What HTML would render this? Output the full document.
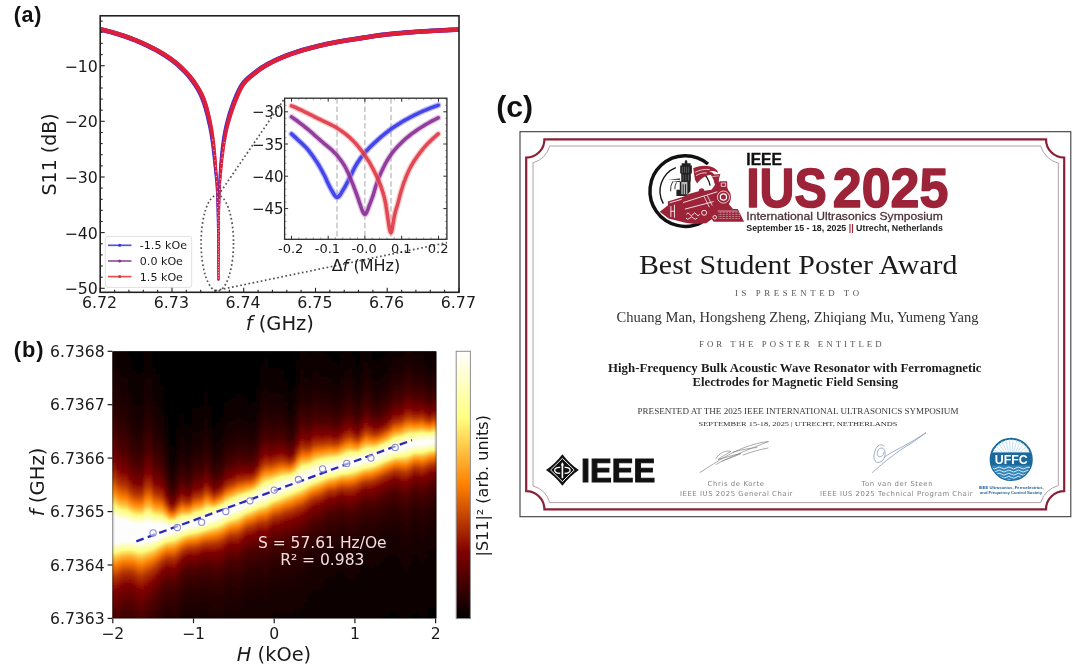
<!DOCTYPE html>
<html lang="en"><head><meta charset="utf-8"><title>Figure</title>
<style>
html,body{margin:0;padding:0;background:#fff;}
body{width:1080px;height:670px;overflow:hidden;}
svg{display:block;filter:blur(0.45px);}
</style></head><body>
<svg width="1080" height="670" viewBox="0 0 1080 670">
<rect width="1080" height="670" fill="#fff"/>
<!-- part_a -->
<clipPath id="ca"><rect x="100.2" y="15.8" width="358.8" height="276.5"/></clipPath><g clip-path="url(#ca)">
<path d="M98.6 31.4 L100.8 31.9 L103 32.4 L105.1 33 L107.3 33.5 L109.4 34.1 L111.6 34.7 L113.7 35.3 L115.9 36 L118 36.6 L120.1 37.3 L122.2 38 L124.3 38.7 L126.4 39.4 L128.5 40.2 L130.6 41 L132.7 41.8 L134.7 42.6 L136.8 43.5 L138.8 44.3 L140.8 45.2 L142.9 46.2 L144.9 47.1 L146.9 48.1 L148.9 49.1 L150.9 50.1 L152.8 51.1 L154.8 52.1 L156.8 53.2 L158.7 54.3 L160.6 55.4 L162.4 56.6 L164.3 57.7 L166.1 59 L168 60.2 L169.8 61.5 L171.6 62.8 L173.3 64.2 L175 65.6 L176.7 67 L178.3 68.4 L179.8 69.9 L181.4 71.5 L183 73.1 L184.5 74.7 L186 76.3 L187.4 78 L188.8 79.7 L190.1 81.5 L191.4 83.2 L192.6 85 L193.8 86.8 L195 88.7 L196.2 90.6 L197.2 92.5 L198.3 94.5 L199.2 96.4 L200 98.4 L200.8 100.4 L201.6 102.4 L202.3 104.5 L202.9 106.6 L203.6 108.7 L204.2 110.9 L204.8 113 L205.4 115.2 L205.9 117.3 L206.4 119.5 L206.9 121.7 L207.4 123.9 L207.9 126 L208.4 128.2 L208.8 130.4 L209.2 132.6 L209.6 134.8 L209.9 137 L210.3 139.2 L210.6 141.4 L210.9 143.6 L211.2 145.8 L211.5 148.1 L211.8 150.3 L212 152.5 L212.3 154.7 L212.6 157 L212.8 159.2 L213.1 161.4 L213.3 163.7 L213.5 165.9 L213.8 168.1 L214 170.4 L214.2 172.6 L214.5 174.8 L214.7 177.1 L215 179.3 L215.2 181.5 L215.4 183.8 L215.6 186 L215.7 188.2 L215.8 190.5 L216 192.7 L216.1 194.9 L216.2 197.2 L216.3 199.4 L216.3 201.7 L216.4 203.9 L216.4 206.2 L216.5 208.4 L216.6 210.7 L216.6 212.9 L216.7 215.1 L216.7 217.4 L216.8 219.6 L216.8 221.9 L216.8 224.1 L216.9 226.4 L216.9 228.6 L217 230.9 L217 233.1 L217 235.4 L217.1 237.6 L217.1 239.9 L217.1 242.1 L217.2 244.4 L217.2 246.6 L217.2 248.8 L217.3 251.1 L217.3 253.3 L217.3 255.6 L217.4 257.8 L217.4 260.1 L217.4 262.3 L217.5 264.6 L217.5 266.8 L217.5 269.1 L217.5 271.3 L217.6 273.6 L217.6 275.8 L217.6 278.1 L217.6 280.3 L219.2 280.3 L219.2 278 L219.2 275.8 L219.2 273.6 L219.2 271.3 L219.2 269.1 L219.2 266.8 L219.2 264.6 L219.2 262.3 L219.2 260.1 L219.2 257.8 L219.2 255.6 L219.1 253.3 L219.1 251.1 L219.1 248.8 L219.1 246.6 L219.1 244.3 L219.1 242.1 L219.1 239.8 L219 237.6 L219 235.3 L219 233.1 L219 230.8 L219 228.6 L218.9 226.4 L218.9 224.1 L218.9 221.9 L218.9 219.6 L218.8 217.4 L218.8 215.1 L218.8 212.9 L218.7 210.6 L218.7 208.4 L218.7 206.1 L218.6 203.9 L218.6 201.6 L218.5 199.4 L218.5 197.1 L218.4 194.9 L218.3 192.6 L218.3 190.4 L218.2 188.1 L218.1 185.9 L218 183.6 L217.8 181.3 L217.7 179.1 L217.5 176.8 L217.3 174.6 L217.1 172.4 L216.9 170.1 L216.8 167.9 L216.6 165.6 L216.4 163.4 L216.2 161.1 L216 158.9 L215.9 156.7 L215.6 154.4 L215.4 152.2 L215.2 149.9 L215 147.7 L214.8 145.4 L214.5 143.2 L214.3 140.9 L214 138.7 L213.7 136.4 L213.4 134.2 L213.1 132 L212.7 129.7 L212.3 127.5 L211.9 125.2 L211.5 123 L211.1 120.8 L210.6 118.6 L210.1 116.4 L209.6 114.1 L209.1 111.9 L208.5 109.7 L207.9 107.5 L207.3 105.3 L206.7 103.1 L205.9 100.9 L205.2 98.7 L204.3 96.6 L203.4 94.5 L202.4 92.4 L201.3 90.3 L200.2 88.3 L199 86.3 L197.7 84.3 L196.5 82.4 L195.2 80.5 L193.8 78.7 L192.4 76.9 L191 75.1 L189.5 73.3 L187.9 71.6 L186.3 69.9 L184.7 68.2 L183.1 66.6 L181.4 65 L179.7 63.5 L178 62 L176.2 60.5 L174.4 59.1 L172.5 57.7 L170.7 56.4 L168.8 55.1 L166.9 53.8 L164.9 52.6 L163 51.4 L161 50.2 L159 49.1 L157 48 L155 46.9 L153 45.9 L151 44.9 L148.9 43.9 L146.9 42.9 L144.8 41.9 L142.8 41 L140.7 40.1 L138.6 39.1 L136.5 38.3 L134.4 37.4 L132.3 36.6 L130.1 35.8 L128 35 L125.8 34.3 L123.7 33.5 L121.5 32.8 L119.4 32.2 L117.2 31.5 L115 30.8 L112.9 30.2 L110.7 29.6 L108.5 29 L106.3 28.4 L104.1 27.9 L101.9 27.3 L99.7 26.8Z" fill="#3b3be8"/>
<path d="M99 31.3 L101.2 31.8 L103.4 32.3 L105.6 32.9 L107.7 33.4 L109.9 34 L112 34.6 L114.1 35.2 L116.3 35.9 L118.4 36.5 L120.5 37.2 L122.6 37.9 L124.8 38.6 L126.8 39.3 L128.9 40.1 L131 40.9 L133.1 41.7 L135.2 42.5 L137.2 43.4 L139.2 44.2 L141.3 45.1 L143.3 46.1 L145.3 47 L147.3 48 L149.3 49 L151.3 50 L153.3 51 L155.3 52 L157.2 53.1 L159.1 54.2 L161 55.3 L162.9 56.5 L164.8 57.6 L166.6 58.9 L168.4 60.1 L170.3 61.4 L172 62.7 L173.8 64.1 L175.5 65.5 L177.1 66.9 L178.7 68.3 L180.3 69.9 L181.9 71.4 L183.4 73 L185 74.6 L186.4 76.3 L187.9 78 L189.3 79.7 L190.6 81.4 L191.9 83.2 L193.1 84.9 L194.3 86.8 L195.5 88.6 L196.7 90.5 L197.7 92.5 L198.8 94.4 L199.7 96.4 L200.5 98.3 L201.3 100.3 L202.1 102.4 L202.8 104.5 L203.4 106.6 L204.1 108.7 L204.7 110.9 L205.3 113 L205.9 115.2 L206.4 117.3 L206.9 119.5 L207.4 121.7 L207.9 123.8 L208.4 126 L208.9 128.2 L209.3 130.4 L209.7 132.6 L210.1 134.8 L210.4 137 L210.8 139.2 L211.1 141.4 L211.4 143.6 L211.7 145.8 L212 148.1 L212.3 150.3 L212.5 152.5 L212.8 154.7 L213 156.9 L213.3 159.2 L213.5 161.4 L213.7 163.6 L213.9 165.9 L214.1 168.1 L214.4 170.4 L214.6 172.6 L214.8 174.8 L215.1 177.1 L215.3 179.3 L215.5 181.5 L215.7 183.8 L215.8 186 L216 188.2 L216.1 190.5 L216.2 192.7 L216.3 194.9 L216.4 197.2 L216.5 199.4 L216.5 201.7 L216.6 203.9 L216.6 206.2 L216.7 208.4 L216.7 210.7 L216.8 212.9 L216.8 215.1 L216.9 217.4 L216.9 219.6 L217 221.9 L217 224.1 L217 226.4 L217.1 228.6 L217.1 230.9 L217.2 233.1 L217.2 235.4 L217.2 237.6 L217.2 239.9 L217.3 242.1 L217.3 244.4 L217.3 246.6 L217.4 248.8 L217.4 251.1 L217.4 253.3 L217.5 255.6 L217.5 257.8 L217.5 260.1 L217.5 262.3 L217.6 264.6 L217.6 266.8 L217.6 269.1 L217.6 271.3 L217.7 273.6 L217.7 275.8 L217.7 278.1 L217.7 280.3 L219.3 280.3 L219.2 278 L219.2 275.8 L219.2 273.6 L219.2 271.3 L219.2 269.1 L219.2 266.8 L219.2 264.6 L219.2 262.3 L219.2 260.1 L219.2 257.8 L219.2 255.6 L219.2 253.3 L219.2 251.1 L219.1 248.8 L219.1 246.6 L219.1 244.3 L219.1 242.1 L219.1 239.8 L219.1 237.6 L219.1 235.3 L219.1 233.1 L219 230.8 L219 228.6 L219 226.4 L219 224.1 L219 221.9 L218.9 219.6 L218.9 217.4 L218.9 215.1 L218.8 212.9 L218.8 210.6 L218.8 208.4 L218.7 206.1 L218.7 203.9 L218.7 201.6 L218.6 199.4 L218.6 197.1 L218.5 194.9 L218.5 192.6 L218.4 190.4 L218.3 188.1 L218.3 185.9 L218.2 183.6 L218 181.3 L217.9 179.1 L217.7 176.8 L217.5 174.6 L217.3 172.4 L217.1 170.1 L217 167.9 L216.8 165.6 L216.7 163.4 L216.5 161.2 L216.3 158.9 L216.1 156.7 L215.9 154.4 L215.7 152.2 L215.5 149.9 L215.3 147.7 L215.1 145.4 L214.8 143.2 L214.6 140.9 L214.3 138.7 L214 136.5 L213.7 134.2 L213.4 132 L213 129.7 L212.6 127.5 L212.2 125.3 L211.8 123 L211.4 120.8 L210.9 118.6 L210.4 116.4 L209.9 114.2 L209.4 112 L208.8 109.7 L208.2 107.5 L207.6 105.3 L206.9 103.1 L206.2 100.9 L205.5 98.8 L204.6 96.7 L203.7 94.5 L202.7 92.4 L201.6 90.4 L200.5 88.3 L199.3 86.3 L198 84.4 L196.8 82.5 L195.5 80.6 L194.1 78.8 L192.7 76.9 L191.3 75.1 L189.8 73.4 L188.2 71.6 L186.6 69.9 L185 68.3 L183.4 66.7 L181.7 65.1 L180.1 63.6 L178.3 62.1 L176.5 60.6 L174.7 59.2 L172.9 57.8 L171 56.5 L169.1 55.2 L167.2 53.9 L165.3 52.7 L163.3 51.5 L161.4 50.3 L159.4 49.2 L157.4 48.1 L155.4 47 L153.3 46 L151.3 45 L149.3 44 L147.2 43 L145.2 42 L143.1 41.1 L141 40.2 L138.9 39.3 L136.8 38.4 L134.7 37.5 L132.6 36.7 L130.5 35.9 L128.4 35.1 L126.2 34.4 L124.1 33.6 L121.9 32.9 L119.7 32.3 L117.6 31.6 L115.4 31 L113.2 30.3 L111.1 29.7 L108.9 29.1 L106.7 28.5 L104.5 28 L102.3 27.4 L100.1 26.9Z" fill="#8a1f8f"/>
<path d="M99.6 31.1 L101.8 31.6 L103.9 32.2 L106.1 32.7 L108.2 33.3 L110.4 33.9 L112.5 34.5 L114.7 35.1 L116.8 35.7 L119 36.4 L121.1 37 L123.2 37.7 L125.3 38.4 L127.4 39.2 L129.5 40 L131.6 40.7 L133.7 41.5 L135.7 42.4 L137.8 43.2 L139.8 44.1 L141.8 45 L143.9 45.9 L145.9 46.9 L147.9 47.8 L149.9 48.8 L151.9 49.8 L153.9 50.9 L155.8 51.9 L157.8 53 L159.7 54.1 L161.6 55.2 L163.5 56.3 L165.3 57.5 L167.2 58.7 L169 60 L170.8 61.3 L172.6 62.6 L174.4 64 L176.1 65.4 L177.7 66.8 L179.3 68.2 L180.9 69.7 L182.5 71.3 L184.1 72.9 L185.6 74.5 L187.1 76.2 L188.5 77.9 L189.9 79.6 L191.2 81.3 L192.5 83.1 L193.7 84.9 L195 86.7 L196.1 88.6 L197.3 90.5 L198.4 92.4 L199.4 94.3 L200.3 96.3 L201.2 98.3 L202 100.3 L202.7 102.3 L203.4 104.4 L204.1 106.5 L204.7 108.7 L205.3 110.8 L205.9 113 L206.5 115.1 L207 117.3 L207.6 119.5 L208.1 121.6 L208.6 123.8 L209 126 L209.5 128.2 L209.9 130.4 L210.3 132.6 L210.7 134.8 L211 137 L211.4 139.2 L211.7 141.4 L212 143.6 L212.3 145.8 L212.6 148 L212.9 150.3 L213.1 152.5 L213.4 154.7 L213.6 156.9 L213.8 159.2 L214 161.4 L214.2 163.6 L214.4 165.9 L214.6 168.1 L214.8 170.4 L215 172.6 L215.3 174.8 L215.5 177.1 L215.7 179.3 L215.9 181.5 L216 183.8 L216.2 186 L216.3 188.2 L216.4 190.5 L216.5 192.7 L216.6 194.9 L216.6 197.2 L216.7 199.4 L216.8 201.7 L216.8 203.9 L216.9 206.2 L216.9 208.4 L217 210.7 L217 212.9 L217.1 215.1 L217.1 217.4 L217.1 219.6 L217.2 221.9 L217.2 224.1 L217.2 226.4 L217.3 228.6 L217.3 230.9 L217.3 233.1 L217.4 235.4 L217.4 237.6 L217.4 239.9 L217.5 242.1 L217.5 244.4 L217.5 246.6 L217.5 248.8 L217.6 251.1 L217.6 253.3 L217.6 255.6 L217.6 257.8 L217.7 260.1 L217.7 262.3 L217.7 264.6 L217.7 266.8 L217.7 269.1 L217.8 271.3 L217.8 273.6 L217.8 275.8 L217.8 278.1 L217.8 280.3 L219.3 280.3 L219.3 278 L219.3 275.8 L219.3 273.6 L219.2 271.3 L219.2 269.1 L219.2 266.8 L219.2 264.6 L219.2 262.3 L219.2 260.1 L219.2 257.8 L219.2 255.6 L219.2 253.3 L219.2 251.1 L219.2 248.8 L219.2 246.6 L219.2 244.3 L219.2 242.1 L219.2 239.8 L219.1 237.6 L219.1 235.3 L219.1 233.1 L219.1 230.8 L219.1 228.6 L219.1 226.4 L219 224.1 L219 221.9 L219 219.6 L219 217.4 L219 215.1 L218.9 212.9 L218.9 210.6 L218.9 208.4 L218.8 206.1 L218.8 203.9 L218.8 201.6 L218.7 199.4 L218.7 197.1 L218.6 194.9 L218.6 192.6 L218.6 190.4 L218.5 188.1 L218.4 185.9 L218.3 183.6 L218.2 181.4 L218.1 179.1 L217.9 176.9 L217.7 174.6 L217.6 172.4 L217.4 170.1 L217.3 167.9 L217.1 165.6 L217 163.4 L216.8 161.2 L216.7 158.9 L216.5 156.7 L216.3 154.4 L216.1 152.2 L215.9 149.9 L215.7 147.7 L215.5 145.4 L215.2 143.2 L214.9 141 L214.7 138.7 L214.4 136.5 L214.1 134.2 L213.7 132 L213.4 129.8 L213 127.5 L212.6 125.3 L212.2 123.1 L211.7 120.8 L211.2 118.6 L210.8 116.4 L210.3 114.2 L209.7 112 L209.2 109.8 L208.6 107.6 L208 105.4 L207.3 103.2 L206.6 101 L205.8 98.8 L205 96.7 L204.1 94.6 L203.1 92.5 L202 90.4 L200.8 88.4 L199.6 86.4 L198.4 84.5 L197.1 82.6 L195.9 80.7 L194.5 78.8 L193.1 77 L191.7 75.2 L190.2 73.5 L188.6 71.7 L187 70 L185.4 68.4 L183.8 66.8 L182.1 65.2 L180.5 63.7 L178.7 62.2 L176.9 60.7 L175.1 59.3 L173.3 58 L171.4 56.6 L169.5 55.3 L167.6 54.1 L165.7 52.8 L163.8 51.6 L161.8 50.5 L159.8 49.3 L157.8 48.3 L155.8 47.2 L153.8 46.1 L151.7 45.1 L149.7 44.1 L147.7 43.1 L145.6 42.2 L143.5 41.2 L141.5 40.3 L139.4 39.4 L137.3 38.5 L135.2 37.7 L133.1 36.9 L130.9 36.1 L128.8 35.3 L126.7 34.5 L124.5 33.8 L122.3 33.1 L120.2 32.4 L118 31.7 L115.9 31.1 L113.7 30.5 L111.5 29.9 L109.3 29.3 L107.1 28.7 L104.9 28.1 L102.7 27.6 L100.5 27.1Z" fill="#e8202f" fill-opacity="0.88"/>
<path d="M219.2 280.3 L219.3 277.2 L219.3 274.2 L219.3 271.1 L219.3 268 L219.4 264.9 L219.4 261.9 L219.4 258.8 L219.5 255.7 L219.5 252.6 L219.5 249.6 L219.6 246.5 L219.6 243.4 L219.6 240.3 L219.6 237.3 L219.7 234.2 L219.7 231.1 L219.7 228.1 L219.8 225 L219.8 221.9 L219.9 218.8 L219.9 215.8 L219.9 212.7 L220 209.6 L220.1 206.5 L220.1 203.5 L220.2 200.4 L220.2 197.3 L220.3 194.3 L220.4 191.2 L220.5 188.1 L220.7 185.1 L220.9 182 L221.1 179 L221.3 175.9 L221.6 172.9 L221.9 169.8 L222.1 166.8 L222.4 163.7 L222.7 160.7 L223.1 157.6 L223.4 154.6 L223.8 151.5 L224.2 148.5 L224.7 145.5 L225.1 142.5 L225.6 139.4 L226.2 136.5 L226.8 133.5 L227.4 130.5 L228.1 127.6 L228.9 124.6 L229.7 121.7 L230.6 118.8 L231.5 115.9 L232.4 113 L233.4 110.1 L234.5 107.2 L235.5 104.4 L236.6 101.6 L237.8 98.8 L239 95.9 L240.2 93.1 L241.5 90.4 L242.9 87.8 L244.4 85.5 L246.1 83.3 L248.1 81.3 L250.4 79.3 L252.7 77.3 L255.1 75.4 L257.5 73.5 L259.9 71.7 L262.4 70 L264.9 68.4 L267.5 66.9 L270.1 65.5 L272.8 64.1 L275.5 62.7 L278.3 61.4 L281.1 60.2 L283.9 59 L286.7 57.9 L289.5 56.8 L292.4 55.8 L295.3 54.8 L298.2 53.9 L301.1 53 L304 52.1 L306.9 51.3 L309.9 50.5 L312.8 49.7 L315.8 49 L318.8 48.2 L321.7 47.5 L324.7 46.8 L327.7 46.2 L330.7 45.6 L333.7 45 L336.7 44.4 L339.7 43.9 L342.7 43.3 L345.7 42.8 L348.7 42.4 L351.8 41.9 L354.8 41.4 L357.9 40.9 L360.9 40.5 L363.9 40 L367 39.5 L370 39 L373 38.5 L376 38.1 L379.1 37.7 L382.1 37.3 L385.1 36.9 L388.2 36.6 L391.2 36.3 L394.3 36 L397.3 35.7 L400.4 35.4 L403.4 35.2 L406.5 34.9 L409.5 34.7 L412.6 34.4 L415.6 34.2 L418.7 34 L421.8 33.8 L424.8 33.6 L427.9 33.4 L430.9 33.3 L434 33.1 L437.1 32.9 L440.1 32.8 L443.2 32.6 L446.3 32.5 L449.3 32.3 L452.4 32.2 L455.5 32.1 L458.5 31.9 L458.4 27.3 L455.3 27.4 L452.2 27.5 L449.1 27.6 L446.1 27.8 L443 27.9 L439.9 28.1 L436.8 28.2 L433.8 28.4 L430.7 28.6 L427.6 28.8 L424.5 28.9 L421.5 29.1 L418.4 29.3 L415.3 29.5 L412.2 29.8 L409.2 30 L406.1 30.2 L403 30.5 L399.9 30.7 L396.9 31 L393.8 31.3 L390.7 31.6 L387.7 31.9 L384.6 32.3 L381.5 32.6 L378.5 33 L375.4 33.4 L372.3 33.9 L369.3 34.4 L366.2 34.9 L363.2 35.3 L360.2 35.8 L357.1 36.3 L354.1 36.8 L351.1 37.3 L348 37.7 L345 38.2 L341.9 38.7 L338.9 39.2 L335.8 39.8 L332.8 40.4 L329.7 41 L326.7 41.6 L323.7 42.3 L320.7 43 L317.7 43.7 L314.7 44.4 L311.7 45.2 L308.7 46 L305.7 46.8 L302.7 47.6 L299.7 48.5 L296.7 49.4 L293.8 50.4 L290.8 51.4 L287.9 52.5 L285 53.6 L282.1 54.7 L279.2 55.9 L276.4 57.2 L273.5 58.5 L270.7 59.9 L267.9 61.3 L265.2 62.8 L262.5 64.4 L259.8 66.1 L257.2 67.9 L254.7 69.8 L252.3 71.7 L249.8 73.7 L247.3 75.8 L244.9 77.9 L242.7 80.3 L240.7 82.8 L238.9 85.5 L237.4 88.3 L236 91.2 L234.7 94.1 L233.5 97 L232.4 99.8 L231.2 102.8 L230.2 105.7 L229.2 108.6 L228.2 111.6 L227.3 114.6 L226.5 117.6 L225.7 120.6 L224.9 123.6 L224.2 126.6 L223.5 129.7 L223 132.7 L222.4 135.8 L221.9 138.8 L221.5 141.9 L221.1 145 L220.7 148.1 L220.4 151.1 L220.1 154.2 L219.8 157.3 L219.6 160.3 L219.3 163.4 L219.1 166.5 L218.9 169.6 L218.7 172.6 L218.5 175.7 L218.4 178.8 L218.2 181.9 L218.1 185 L218.1 188 L218 191.1 L218 194.2 L218 197.3 L217.9 200.4 L217.9 203.4 L217.8 206.5 L217.8 209.6 L217.8 212.7 L217.8 215.7 L217.7 218.8 L217.7 221.9 L217.7 225 L217.7 228 L217.7 231.1 L217.7 234.2 L217.7 237.3 L217.7 240.3 L217.7 243.4 L217.7 246.5 L217.7 249.6 L217.7 252.6 L217.6 255.7 L217.6 258.8 L217.6 261.9 L217.6 264.9 L217.6 268 L217.6 271.1 L217.6 274.1 L217.6 277.2 L217.6 280.3Z" fill="#3b3be8"/>
<path d="M219.3 280.3 L219.3 277.2 L219.3 274.2 L219.3 271.1 L219.4 268 L219.4 264.9 L219.4 261.9 L219.5 258.8 L219.5 255.7 L219.5 252.6 L219.6 249.6 L219.6 246.5 L219.6 243.4 L219.7 240.3 L219.7 237.3 L219.7 234.2 L219.8 231.1 L219.8 228.1 L219.8 225 L219.9 221.9 L219.9 218.8 L220 215.8 L220 212.7 L220.1 209.6 L220.1 206.5 L220.2 203.5 L220.3 200.4 L220.3 197.3 L220.4 194.3 L220.6 191.2 L220.7 188.1 L220.8 185.1 L221 182 L221.3 179 L221.5 175.9 L221.8 172.9 L222.1 169.8 L222.4 166.7 L222.7 163.7 L223 160.7 L223.3 157.6 L223.7 154.6 L224.1 151.5 L224.5 148.5 L225 145.5 L225.4 142.4 L226 139.4 L226.5 136.4 L227.1 133.5 L227.7 130.5 L228.5 127.6 L229.2 124.6 L230.1 121.7 L230.9 118.7 L231.8 115.8 L232.7 112.9 L233.7 110.1 L234.8 107.2 L235.8 104.4 L236.9 101.5 L238.1 98.7 L239.3 95.9 L240.5 93.1 L241.8 90.3 L243.2 87.8 L244.7 85.4 L246.5 83.3 L248.5 81.2 L250.7 79.2 L253.1 77.2 L255.5 75.3 L257.9 73.4 L260.3 71.6 L262.8 69.9 L265.3 68.3 L267.8 66.8 L270.5 65.4 L273.2 64 L275.9 62.6 L278.7 61.3 L281.4 60.1 L284.3 58.9 L287.1 57.8 L289.9 56.7 L292.7 55.7 L295.6 54.7 L298.5 53.8 L301.4 52.9 L304.4 52 L307.3 51.2 L310.3 50.4 L313.2 49.6 L316.2 48.9 L319.1 48.1 L322.1 47.4 L325.1 46.7 L328.1 46.1 L331.1 45.5 L334.1 44.9 L337.1 44.3 L340.1 43.7 L343.1 43.2 L346.1 42.7 L349.1 42.3 L352.2 41.8 L355.2 41.3 L358.2 40.8 L361.3 40.4 L364.3 39.9 L367.4 39.4 L370.4 38.9 L373.4 38.4 L376.4 38 L379.4 37.6 L382.5 37.2 L385.5 36.8 L388.5 36.5 L391.6 36.2 L394.6 35.9 L397.7 35.6 L400.7 35.3 L403.8 35 L406.9 34.8 L409.9 34.6 L413 34.3 L416 34.1 L419.1 33.9 L422.2 33.7 L425.2 33.5 L428.3 33.3 L431.3 33.2 L434.4 33 L437.5 32.8 L440.5 32.7 L443.6 32.5 L446.7 32.4 L449.7 32.2 L452.8 32.1 L455.9 32 L458.9 31.8 L458.8 27.4 L455.7 27.5 L452.6 27.6 L449.5 27.7 L446.5 27.9 L443.4 28 L440.3 28.2 L437.2 28.4 L434.2 28.5 L431.1 28.7 L428 28.9 L424.9 29.1 L421.9 29.2 L418.8 29.4 L415.7 29.7 L412.6 29.9 L409.6 30.1 L406.5 30.3 L403.4 30.6 L400.4 30.9 L397.3 31.1 L394.2 31.4 L391.1 31.7 L388.1 32 L385 32.4 L381.9 32.7 L378.9 33.1 L375.8 33.5 L372.7 34 L369.7 34.5 L366.6 35 L363.6 35.5 L360.6 36 L357.5 36.4 L354.5 36.9 L351.5 37.4 L348.4 37.8 L345.4 38.3 L342.3 38.8 L339.3 39.4 L336.2 39.9 L333.2 40.5 L330.2 41.1 L327.1 41.7 L324.1 42.4 L321.1 43.1 L318.1 43.8 L315.1 44.5 L312.1 45.3 L309.1 46.1 L306.1 46.9 L303.1 47.7 L300.1 48.6 L297.2 49.5 L294.2 50.5 L291.3 51.5 L288.4 52.6 L285.5 53.7 L282.6 54.8 L279.7 56 L276.8 57.3 L274 58.6 L271.2 60 L268.4 61.4 L265.7 62.9 L263 64.5 L260.3 66.2 L257.7 68 L255.2 69.9 L252.7 71.8 L250.3 73.8 L247.8 75.8 L245.4 78 L243.1 80.3 L241.1 82.8 L239.4 85.5 L237.9 88.3 L236.5 91.2 L235.2 94.2 L234 97 L232.9 99.9 L231.7 102.8 L230.7 105.7 L229.7 108.7 L228.7 111.7 L227.8 114.6 L227 117.6 L226.2 120.6 L225.4 123.6 L224.7 126.6 L224 129.7 L223.4 132.7 L222.9 135.8 L222.4 138.9 L222 141.9 L221.6 145 L221.2 148.1 L220.9 151.1 L220.5 154.2 L220.2 157.3 L220 160.3 L219.7 163.4 L219.5 166.5 L219.3 169.6 L219.1 172.6 L218.9 175.7 L218.7 178.8 L218.5 181.9 L218.4 185 L218.3 188 L218.3 191.1 L218.2 194.2 L218.2 197.3 L218.1 200.4 L218.1 203.4 L218 206.5 L218 209.6 L218 212.7 L217.9 215.7 L217.9 218.8 L217.9 221.9 L217.9 225 L217.9 228 L217.8 231.1 L217.8 234.2 L217.8 237.3 L217.8 240.3 L217.8 243.4 L217.8 246.5 L217.8 249.6 L217.8 252.6 L217.8 255.7 L217.8 258.8 L217.8 261.9 L217.7 264.9 L217.7 268 L217.7 271.1 L217.7 274.1 L217.7 277.2 L217.7 280.3Z" fill="#8a1f8f"/>
<path d="M219.3 280.3 L219.3 277.2 L219.3 274.2 L219.4 271.1 L219.4 268 L219.4 264.9 L219.5 261.9 L219.5 258.8 L219.5 255.7 L219.6 252.6 L219.6 249.6 L219.6 246.5 L219.7 243.4 L219.7 240.3 L219.7 237.3 L219.8 234.2 L219.8 231.1 L219.9 228.1 L219.9 225 L219.9 221.9 L220 218.8 L220 215.8 L220.1 212.7 L220.2 209.6 L220.2 206.5 L220.3 203.5 L220.4 200.4 L220.5 197.3 L220.6 194.3 L220.7 191.2 L220.9 188.1 L221 185.1 L221.2 182 L221.5 179 L221.8 175.9 L222.1 172.9 L222.4 169.8 L222.7 166.7 L223 163.7 L223.3 160.6 L223.7 157.6 L224.1 154.6 L224.5 151.5 L224.9 148.5 L225.3 145.5 L225.8 142.4 L226.3 139.4 L226.9 136.4 L227.5 133.4 L228.1 130.5 L228.8 127.5 L229.6 124.6 L230.4 121.6 L231.3 118.7 L232.2 115.8 L233.1 112.9 L234.1 110 L235.1 107.1 L236.2 104.3 L237.3 101.5 L238.5 98.7 L239.6 95.8 L240.9 93 L242.2 90.3 L243.6 87.7 L245.1 85.3 L246.8 83.2 L248.9 81.1 L251.1 79.1 L253.5 77.1 L255.9 75.2 L258.3 73.3 L260.7 71.5 L263.2 69.8 L265.7 68.2 L268.3 66.7 L270.9 65.2 L273.6 63.8 L276.3 62.5 L279.1 61.2 L281.9 60 L284.7 58.8 L287.5 57.7 L290.4 56.6 L293.2 55.6 L296.1 54.6 L299 53.6 L301.9 52.7 L304.8 51.9 L307.8 51 L310.7 50.2 L313.7 49.5 L316.6 48.7 L319.6 48 L322.6 47.3 L325.6 46.6 L328.5 45.9 L331.5 45.3 L334.5 44.7 L337.5 44.1 L340.5 43.6 L343.5 43.1 L346.6 42.6 L349.6 42.1 L352.6 41.6 L355.7 41.2 L358.7 40.7 L361.8 40.2 L364.8 39.7 L367.8 39.2 L370.9 38.7 L373.9 38.3 L376.9 37.8 L379.9 37.4 L383 37 L386 36.7 L389 36.3 L392.1 36 L395.1 35.7 L398.2 35.4 L401.2 35.1 L404.3 34.9 L407.3 34.6 L410.4 34.4 L413.5 34.2 L416.5 34 L419.6 33.7 L422.6 33.5 L425.7 33.4 L428.8 33.2 L431.8 33 L434.9 32.8 L438 32.7 L441 32.5 L444.1 32.3 L447.2 32.2 L450.2 32.1 L453.3 31.9 L456.4 31.8 L459.4 31.7 L459.3 27.5 L456.2 27.6 L453.1 27.8 L450 27.9 L447 28 L443.9 28.2 L440.8 28.4 L437.7 28.5 L434.7 28.7 L431.6 28.8 L428.5 29 L425.5 29.2 L422.4 29.4 L419.3 29.6 L416.2 29.8 L413.2 30 L410.1 30.3 L407 30.5 L403.9 30.7 L400.9 31 L397.8 31.3 L394.7 31.6 L391.7 31.9 L388.6 32.2 L385.5 32.5 L382.5 32.9 L379.4 33.3 L376.3 33.7 L373.3 34.2 L370.2 34.6 L367.2 35.1 L364.1 35.6 L361.1 36.1 L358.1 36.6 L355 37.1 L352 37.5 L349 38 L345.9 38.5 L342.9 39 L339.8 39.5 L336.8 40.1 L333.7 40.6 L330.7 41.2 L327.7 41.9 L324.7 42.5 L321.6 43.2 L318.6 43.9 L315.6 44.7 L312.6 45.4 L309.6 46.2 L306.7 47 L303.7 47.9 L300.7 48.8 L297.7 49.7 L294.8 50.7 L291.8 51.7 L288.9 52.7 L286 53.8 L283.1 55 L280.2 56.2 L277.4 57.4 L274.5 58.8 L271.7 60.1 L269 61.6 L266.2 63.1 L263.5 64.6 L260.9 66.3 L258.3 68.2 L255.8 70 L253.3 71.9 L250.9 73.9 L248.4 76 L246 78.1 L243.8 80.4 L241.8 82.9 L240.1 85.6 L238.5 88.4 L237.2 91.3 L235.9 94.2 L234.7 97.1 L233.5 99.9 L232.4 102.8 L231.3 105.8 L230.3 108.7 L229.4 111.7 L228.5 114.7 L227.6 117.7 L226.8 120.6 L226.1 123.7 L225.3 126.7 L224.7 129.7 L224.1 132.8 L223.5 135.8 L223.1 138.9 L222.6 141.9 L222.2 145 L221.8 148.1 L221.5 151.2 L221.1 154.2 L220.8 157.3 L220.5 160.4 L220.2 163.4 L220 166.5 L219.7 169.6 L219.5 172.6 L219.3 175.7 L219.1 178.8 L218.9 181.9 L218.8 185 L218.7 188 L218.6 191.1 L218.5 194.2 L218.4 197.3 L218.4 200.4 L218.3 203.4 L218.3 206.5 L218.2 209.6 L218.2 212.7 L218.1 215.7 L218.1 218.8 L218.1 221.9 L218.1 225 L218.1 228 L218 231.1 L218 234.2 L218 237.3 L218 240.3 L218 243.4 L218 246.5 L217.9 249.6 L217.9 252.6 L217.9 255.7 L217.9 258.8 L217.9 261.9 L217.9 264.9 L217.9 268 L217.9 271.1 L217.8 274.1 L217.8 277.2 L217.8 280.3Z" fill="#e8202f" fill-opacity="0.88"/>
<g fill="#f9c4d2" fill-opacity="0.85"><circle cx="212.7" cy="140" r="0.65"/><circle cx="224.3" cy="142.6" r="0.65"/><circle cx="213.4" cy="145.2" r="0.65"/><circle cx="223.6" cy="147.8" r="0.65"/><circle cx="214" cy="150.4" r="0.65"/><circle cx="222.8" cy="153" r="0.65"/><circle cx="214.6" cy="155.6" r="0.65"/><circle cx="222.2" cy="158.2" r="0.65"/><circle cx="215" cy="160.8" r="0.65"/><circle cx="221.7" cy="163.4" r="0.65"/><circle cx="215.5" cy="166" r="0.65"/><circle cx="221.2" cy="168.6" r="0.65"/><circle cx="215.9" cy="171.2" r="0.65"/><circle cx="220.7" cy="173.8" r="0.65"/><circle cx="216.3" cy="176.4" r="0.65"/><circle cx="220.3" cy="179" r="0.65"/><circle cx="216.7" cy="181.6" r="0.65"/><circle cx="220" cy="184.2" r="0.65"/><circle cx="217.2" cy="186.8" r="0.65"/><circle cx="219.6" cy="189.4" r="0.65"/><circle cx="217.3" cy="192" r="0.65"/><circle cx="219.5" cy="194.6" r="0.65"/><circle cx="217.4" cy="197.2" r="0.65"/><circle cx="219.4" cy="199.8" r="0.65"/><circle cx="217.6" cy="202.4" r="0.65"/><circle cx="219.3" cy="205" r="0.65"/><circle cx="217.7" cy="207.6" r="0.65"/><circle cx="219.2" cy="210.2" r="0.65"/><circle cx="217.8" cy="212.8" r="0.65"/><circle cx="219" cy="215.4" r="0.65"/><circle cx="217.9" cy="218" r="0.65"/><circle cx="219" cy="220.6" r="0.65"/><circle cx="218" cy="223.2" r="0.65"/><circle cx="218.9" cy="225.8" r="0.65"/><circle cx="218.1" cy="228.4" r="0.65"/><circle cx="218.9" cy="231" r="0.65"/><circle cx="218.1" cy="233.6" r="0.65"/><circle cx="218.8" cy="236.2" r="0.65"/><circle cx="218.2" cy="238.8" r="0.65"/><circle cx="218.8" cy="241.4" r="0.65"/><circle cx="218.2" cy="244" r="0.65"/><circle cx="218.8" cy="246.6" r="0.65"/><circle cx="218.3" cy="249.2" r="0.65"/><circle cx="218.7" cy="251.8" r="0.65"/><circle cx="218.3" cy="254.4" r="0.65"/><circle cx="218.7" cy="257" r="0.65"/><circle cx="218.4" cy="259.6" r="0.65"/><circle cx="218.6" cy="262.2" r="0.65"/><circle cx="218.4" cy="264.8" r="0.65"/><circle cx="218.6" cy="267.4" r="0.65"/><circle cx="218.4" cy="270" r="0.65"/><circle cx="218.6" cy="272.6" r="0.65"/><circle cx="218.5" cy="275.2" r="0.65"/><circle cx="218.5" cy="277.8" r="0.65"/></g>
</g>
<g fill="none" stroke="#555" stroke-width="1.7" stroke-dasharray="1.7 2.5">
<ellipse cx="217.3" cy="243" rx="16.2" ry="48"/>
<path d="M218.5 195 L284.5 98.5"/>
<path d="M215.5 290.6 L447 242.6"/>
</g>
<rect x="284.6" y="98.2" width="162.3" height="141.1" fill="#fff"/>
<g stroke="#a6a6a6" stroke-width="1" stroke-dasharray="5.5 2.8">
<path d="M337 98.2 V239.3"/>
<path d="M364.9 98.2 V239.3"/>
<path d="M391 98.2 V239.3"/>
</g>
<g fill="none" stroke-linejoin="round" stroke-linecap="round">
<path d="M291.5 133.9 L292.9 135.1 L294.2 136.4 L295.6 137.6 L296.9 138.9 L298.3 140.2 L299.6 141.4 L301 142.7 L302.4 143.9 L303.7 145.2 L305 146.5 L306.3 147.8 L307.5 149.2 L308.7 150.6 L309.8 152.1 L311 153.6 L312.1 155.1 L313.1 156.6 L314.2 158.1 L315.2 159.6 L316.3 161.2 L317.3 162.7 L318.2 164.3 L319.2 165.9 L320.1 167.5 L321 169.1 L321.9 170.7 L322.8 172.4 L323.6 174 L324.5 175.6 L325.3 177.3 L326.1 179 L326.8 180.7 L327.6 182.4 L328.4 184.1 L329.2 185.7 L330 187.4 L330.9 189 L331.9 190.7 L333 192.7 L334.1 194.6 L335.3 196.2 L336.4 197.2 L337.6 197.3 L338.7 196.6 L339.9 195.2 L341.1 193.4 L342.2 191.4 L343.3 189.6 L344.2 188.1 L345.2 186.5 L346 184.9 L346.9 183.2 L347.8 181.6 L348.6 179.9 L349.4 178.3 L350.3 176.6 L351.1 174.9 L351.9 173.2 L352.6 171.6 L353.5 169.9 L354.3 168.2 L355.2 166.6 L356.1 165 L357 163.5 L358 161.9 L359.1 160.4 L360.1 158.8 L361.2 157.3 L362.4 155.9 L363.5 154.4 L364.7 153 L365.9 151.6 L367.1 150.2 L368.3 148.9 L369.6 147.5 L370.9 146.2 L372.3 144.9 L373.6 143.6 L375 142.4 L376.4 141.1 L377.7 139.9 L379.1 138.7 L380.5 137.4 L381.9 136.2 L383.3 135 L384.8 133.9 L386.2 132.7 L387.7 131.6 L389.1 130.4 L390.6 129.3 L392.1 128.3 L393.6 127.2 L395.2 126.2 L396.7 125.2 L398.3 124.2 L399.9 123.2 L401.4 122.2 L403 121.3 L404.6 120.4 L406.2 119.5 L407.9 118.6 L409.5 117.7 L411.1 116.8 L412.8 116 L414.4 115.1 L416.1 114.3 L417.8 113.5 L419.4 112.7 L421.1 112 L422.8 111.2 L424.5 110.5 L426.2 109.8 L427.9 109.1 L429.6 108.4 L431.4 107.7 L433.1 107.1 L434.8 106.4 L436.6 105.8 L438.3 105.2" stroke="#8585f8" stroke-width="6" stroke-opacity="0.55"/>
<path d="M291.5 133.9 L292.9 135.1 L294.2 136.4 L295.6 137.6 L296.9 138.9 L298.3 140.2 L299.6 141.4 L301 142.7 L302.4 143.9 L303.7 145.2 L305 146.5 L306.3 147.8 L307.5 149.2 L308.7 150.6 L309.8 152.1 L311 153.6 L312.1 155.1 L313.1 156.6 L314.2 158.1 L315.2 159.6 L316.3 161.2 L317.3 162.7 L318.2 164.3 L319.2 165.9 L320.1 167.5 L321 169.1 L321.9 170.7 L322.8 172.4 L323.6 174 L324.5 175.6 L325.3 177.3 L326.1 179 L326.8 180.7 L327.6 182.4 L328.4 184.1 L329.2 185.7 L330 187.4 L330.9 189 L331.9 190.7 L333 192.7 L334.1 194.6 L335.3 196.2 L336.4 197.2 L337.6 197.3 L338.7 196.6 L339.9 195.2 L341.1 193.4 L342.2 191.4 L343.3 189.6 L344.2 188.1 L345.2 186.5 L346 184.9 L346.9 183.2 L347.8 181.6 L348.6 179.9 L349.4 178.3 L350.3 176.6 L351.1 174.9 L351.9 173.2 L352.6 171.6 L353.5 169.9 L354.3 168.2 L355.2 166.6 L356.1 165 L357 163.5 L358 161.9 L359.1 160.4 L360.1 158.8 L361.2 157.3 L362.4 155.9 L363.5 154.4 L364.7 153 L365.9 151.6 L367.1 150.2 L368.3 148.9 L369.6 147.5 L370.9 146.2 L372.3 144.9 L373.6 143.6 L375 142.4 L376.4 141.1 L377.7 139.9 L379.1 138.7 L380.5 137.4 L381.9 136.2 L383.3 135 L384.8 133.9 L386.2 132.7 L387.7 131.6 L389.1 130.4 L390.6 129.3 L392.1 128.3 L393.6 127.2 L395.2 126.2 L396.7 125.2 L398.3 124.2 L399.9 123.2 L401.4 122.2 L403 121.3 L404.6 120.4 L406.2 119.5 L407.9 118.6 L409.5 117.7 L411.1 116.8 L412.8 116 L414.4 115.1 L416.1 114.3 L417.8 113.5 L419.4 112.7 L421.1 112 L422.8 111.2 L424.5 110.5 L426.2 109.8 L427.9 109.1 L429.6 108.4 L431.4 107.7 L433.1 107.1 L434.8 106.4 L436.6 105.8 L438.3 105.2" stroke="#3030e8" stroke-width="3.5" stroke-opacity="0.85"/>
<path d="M291.5 116.9 L293.2 118.1 L294.9 119.3 L296.7 120.5 L298.4 121.8 L300 123.1 L301.7 124.4 L303.4 125.7 L305 127 L306.7 128.3 L308.3 129.6 L309.9 131 L311.5 132.4 L313.1 133.8 L314.6 135.2 L316.2 136.6 L317.8 138 L319.4 139.4 L320.9 140.8 L322.6 142.2 L324.2 143.6 L325.8 144.9 L327.5 146.3 L329.1 147.6 L330.7 149 L332.3 150.4 L333.8 151.9 L335.3 153.4 L336.7 154.9 L338 156.5 L339.3 158.2 L340.6 159.9 L341.8 161.6 L343 163.4 L344.2 165.2 L345.2 167 L346.2 168.8 L347.1 170.7 L348 172.6 L348.9 174.6 L349.7 176.5 L350.5 178.5 L351.3 180.4 L352.1 182.4 L352.9 184.4 L353.7 186.3 L354.4 188.3 L355.2 190.3 L355.9 192.3 L356.6 194.2 L357.3 196.2 L358 198.2 L358.7 200.2 L359.3 202.2 L360.1 204.3 L360.9 206.7 L361.8 209.3 L362.7 211.6 L363.7 213.4 L364.6 214.3 L365.5 214.1 L366.4 212.9 L367.3 210.9 L368.2 208.5 L369.1 205.9 L370 203.6 L370.8 201.6 L371.5 199.7 L372.3 197.7 L373 195.7 L373.6 193.7 L374.2 191.7 L374.8 189.6 L375.4 187.6 L376 185.6 L376.7 183.6 L377.4 181.6 L378.1 179.6 L378.9 177.6 L379.7 175.7 L380.5 173.7 L381.4 171.8 L382.3 169.9 L383.2 168 L384.2 166.1 L385.1 164.2 L386.1 162.4 L387.2 160.5 L388.3 158.7 L389.4 156.9 L390.6 155.2 L391.8 153.5 L393.1 151.8 L394.4 150.2 L395.8 148.6 L397.2 147 L398.7 145.4 L400.2 143.9 L401.7 142.4 L403.2 141 L404.8 139.5 L406.3 138.1 L407.9 136.8 L409.6 135.5 L411.3 134.2 L413 132.9 L414.7 131.7 L416.4 130.5 L418.2 129.3 L420 128.1 L421.7 127 L423.5 125.9 L425.3 124.8 L427.1 123.7 L429 122.7 L430.8 121.6 L432.7 120.6 L434.5 119.7 L436.4 118.7 L438.3 117.8" stroke="#cf92d8" stroke-width="6" stroke-opacity="0.55"/>
<path d="M291.5 116.9 L293.2 118.1 L294.9 119.3 L296.7 120.5 L298.4 121.8 L300 123.1 L301.7 124.4 L303.4 125.7 L305 127 L306.7 128.3 L308.3 129.6 L309.9 131 L311.5 132.4 L313.1 133.8 L314.6 135.2 L316.2 136.6 L317.8 138 L319.4 139.4 L320.9 140.8 L322.6 142.2 L324.2 143.6 L325.8 144.9 L327.5 146.3 L329.1 147.6 L330.7 149 L332.3 150.4 L333.8 151.9 L335.3 153.4 L336.7 154.9 L338 156.5 L339.3 158.2 L340.6 159.9 L341.8 161.6 L343 163.4 L344.2 165.2 L345.2 167 L346.2 168.8 L347.1 170.7 L348 172.6 L348.9 174.6 L349.7 176.5 L350.5 178.5 L351.3 180.4 L352.1 182.4 L352.9 184.4 L353.7 186.3 L354.4 188.3 L355.2 190.3 L355.9 192.3 L356.6 194.2 L357.3 196.2 L358 198.2 L358.7 200.2 L359.3 202.2 L360.1 204.3 L360.9 206.7 L361.8 209.3 L362.7 211.6 L363.7 213.4 L364.6 214.3 L365.5 214.1 L366.4 212.9 L367.3 210.9 L368.2 208.5 L369.1 205.9 L370 203.6 L370.8 201.6 L371.5 199.7 L372.3 197.7 L373 195.7 L373.6 193.7 L374.2 191.7 L374.8 189.6 L375.4 187.6 L376 185.6 L376.7 183.6 L377.4 181.6 L378.1 179.6 L378.9 177.6 L379.7 175.7 L380.5 173.7 L381.4 171.8 L382.3 169.9 L383.2 168 L384.2 166.1 L385.1 164.2 L386.1 162.4 L387.2 160.5 L388.3 158.7 L389.4 156.9 L390.6 155.2 L391.8 153.5 L393.1 151.8 L394.4 150.2 L395.8 148.6 L397.2 147 L398.7 145.4 L400.2 143.9 L401.7 142.4 L403.2 141 L404.8 139.5 L406.3 138.1 L407.9 136.8 L409.6 135.5 L411.3 134.2 L413 132.9 L414.7 131.7 L416.4 130.5 L418.2 129.3 L420 128.1 L421.7 127 L423.5 125.9 L425.3 124.8 L427.1 123.7 L429 122.7 L430.8 121.6 L432.7 120.6 L434.5 119.7 L436.4 118.7 L438.3 117.8" stroke="#80288c" stroke-width="3.5" stroke-opacity="0.85"/>
<path d="M291.5 105.8 L293.7 106.7 L295.9 107.7 L298 108.7 L300.2 109.7 L302.4 110.7 L304.5 111.8 L306.7 112.8 L308.8 113.9 L311 114.9 L313.1 116 L315.2 117.1 L317.4 118.2 L319.5 119.2 L321.7 120.3 L323.8 121.3 L326 122.3 L328.2 123.4 L330.3 124.4 L332.5 125.5 L334.6 126.6 L336.6 127.8 L338.6 129.1 L340.6 130.4 L342.6 131.8 L344.5 133.2 L346.4 134.7 L348.3 136.3 L350 137.8 L351.7 139.5 L353.4 141.1 L355.1 142.9 L356.7 144.7 L358.2 146.5 L359.7 148.4 L361.2 150.3 L362.7 152.2 L364.1 154.2 L365.4 156.1 L366.7 158.1 L368 160.1 L369.3 162.2 L370.5 164.2 L371.6 166.3 L372.8 168.5 L373.9 170.6 L374.9 172.7 L376 174.9 L377 177 L378 179.2 L379 181.4 L379.9 183.6 L380.7 185.8 L381.5 188.1 L382.2 190.4 L383 192.7 L383.6 195 L384.3 197.3 L384.8 199.6 L385.3 201.9 L385.8 204.3 L386.1 206.6 L386.5 209 L386.8 211.4 L387.2 213.8 L387.6 216.3 L388 219.3 L388.5 222.4 L388.9 225.4 L389.4 228.2 L389.9 230.5 L390.4 232.1 L390.9 232.7 L391.3 232.2 L391.8 230.8 L392.3 228.6 L392.7 225.9 L393.2 222.8 L393.7 219.7 L394.2 216.8 L394.8 214.2 L395.4 211.8 L396 209.5 L396.7 207.3 L397.4 205 L398.1 202.7 L398.7 200.3 L399.3 198 L399.9 195.7 L400.5 193.4 L401.2 191.1 L401.9 188.8 L402.6 186.5 L403.3 184.3 L404.1 182 L405 179.8 L405.8 177.5 L406.7 175.3 L407.7 173.1 L408.7 170.9 L409.7 168.8 L410.8 166.7 L412 164.6 L413.2 162.5 L414.5 160.5 L415.8 158.5 L417.2 156.5 L418.6 154.6 L420 152.7 L421.4 150.8 L423 148.9 L424.5 147.1 L426.1 145.3 L427.7 143.6 L429.4 141.9 L431.1 140.2 L432.9 138.6 L434.7 137 L436.5 135.4 L438.3 133.9" stroke="#f79898" stroke-width="6" stroke-opacity="0.55"/>
<path d="M291.5 105.8 L293.7 106.7 L295.9 107.7 L298 108.7 L300.2 109.7 L302.4 110.7 L304.5 111.8 L306.7 112.8 L308.8 113.9 L311 114.9 L313.1 116 L315.2 117.1 L317.4 118.2 L319.5 119.2 L321.7 120.3 L323.8 121.3 L326 122.3 L328.2 123.4 L330.3 124.4 L332.5 125.5 L334.6 126.6 L336.6 127.8 L338.6 129.1 L340.6 130.4 L342.6 131.8 L344.5 133.2 L346.4 134.7 L348.3 136.3 L350 137.8 L351.7 139.5 L353.4 141.1 L355.1 142.9 L356.7 144.7 L358.2 146.5 L359.7 148.4 L361.2 150.3 L362.7 152.2 L364.1 154.2 L365.4 156.1 L366.7 158.1 L368 160.1 L369.3 162.2 L370.5 164.2 L371.6 166.3 L372.8 168.5 L373.9 170.6 L374.9 172.7 L376 174.9 L377 177 L378 179.2 L379 181.4 L379.9 183.6 L380.7 185.8 L381.5 188.1 L382.2 190.4 L383 192.7 L383.6 195 L384.3 197.3 L384.8 199.6 L385.3 201.9 L385.8 204.3 L386.1 206.6 L386.5 209 L386.8 211.4 L387.2 213.8 L387.6 216.3 L388 219.3 L388.5 222.4 L388.9 225.4 L389.4 228.2 L389.9 230.5 L390.4 232.1 L390.9 232.7 L391.3 232.2 L391.8 230.8 L392.3 228.6 L392.7 225.9 L393.2 222.8 L393.7 219.7 L394.2 216.8 L394.8 214.2 L395.4 211.8 L396 209.5 L396.7 207.3 L397.4 205 L398.1 202.7 L398.7 200.3 L399.3 198 L399.9 195.7 L400.5 193.4 L401.2 191.1 L401.9 188.8 L402.6 186.5 L403.3 184.3 L404.1 182 L405 179.8 L405.8 177.5 L406.7 175.3 L407.7 173.1 L408.7 170.9 L409.7 168.8 L410.8 166.7 L412 164.6 L413.2 162.5 L414.5 160.5 L415.8 158.5 L417.2 156.5 L418.6 154.6 L420 152.7 L421.4 150.8 L423 148.9 L424.5 147.1 L426.1 145.3 L427.7 143.6 L429.4 141.9 L431.1 140.2 L432.9 138.6 L434.7 137 L436.5 135.4 L438.3 133.9" stroke="#dc3040" stroke-width="3.5" stroke-opacity="0.85"/>
</g>
<rect x="284.6" y="98.2" width="162.3" height="141.1" fill="none" stroke="#2b2b2b" stroke-width="1.3"/>
<g stroke="#2b2b2b" stroke-width="1"><path d="M291.5 239.3 v-3.5M291.5 98.2 v3.5"/><path d="M328.2 239.3 v-3.5M328.2 98.2 v3.5"/><path d="M364.9 239.3 v-3.5M364.9 98.2 v3.5"/><path d="M401.7 239.3 v-3.5M401.7 98.2 v3.5"/><path d="M438.5 239.3 v-3.5M438.5 98.2 v3.5"/><path stroke-opacity="0.4" d="M298.8 239.3 v-2M298.8 98.2 v2"/><path stroke-opacity="0.4" d="M306.1 239.3 v-2M306.1 98.2 v2"/><path stroke-opacity="0.4" d="M313.4 239.3 v-2M313.4 98.2 v2"/><path stroke-opacity="0.4" d="M320.8 239.3 v-2M320.8 98.2 v2"/><path stroke-opacity="0.4" d="M335.5 239.3 v-2M335.5 98.2 v2"/><path stroke-opacity="0.4" d="M342.8 239.3 v-2M342.8 98.2 v2"/><path stroke-opacity="0.4" d="M350.2 239.3 v-2M350.2 98.2 v2"/><path stroke-opacity="0.4" d="M357.5 239.3 v-2M357.5 98.2 v2"/><path stroke-opacity="0.4" d="M372.2 239.3 v-2M372.2 98.2 v2"/><path stroke-opacity="0.4" d="M379.6 239.3 v-2M379.6 98.2 v2"/><path stroke-opacity="0.4" d="M386.9 239.3 v-2M386.9 98.2 v2"/><path stroke-opacity="0.4" d="M394.3 239.3 v-2M394.3 98.2 v2"/><path stroke-opacity="0.4" d="M409 239.3 v-2M409 98.2 v2"/><path stroke-opacity="0.4" d="M416.3 239.3 v-2M416.3 98.2 v2"/><path stroke-opacity="0.4" d="M423.7 239.3 v-2M423.7 98.2 v2"/><path stroke-opacity="0.4" d="M431 239.3 v-2M431 98.2 v2"/><path stroke-opacity="0.4" d="M445.8 239.3 v-2M445.8 98.2 v2"/><path d="M284.6 111.8 h3.5M446.9 111.8 h-3.5"/><path d="M284.6 144 h3.5M446.9 144 h-3.5"/><path d="M284.6 176.2 h3.5M446.9 176.2 h-3.5"/><path d="M284.6 208.6 h3.5M446.9 208.6 h-3.5"/><path stroke-opacity="0.4" d="M284.6 234.3 h2M446.9 234.3 h-2"/><path stroke-opacity="0.4" d="M284.6 227.9 h2M446.9 227.9 h-2"/><path stroke-opacity="0.4" d="M284.6 221.4 h2M446.9 221.4 h-2"/><path stroke-opacity="0.4" d="M284.6 215 h2M446.9 215 h-2"/><path stroke-opacity="0.4" d="M284.6 202.1 h2M446.9 202.1 h-2"/><path stroke-opacity="0.4" d="M284.6 195.7 h2M446.9 195.7 h-2"/><path stroke-opacity="0.4" d="M284.6 189.2 h2M446.9 189.2 h-2"/><path stroke-opacity="0.4" d="M284.6 182.8 h2M446.9 182.8 h-2"/><path stroke-opacity="0.4" d="M284.6 169.8 h2M446.9 169.8 h-2"/><path stroke-opacity="0.4" d="M284.6 163.4 h2M446.9 163.4 h-2"/><path stroke-opacity="0.4" d="M284.6 156.9 h2M446.9 156.9 h-2"/><path stroke-opacity="0.4" d="M284.6 150.5 h2M446.9 150.5 h-2"/><path stroke-opacity="0.4" d="M284.6 137.6 h2M446.9 137.6 h-2"/><path stroke-opacity="0.4" d="M284.6 131.2 h2M446.9 131.2 h-2"/><path stroke-opacity="0.4" d="M284.6 124.7 h2M446.9 124.7 h-2"/><path stroke-opacity="0.4" d="M284.6 118.2 h2M446.9 118.2 h-2"/><path stroke-opacity="0.4" d="M284.6 105.3 h2M446.9 105.3 h-2"/></g>
<g font-family="DejaVu Sans, Liberation Sans, sans-serif" font-size="15" fill="#1a1a1a" text-anchor="end">
<text x="283.6" y="117.3">−30</text>
<text x="283.6" y="149.5">−35</text>
<text x="283.6" y="181.7">−40</text>
<text x="283.6" y="214.1">−45</text>
</g>
<g font-family="DejaVu Sans, Liberation Sans, sans-serif" font-size="13" fill="#1a1a1a" text-anchor="middle">
<text x="290.7" y="253">-0.2</text>
<text x="327.4" y="253">-0.1</text>
<text x="364.1" y="253">-0.0</text>
<text x="401.3" y="253">0.1</text>
<text x="438.1" y="253">0.2</text>
</g>
<text x="366" y="271.2" font-family="DejaVu Sans, Liberation Sans, sans-serif" font-size="16" fill="#1a1a1a" text-anchor="middle">Δ<tspan font-style="italic">f</tspan> (MHz)</text>
<rect x="105.3" y="236.4" width="86.4" height="51" rx="2.5" fill="#fff" fill-opacity="0.8" stroke="#e0e0e0" stroke-width="1"/>
<path d="M108 245.3 H131.5" stroke="#3535d8" stroke-width="1.7" stroke-opacity="0.85"/>
<circle cx="119.7" cy="245.3" r="1.5" fill="#3535d8"/>
<text x="139.8" y="249.2" font-family="DejaVu Sans, Liberation Sans, sans-serif" font-size="11.1" fill="#1a1a1a">-1.5 kOe</text>
<path d="M108 261 H131.5" stroke="#85318f" stroke-width="1.7" stroke-opacity="0.85"/>
<circle cx="119.7" cy="261" r="1.5" fill="#85318f"/>
<text x="139.8" y="264.9" font-family="DejaVu Sans, Liberation Sans, sans-serif" font-size="11.1" fill="#1a1a1a">0.0 kOe</text>
<path d="M108 276.6 H131.5" stroke="#e03232" stroke-width="1.7" stroke-opacity="0.85"/>
<circle cx="119.7" cy="276.6" r="1.5" fill="#e03232"/>
<text x="139.8" y="280.5" font-family="DejaVu Sans, Liberation Sans, sans-serif" font-size="11.1" fill="#1a1a1a">1.5 kOe</text>
<rect x="100.2" y="15.8" width="358.8" height="276.5" fill="none" stroke="#222" stroke-width="1.6"/>
<g stroke="#222" stroke-width="1.1"><path d="M100.2 292.3 v-4.5"/><path d="M172 292.3 v-4.5"/><path d="M243.7 292.3 v-4.5"/><path d="M315.5 292.3 v-4.5"/><path d="M387.2 292.3 v-4.5"/><path d="M459 292.3 v-4.5"/><path d="M114.6 292.3 v-2.5"/><path d="M128.9 292.3 v-2.5"/><path d="M143.3 292.3 v-2.5"/><path d="M157.6 292.3 v-2.5"/><path d="M186.3 292.3 v-2.5"/><path d="M200.7 292.3 v-2.5"/><path d="M215 292.3 v-2.5"/><path d="M229.4 292.3 v-2.5"/><path d="M258.1 292.3 v-2.5"/><path d="M272.4 292.3 v-2.5"/><path d="M286.8 292.3 v-2.5"/><path d="M301.1 292.3 v-2.5"/><path d="M329.8 292.3 v-2.5"/><path d="M344.2 292.3 v-2.5"/><path d="M358.5 292.3 v-2.5"/><path d="M372.9 292.3 v-2.5"/><path d="M401.6 292.3 v-2.5"/><path d="M415.9 292.3 v-2.5"/><path d="M430.3 292.3 v-2.5"/><path d="M444.6 292.3 v-2.5"/><path d="M100.2 65.7 h4.5"/><path d="M100.2 121.3 h4.5"/><path d="M100.2 177 h4.5"/><path d="M100.2 232.6 h4.5"/><path d="M100.2 288.3 h4.5"/><path d="M100.2 21.2 h2.5"/><path d="M100.2 32.3 h2.5"/><path d="M100.2 43.4 h2.5"/><path d="M100.2 54.6 h2.5"/><path d="M100.2 76.8 h2.5"/><path d="M100.2 88 h2.5"/><path d="M100.2 99.1 h2.5"/><path d="M100.2 110.2 h2.5"/><path d="M100.2 132.5 h2.5"/><path d="M100.2 143.6 h2.5"/><path d="M100.2 154.7 h2.5"/><path d="M100.2 165.9 h2.5"/><path d="M100.2 188.1 h2.5"/><path d="M100.2 199.3 h2.5"/><path d="M100.2 210.4 h2.5"/><path d="M100.2 221.5 h2.5"/><path d="M100.2 243.8 h2.5"/><path d="M100.2 254.9 h2.5"/><path d="M100.2 266 h2.5"/><path d="M100.2 277.2 h2.5"/></g>
<g font-family="DejaVu Sans, Liberation Sans, sans-serif" font-size="15.8" fill="#1a1a1a" text-anchor="end">
<text x="97.9" y="71.6">−10</text>
<text x="97.9" y="127.2">−20</text>
<text x="97.9" y="182.9">−30</text>
<text x="97.9" y="238.5">−40</text>
<text x="97.9" y="294.2">−50</text>
</g>
<g font-family="DejaVu Sans, Liberation Sans, sans-serif" font-size="15.8" fill="#1a1a1a" text-anchor="middle">
<text x="99.6" y="307.6">6.72</text>
<text x="171.4" y="307.6">6.73</text>
<text x="243.1" y="307.6">6.74</text>
<text x="314.9" y="307.6">6.75</text>
<text x="386.6" y="307.6">6.76</text>
<text x="458.4" y="307.6">6.77</text>
</g>
<text x="279.8" y="330" font-family="DejaVu Sans, Liberation Sans, sans-serif" font-size="19.5" fill="#1a1a1a" text-anchor="middle"><tspan font-style="italic">f</tspan> (GHz)</text>
<text transform="translate(56.2 154.4) rotate(-90)" font-family="DejaVu Sans, Liberation Sans, sans-serif" font-size="19" fill="#1a1a1a" text-anchor="middle">S11 (dB)</text>
<text x="13.7" y="21.9" font-family="Liberation Sans, sans-serif" font-weight="bold" font-size="21.5" fill="#111" textLength="27.6" lengthAdjust="spacing">(a)</text>
<!-- part_b -->
<defs><linearGradient id="h0" x1="0" y1="0" x2="0" y2="1"><stop offset="0.000" stop-color="#120000"/><stop offset="0.049" stop-color="#170000"/><stop offset="0.113" stop-color="#1f0000"/><stop offset="0.178" stop-color="#290000"/><stop offset="0.227" stop-color="#330000"/><stop offset="0.312" stop-color="#4c0000"/><stop offset="0.409" stop-color="#800000"/><stop offset="0.470" stop-color="#b83800"/><stop offset="0.520" stop-color="#ff8000"/><stop offset="0.551" stop-color="#ffbd3d"/><stop offset="0.579" stop-color="#ffff80"/><stop offset="0.600" stop-color="#ffffbd"/><stop offset="0.614" stop-color="#ffffe5"/><stop offset="0.622" stop-color="#ffffff"/><stop offset="0.718" stop-color="#ffffff"/><stop offset="0.724" stop-color="#ffffe5"/><stop offset="0.736" stop-color="#ffffbd"/><stop offset="0.753" stop-color="#ffff80"/><stop offset="0.776" stop-color="#ffbd3d"/><stop offset="0.803" stop-color="#ff8000"/><stop offset="0.847" stop-color="#b83800"/><stop offset="0.902" stop-color="#800000"/><stop offset="0.997" stop-color="#4c0000"/><stop offset="1.000" stop-color="#4b0000"/></linearGradient><linearGradient id="h1" x1="0" y1="0" x2="0" y2="1"><stop offset="0.000" stop-color="#0c0000"/><stop offset="0.040" stop-color="#0f0000"/><stop offset="0.117" stop-color="#170000"/><stop offset="0.175" stop-color="#1f0000"/><stop offset="0.232" stop-color="#290000"/><stop offset="0.276" stop-color="#330000"/><stop offset="0.352" stop-color="#4c0000"/><stop offset="0.439" stop-color="#800000"/><stop offset="0.493" stop-color="#b83800"/><stop offset="0.538" stop-color="#ff8000"/><stop offset="0.566" stop-color="#ffbd3d"/><stop offset="0.590" stop-color="#ffff80"/><stop offset="0.610" stop-color="#ffffbd"/><stop offset="0.622" stop-color="#ffffe5"/><stop offset="0.630" stop-color="#ffffff"/><stop offset="0.716" stop-color="#ffffff"/><stop offset="0.722" stop-color="#ffffe5"/><stop offset="0.733" stop-color="#ffffbd"/><stop offset="0.750" stop-color="#ffff80"/><stop offset="0.772" stop-color="#ffbd3d"/><stop offset="0.797" stop-color="#ff8000"/><stop offset="0.839" stop-color="#b83800"/><stop offset="0.893" stop-color="#800000"/><stop offset="0.983" stop-color="#4c0000"/><stop offset="1.000" stop-color="#460000"/></linearGradient><linearGradient id="h2" x1="0" y1="0" x2="0" y2="1"><stop offset="0.000" stop-color="#0a0000"/><stop offset="0.072" stop-color="#0f0000"/><stop offset="0.146" stop-color="#170000"/><stop offset="0.200" stop-color="#1f0000"/><stop offset="0.255" stop-color="#290000"/><stop offset="0.297" stop-color="#330000"/><stop offset="0.369" stop-color="#4c0000"/><stop offset="0.451" stop-color="#800000"/><stop offset="0.503" stop-color="#b83800"/><stop offset="0.546" stop-color="#ff8000"/><stop offset="0.573" stop-color="#ffbd3d"/><stop offset="0.596" stop-color="#ffff80"/><stop offset="0.614" stop-color="#ffffbd"/><stop offset="0.626" stop-color="#ffffe5"/><stop offset="0.633" stop-color="#ffffff"/><stop offset="0.713" stop-color="#ffffff"/><stop offset="0.719" stop-color="#ffffe5"/><stop offset="0.729" stop-color="#ffffbd"/><stop offset="0.745" stop-color="#ffff80"/><stop offset="0.765" stop-color="#ffbd3d"/><stop offset="0.789" stop-color="#ff8000"/><stop offset="0.828" stop-color="#b83800"/><stop offset="0.878" stop-color="#800000"/><stop offset="0.962" stop-color="#4c0000"/><stop offset="1.000" stop-color="#3f0000"/></linearGradient><linearGradient id="h3" x1="0" y1="0" x2="0" y2="1"><stop offset="0.000" stop-color="#090000"/><stop offset="0.077" stop-color="#0f0000"/><stop offset="0.149" stop-color="#170000"/><stop offset="0.204" stop-color="#1f0000"/><stop offset="0.258" stop-color="#290000"/><stop offset="0.300" stop-color="#330000"/><stop offset="0.372" stop-color="#4c0000"/><stop offset="0.454" stop-color="#800000"/><stop offset="0.505" stop-color="#b83800"/><stop offset="0.548" stop-color="#ff8000"/><stop offset="0.574" stop-color="#ffbd3d"/><stop offset="0.597" stop-color="#ffff80"/><stop offset="0.616" stop-color="#ffffbd"/><stop offset="0.628" stop-color="#ffffe5"/><stop offset="0.635" stop-color="#ffffff"/><stop offset="0.712" stop-color="#ffffff"/><stop offset="0.718" stop-color="#ffffe5"/><stop offset="0.728" stop-color="#ffffbd"/><stop offset="0.744" stop-color="#ffff80"/><stop offset="0.764" stop-color="#ffbd3d"/><stop offset="0.787" stop-color="#ff8000"/><stop offset="0.825" stop-color="#b83800"/><stop offset="0.874" stop-color="#800000"/><stop offset="0.956" stop-color="#4c0000"/><stop offset="1.000" stop-color="#3d0000"/></linearGradient><linearGradient id="h4" x1="0" y1="0" x2="0" y2="1"><stop offset="0.000" stop-color="#050000"/><stop offset="0.017" stop-color="#060000"/><stop offset="0.137" stop-color="#0f0000"/><stop offset="0.202" stop-color="#170000"/><stop offset="0.251" stop-color="#1f0000"/><stop offset="0.300" stop-color="#290000"/><stop offset="0.338" stop-color="#330000"/><stop offset="0.403" stop-color="#4c0000"/><stop offset="0.477" stop-color="#800000"/><stop offset="0.523" stop-color="#b83800"/><stop offset="0.562" stop-color="#ff8000"/><stop offset="0.585" stop-color="#ffbd3d"/><stop offset="0.606" stop-color="#ffff80"/><stop offset="0.623" stop-color="#ffffbd"/><stop offset="0.634" stop-color="#ffffe5"/><stop offset="0.641" stop-color="#ffffff"/><stop offset="0.712" stop-color="#ffffff"/><stop offset="0.718" stop-color="#ffffe5"/><stop offset="0.728" stop-color="#ffffbd"/><stop offset="0.743" stop-color="#ffff80"/><stop offset="0.763" stop-color="#ffbd3d"/><stop offset="0.787" stop-color="#ff8000"/><stop offset="0.825" stop-color="#b83800"/><stop offset="0.873" stop-color="#800000"/><stop offset="0.955" stop-color="#4c0000"/><stop offset="1.000" stop-color="#3c0000"/></linearGradient><linearGradient id="h5" x1="0" y1="0" x2="0" y2="1"><stop offset="0.000" stop-color="#020000"/><stop offset="0.068" stop-color="#060000"/><stop offset="0.178" stop-color="#0f0000"/><stop offset="0.239" stop-color="#170000"/><stop offset="0.284" stop-color="#1f0000"/><stop offset="0.330" stop-color="#290000"/><stop offset="0.364" stop-color="#330000"/><stop offset="0.424" stop-color="#4c0000"/><stop offset="0.492" stop-color="#800000"/><stop offset="0.536" stop-color="#b83800"/><stop offset="0.571" stop-color="#ff8000"/><stop offset="0.593" stop-color="#ffbd3d"/><stop offset="0.613" stop-color="#ffff80"/><stop offset="0.628" stop-color="#ffffbd"/><stop offset="0.639" stop-color="#ffffe5"/><stop offset="0.645" stop-color="#ffffff"/><stop offset="0.712" stop-color="#ffffff"/><stop offset="0.719" stop-color="#ffffe5"/><stop offset="0.729" stop-color="#ffffbd"/><stop offset="0.745" stop-color="#ffff80"/><stop offset="0.766" stop-color="#ffbd3d"/><stop offset="0.790" stop-color="#ff8000"/><stop offset="0.829" stop-color="#b83800"/><stop offset="0.879" stop-color="#800000"/><stop offset="0.963" stop-color="#4c0000"/><stop offset="1.000" stop-color="#3f0000"/></linearGradient><linearGradient id="h6" x1="0" y1="0" x2="0" y2="1"><stop offset="0.000" stop-color="#020000"/><stop offset="0.079" stop-color="#060000"/><stop offset="0.187" stop-color="#0f0000"/><stop offset="0.247" stop-color="#170000"/><stop offset="0.291" stop-color="#1f0000"/><stop offset="0.336" stop-color="#290000"/><stop offset="0.370" stop-color="#330000"/><stop offset="0.429" stop-color="#4c0000"/><stop offset="0.496" stop-color="#800000"/><stop offset="0.538" stop-color="#b83800"/><stop offset="0.573" stop-color="#ff8000"/><stop offset="0.595" stop-color="#ffbd3d"/><stop offset="0.614" stop-color="#ffff80"/><stop offset="0.630" stop-color="#ffffbd"/><stop offset="0.640" stop-color="#ffffe5"/><stop offset="0.646" stop-color="#ffffff"/><stop offset="0.714" stop-color="#ffffff"/><stop offset="0.721" stop-color="#ffffe5"/><stop offset="0.732" stop-color="#ffffbd"/><stop offset="0.750" stop-color="#ffff80"/><stop offset="0.772" stop-color="#ffbd3d"/><stop offset="0.798" stop-color="#ff8000"/><stop offset="0.840" stop-color="#b83800"/><stop offset="0.894" stop-color="#800000"/><stop offset="0.984" stop-color="#4c0000"/><stop offset="1.000" stop-color="#470000"/></linearGradient><linearGradient id="h7" x1="0" y1="0" x2="0" y2="1"><stop offset="0.000" stop-color="#020000"/><stop offset="0.073" stop-color="#060000"/><stop offset="0.182" stop-color="#0f0000"/><stop offset="0.243" stop-color="#170000"/><stop offset="0.287" stop-color="#1f0000"/><stop offset="0.333" stop-color="#290000"/><stop offset="0.367" stop-color="#330000"/><stop offset="0.427" stop-color="#4c0000"/><stop offset="0.494" stop-color="#800000"/><stop offset="0.537" stop-color="#b83800"/><stop offset="0.573" stop-color="#ff8000"/><stop offset="0.595" stop-color="#ffbd3d"/><stop offset="0.614" stop-color="#ffff80"/><stop offset="0.630" stop-color="#ffffbd"/><stop offset="0.640" stop-color="#ffffe5"/><stop offset="0.647" stop-color="#ffffff"/><stop offset="0.714" stop-color="#ffffff"/><stop offset="0.721" stop-color="#ffffe5"/><stop offset="0.732" stop-color="#ffffbd"/><stop offset="0.750" stop-color="#ffff80"/><stop offset="0.773" stop-color="#ffbd3d"/><stop offset="0.799" stop-color="#ff8000"/><stop offset="0.842" stop-color="#b83800"/><stop offset="0.896" stop-color="#800000"/><stop offset="0.988" stop-color="#4c0000"/><stop offset="1.000" stop-color="#480000"/></linearGradient><linearGradient id="h8" x1="0" y1="0" x2="0" y2="1"><stop offset="0.000" stop-color="#090000"/><stop offset="0.080" stop-color="#0f0000"/><stop offset="0.153" stop-color="#170000"/><stop offset="0.207" stop-color="#1f0000"/><stop offset="0.261" stop-color="#290000"/><stop offset="0.303" stop-color="#330000"/><stop offset="0.375" stop-color="#4c0000"/><stop offset="0.457" stop-color="#800000"/><stop offset="0.509" stop-color="#b83800"/><stop offset="0.552" stop-color="#ff8000"/><stop offset="0.578" stop-color="#ffbd3d"/><stop offset="0.602" stop-color="#ffff80"/><stop offset="0.621" stop-color="#ffffbd"/><stop offset="0.634" stop-color="#ffffe5"/><stop offset="0.642" stop-color="#ffffff"/><stop offset="0.711" stop-color="#ffffff"/><stop offset="0.718" stop-color="#ffffe5"/><stop offset="0.728" stop-color="#ffffbd"/><stop offset="0.746" stop-color="#ffff80"/><stop offset="0.767" stop-color="#ffbd3d"/><stop offset="0.792" stop-color="#ff8000"/><stop offset="0.832" stop-color="#b83800"/><stop offset="0.884" stop-color="#800000"/><stop offset="0.970" stop-color="#4c0000"/><stop offset="1.000" stop-color="#420000"/></linearGradient><linearGradient id="h9" x1="0" y1="0" x2="0" y2="1"><stop offset="0.000" stop-color="#090000"/><stop offset="0.077" stop-color="#0f0000"/><stop offset="0.150" stop-color="#170000"/><stop offset="0.204" stop-color="#1f0000"/><stop offset="0.259" stop-color="#290000"/><stop offset="0.301" stop-color="#330000"/><stop offset="0.374" stop-color="#4c0000"/><stop offset="0.456" stop-color="#800000"/><stop offset="0.508" stop-color="#b83800"/><stop offset="0.551" stop-color="#ff8000"/><stop offset="0.578" stop-color="#ffbd3d"/><stop offset="0.602" stop-color="#ffff80"/><stop offset="0.622" stop-color="#ffffbd"/><stop offset="0.635" stop-color="#ffffe5"/><stop offset="0.643" stop-color="#ffffff"/><stop offset="0.708" stop-color="#ffffff"/><stop offset="0.714" stop-color="#ffffe5"/><stop offset="0.725" stop-color="#ffffbd"/><stop offset="0.741" stop-color="#ffff80"/><stop offset="0.761" stop-color="#ffbd3d"/><stop offset="0.785" stop-color="#ff8000"/><stop offset="0.823" stop-color="#b83800"/><stop offset="0.871" stop-color="#800000"/><stop offset="0.953" stop-color="#4c0000"/><stop offset="1.000" stop-color="#3c0000"/></linearGradient><linearGradient id="h10" x1="0" y1="0" x2="0" y2="1"><stop offset="0.000" stop-color="#030000"/><stop offset="0.056" stop-color="#060000"/><stop offset="0.169" stop-color="#0f0000"/><stop offset="0.231" stop-color="#170000"/><stop offset="0.277" stop-color="#1f0000"/><stop offset="0.323" stop-color="#290000"/><stop offset="0.358" stop-color="#330000"/><stop offset="0.420" stop-color="#4c0000"/><stop offset="0.490" stop-color="#800000"/><stop offset="0.534" stop-color="#b83800"/><stop offset="0.570" stop-color="#ff8000"/><stop offset="0.593" stop-color="#ffbd3d"/><stop offset="0.614" stop-color="#ffff80"/><stop offset="0.630" stop-color="#ffffbd"/><stop offset="0.641" stop-color="#ffffe5"/><stop offset="0.649" stop-color="#ffffff"/><stop offset="0.704" stop-color="#ffffff"/><stop offset="0.710" stop-color="#ffffe5"/><stop offset="0.720" stop-color="#ffffbd"/><stop offset="0.736" stop-color="#ffff80"/><stop offset="0.755" stop-color="#ffbd3d"/><stop offset="0.778" stop-color="#ff8000"/><stop offset="0.814" stop-color="#b83800"/><stop offset="0.860" stop-color="#800000"/><stop offset="0.937" stop-color="#4c0000"/><stop offset="1.000" stop-color="#360000"/></linearGradient><linearGradient id="h11" x1="0" y1="0" x2="0" y2="1"><stop offset="0.000" stop-color="#020000"/><stop offset="0.081" stop-color="#060000"/><stop offset="0.188" stop-color="#0f0000"/><stop offset="0.247" stop-color="#170000"/><stop offset="0.291" stop-color="#1f0000"/><stop offset="0.336" stop-color="#290000"/><stop offset="0.370" stop-color="#330000"/><stop offset="0.428" stop-color="#4c0000"/><stop offset="0.495" stop-color="#800000"/><stop offset="0.538" stop-color="#b83800"/><stop offset="0.573" stop-color="#ff8000"/><stop offset="0.595" stop-color="#ffbd3d"/><stop offset="0.615" stop-color="#ffff80"/><stop offset="0.631" stop-color="#ffffbd"/><stop offset="0.642" stop-color="#ffffe5"/><stop offset="0.649" stop-color="#ffffff"/><stop offset="0.697" stop-color="#ffffff"/><stop offset="0.703" stop-color="#ffffe5"/><stop offset="0.712" stop-color="#ffffbd"/><stop offset="0.727" stop-color="#ffff80"/><stop offset="0.745" stop-color="#ffbd3d"/><stop offset="0.766" stop-color="#ff8000"/><stop offset="0.800" stop-color="#b83800"/><stop offset="0.843" stop-color="#800000"/><stop offset="0.914" stop-color="#4c0000"/><stop offset="0.984" stop-color="#330000"/><stop offset="1.000" stop-color="#2f0000"/></linearGradient><linearGradient id="h12" x1="0" y1="0" x2="0" y2="1"><stop offset="0.000" stop-color="#000000"/><stop offset="0.123" stop-color="#060000"/><stop offset="0.223" stop-color="#0f0000"/><stop offset="0.277" stop-color="#170000"/><stop offset="0.318" stop-color="#1f0000"/><stop offset="0.359" stop-color="#290000"/><stop offset="0.390" stop-color="#330000"/><stop offset="0.445" stop-color="#4c0000"/><stop offset="0.506" stop-color="#800000"/><stop offset="0.546" stop-color="#b83800"/><stop offset="0.578" stop-color="#ff8000"/><stop offset="0.599" stop-color="#ffbd3d"/><stop offset="0.617" stop-color="#ffff80"/><stop offset="0.633" stop-color="#ffffbd"/><stop offset="0.643" stop-color="#ffffe5"/><stop offset="0.651" stop-color="#ffffff"/><stop offset="0.689" stop-color="#ffffff"/><stop offset="0.696" stop-color="#ffffe5"/><stop offset="0.705" stop-color="#ffffbd"/><stop offset="0.719" stop-color="#ffff80"/><stop offset="0.736" stop-color="#ffbd3d"/><stop offset="0.755" stop-color="#ff8000"/><stop offset="0.786" stop-color="#b83800"/><stop offset="0.825" stop-color="#800000"/><stop offset="0.892" stop-color="#4c0000"/><stop offset="0.956" stop-color="#330000"/><stop offset="0.996" stop-color="#290000"/><stop offset="1.000" stop-color="#280000"/></linearGradient><linearGradient id="h13" x1="0" y1="0" x2="0" y2="1"><stop offset="0.000" stop-color="#000000"/><stop offset="0.237" stop-color="#060000"/><stop offset="0.315" stop-color="#0f0000"/><stop offset="0.358" stop-color="#170000"/><stop offset="0.390" stop-color="#1f0000"/><stop offset="0.423" stop-color="#290000"/><stop offset="0.447" stop-color="#330000"/><stop offset="0.490" stop-color="#4c0000"/><stop offset="0.539" stop-color="#800000"/><stop offset="0.570" stop-color="#b83800"/><stop offset="0.596" stop-color="#ff8000"/><stop offset="0.612" stop-color="#ffbd3d"/><stop offset="0.627" stop-color="#ffff80"/><stop offset="0.639" stop-color="#ffffbd"/><stop offset="0.648" stop-color="#ffffe5"/><stop offset="0.654" stop-color="#ffffff"/><stop offset="0.683" stop-color="#ffffff"/><stop offset="0.689" stop-color="#ffffe5"/><stop offset="0.698" stop-color="#ffffbd"/><stop offset="0.711" stop-color="#ffff80"/><stop offset="0.727" stop-color="#ffbd3d"/><stop offset="0.746" stop-color="#ff8000"/><stop offset="0.775" stop-color="#b83800"/><stop offset="0.812" stop-color="#800000"/><stop offset="0.874" stop-color="#4c0000"/><stop offset="0.935" stop-color="#330000"/><stop offset="0.973" stop-color="#290000"/><stop offset="1.000" stop-color="#230000"/></linearGradient><linearGradient id="h14" x1="0" y1="0" x2="0" y2="1"><stop offset="0.000" stop-color="#000000"/><stop offset="0.345" stop-color="#060000"/><stop offset="0.403" stop-color="#0f0000"/><stop offset="0.435" stop-color="#170000"/><stop offset="0.459" stop-color="#1f0000"/><stop offset="0.483" stop-color="#290000"/><stop offset="0.501" stop-color="#330000"/><stop offset="0.533" stop-color="#4c0000"/><stop offset="0.569" stop-color="#800000"/><stop offset="0.592" stop-color="#b83800"/><stop offset="0.611" stop-color="#ff8000"/><stop offset="0.624" stop-color="#ffbd3d"/><stop offset="0.635" stop-color="#ffff80"/><stop offset="0.644" stop-color="#ffffbd"/><stop offset="0.651" stop-color="#ffffe5"/><stop offset="0.656" stop-color="#ffffff"/><stop offset="0.678" stop-color="#ffffff"/><stop offset="0.684" stop-color="#ffffe5"/><stop offset="0.694" stop-color="#ffffbd"/><stop offset="0.708" stop-color="#ffff80"/><stop offset="0.725" stop-color="#ffbd3d"/><stop offset="0.744" stop-color="#ff8000"/><stop offset="0.774" stop-color="#b83800"/><stop offset="0.812" stop-color="#800000"/><stop offset="0.876" stop-color="#4c0000"/><stop offset="0.938" stop-color="#330000"/><stop offset="0.977" stop-color="#290000"/><stop offset="1.000" stop-color="#240000"/></linearGradient><linearGradient id="h15" x1="0" y1="0" x2="0" y2="1"><stop offset="0.000" stop-color="#000000"/><stop offset="0.357" stop-color="#060000"/><stop offset="0.412" stop-color="#0f0000"/><stop offset="0.443" stop-color="#170000"/><stop offset="0.465" stop-color="#1f0000"/><stop offset="0.488" stop-color="#290000"/><stop offset="0.506" stop-color="#330000"/><stop offset="0.536" stop-color="#4c0000"/><stop offset="0.571" stop-color="#800000"/><stop offset="0.593" stop-color="#b83800"/><stop offset="0.611" stop-color="#ff8000"/><stop offset="0.623" stop-color="#ffbd3d"/><stop offset="0.634" stop-color="#ffff80"/><stop offset="0.643" stop-color="#ffffbd"/><stop offset="0.650" stop-color="#ffffe5"/><stop offset="0.657" stop-color="#ffffff"/><stop offset="0.672" stop-color="#ffffff"/><stop offset="0.680" stop-color="#ffffe5"/><stop offset="0.690" stop-color="#ffffbd"/><stop offset="0.705" stop-color="#ffff80"/><stop offset="0.723" stop-color="#ffbd3d"/><stop offset="0.743" stop-color="#ff8000"/><stop offset="0.775" stop-color="#b83800"/><stop offset="0.815" stop-color="#800000"/><stop offset="0.881" stop-color="#4c0000"/><stop offset="0.946" stop-color="#330000"/><stop offset="0.987" stop-color="#290000"/><stop offset="1.000" stop-color="#260000"/></linearGradient><linearGradient id="h16" x1="0" y1="0" x2="0" y2="1"><stop offset="0.000" stop-color="#000000"/><stop offset="0.284" stop-color="#060000"/><stop offset="0.352" stop-color="#0f0000"/><stop offset="0.389" stop-color="#170000"/><stop offset="0.417" stop-color="#1f0000"/><stop offset="0.446" stop-color="#290000"/><stop offset="0.467" stop-color="#330000"/><stop offset="0.504" stop-color="#4c0000"/><stop offset="0.547" stop-color="#800000"/><stop offset="0.574" stop-color="#b83800"/><stop offset="0.597" stop-color="#ff8000"/><stop offset="0.612" stop-color="#ffbd3d"/><stop offset="0.625" stop-color="#ffff80"/><stop offset="0.637" stop-color="#ffffbd"/><stop offset="0.647" stop-color="#ffffe5"/><stop offset="0.657" stop-color="#ffffff"/><stop offset="0.665" stop-color="#ffffff"/><stop offset="0.673" stop-color="#ffffe5"/><stop offset="0.684" stop-color="#ffffbd"/><stop offset="0.698" stop-color="#ffff80"/><stop offset="0.715" stop-color="#ffbd3d"/><stop offset="0.733" stop-color="#ff8000"/><stop offset="0.763" stop-color="#b83800"/><stop offset="0.800" stop-color="#800000"/><stop offset="0.862" stop-color="#4c0000"/><stop offset="0.922" stop-color="#330000"/><stop offset="0.960" stop-color="#290000"/><stop offset="1.000" stop-color="#210000"/></linearGradient><linearGradient id="h17" x1="0" y1="0" x2="0" y2="1"><stop offset="0.000" stop-color="#000000"/><stop offset="0.231" stop-color="#060000"/><stop offset="0.308" stop-color="#0f0000"/><stop offset="0.351" stop-color="#170000"/><stop offset="0.382" stop-color="#1f0000"/><stop offset="0.414" stop-color="#290000"/><stop offset="0.439" stop-color="#330000"/><stop offset="0.481" stop-color="#4c0000"/><stop offset="0.529" stop-color="#800000"/><stop offset="0.560" stop-color="#b83800"/><stop offset="0.586" stop-color="#ff8000"/><stop offset="0.603" stop-color="#ffbd3d"/><stop offset="0.618" stop-color="#ffff80"/><stop offset="0.631" stop-color="#ffffbd"/><stop offset="0.642" stop-color="#ffffe5"/><stop offset="0.654" stop-color="#ffffff"/><stop offset="0.661" stop-color="#ffffff"/><stop offset="0.668" stop-color="#ffffe5"/><stop offset="0.678" stop-color="#ffffbd"/><stop offset="0.691" stop-color="#ffff80"/><stop offset="0.706" stop-color="#ffbd3d"/><stop offset="0.722" stop-color="#ff8000"/><stop offset="0.749" stop-color="#b83800"/><stop offset="0.782" stop-color="#800000"/><stop offset="0.838" stop-color="#4c0000"/><stop offset="0.892" stop-color="#330000"/><stop offset="0.926" stop-color="#290000"/><stop offset="0.975" stop-color="#1f0000"/><stop offset="1.000" stop-color="#1b0000"/></linearGradient><linearGradient id="h18" x1="0" y1="0" x2="0" y2="1"><stop offset="0.000" stop-color="#000000"/><stop offset="0.268" stop-color="#060000"/><stop offset="0.338" stop-color="#0f0000"/><stop offset="0.376" stop-color="#170000"/><stop offset="0.405" stop-color="#1f0000"/><stop offset="0.434" stop-color="#290000"/><stop offset="0.456" stop-color="#330000"/><stop offset="0.494" stop-color="#4c0000"/><stop offset="0.538" stop-color="#800000"/><stop offset="0.566" stop-color="#b83800"/><stop offset="0.589" stop-color="#ff8000"/><stop offset="0.604" stop-color="#ffbd3d"/><stop offset="0.618" stop-color="#ffff80"/><stop offset="0.630" stop-color="#ffffbd"/><stop offset="0.640" stop-color="#ffffe5"/><stop offset="0.650" stop-color="#ffffff"/><stop offset="0.657" stop-color="#ffffff"/><stop offset="0.664" stop-color="#ffffe5"/><stop offset="0.673" stop-color="#ffffbd"/><stop offset="0.685" stop-color="#ffff80"/><stop offset="0.699" stop-color="#ffbd3d"/><stop offset="0.715" stop-color="#ff8000"/><stop offset="0.740" stop-color="#b83800"/><stop offset="0.771" stop-color="#800000"/><stop offset="0.824" stop-color="#4c0000"/><stop offset="0.875" stop-color="#330000"/><stop offset="0.907" stop-color="#290000"/><stop offset="0.953" stop-color="#1f0000"/><stop offset="1.000" stop-color="#170000"/></linearGradient><linearGradient id="h19" x1="0" y1="0" x2="0" y2="1"><stop offset="0.000" stop-color="#000000"/><stop offset="0.275" stop-color="#060000"/><stop offset="0.343" stop-color="#0f0000"/><stop offset="0.380" stop-color="#170000"/><stop offset="0.408" stop-color="#1f0000"/><stop offset="0.436" stop-color="#290000"/><stop offset="0.458" stop-color="#330000"/><stop offset="0.495" stop-color="#4c0000"/><stop offset="0.537" stop-color="#800000"/><stop offset="0.565" stop-color="#b83800"/><stop offset="0.587" stop-color="#ff8000"/><stop offset="0.602" stop-color="#ffbd3d"/><stop offset="0.615" stop-color="#ffff80"/><stop offset="0.627" stop-color="#ffffbd"/><stop offset="0.637" stop-color="#ffffe5"/><stop offset="0.647" stop-color="#ffffff"/><stop offset="0.653" stop-color="#ffffff"/><stop offset="0.660" stop-color="#ffffe5"/><stop offset="0.669" stop-color="#ffffbd"/><stop offset="0.681" stop-color="#ffff80"/><stop offset="0.695" stop-color="#ffbd3d"/><stop offset="0.711" stop-color="#ff8000"/><stop offset="0.736" stop-color="#b83800"/><stop offset="0.767" stop-color="#800000"/><stop offset="0.820" stop-color="#4c0000"/><stop offset="0.870" stop-color="#330000"/><stop offset="0.902" stop-color="#290000"/><stop offset="0.948" stop-color="#1f0000"/><stop offset="0.998" stop-color="#170000"/><stop offset="1.000" stop-color="#170000"/></linearGradient><linearGradient id="h20" x1="0" y1="0" x2="0" y2="1"><stop offset="0.000" stop-color="#000000"/><stop offset="0.207" stop-color="#060000"/><stop offset="0.287" stop-color="#0f0000"/><stop offset="0.331" stop-color="#170000"/><stop offset="0.363" stop-color="#1f0000"/><stop offset="0.396" stop-color="#290000"/><stop offset="0.421" stop-color="#330000"/><stop offset="0.465" stop-color="#4c0000"/><stop offset="0.515" stop-color="#800000"/><stop offset="0.547" stop-color="#b83800"/><stop offset="0.574" stop-color="#ff8000"/><stop offset="0.591" stop-color="#ffbd3d"/><stop offset="0.607" stop-color="#ffff80"/><stop offset="0.621" stop-color="#ffffbd"/><stop offset="0.632" stop-color="#ffffe5"/><stop offset="0.643" stop-color="#ffffff"/><stop offset="0.650" stop-color="#ffffff"/><stop offset="0.658" stop-color="#ffffe5"/><stop offset="0.667" stop-color="#ffffbd"/><stop offset="0.679" stop-color="#ffff80"/><stop offset="0.694" stop-color="#ffbd3d"/><stop offset="0.710" stop-color="#ff8000"/><stop offset="0.737" stop-color="#b83800"/><stop offset="0.769" stop-color="#800000"/><stop offset="0.824" stop-color="#4c0000"/><stop offset="0.876" stop-color="#330000"/><stop offset="0.910" stop-color="#290000"/><stop offset="0.957" stop-color="#1f0000"/><stop offset="1.000" stop-color="#180000"/></linearGradient><linearGradient id="h21" x1="0" y1="0" x2="0" y2="1"><stop offset="0.000" stop-color="#000000"/><stop offset="0.208" stop-color="#060000"/><stop offset="0.287" stop-color="#0f0000"/><stop offset="0.330" stop-color="#170000"/><stop offset="0.363" stop-color="#1f0000"/><stop offset="0.395" stop-color="#290000"/><stop offset="0.420" stop-color="#330000"/><stop offset="0.463" stop-color="#4c0000"/><stop offset="0.513" stop-color="#800000"/><stop offset="0.544" stop-color="#b83800"/><stop offset="0.571" stop-color="#ff8000"/><stop offset="0.588" stop-color="#ffbd3d"/><stop offset="0.604" stop-color="#ffff80"/><stop offset="0.617" stop-color="#ffffbd"/><stop offset="0.628" stop-color="#ffffe5"/><stop offset="0.640" stop-color="#ffffff"/><stop offset="0.647" stop-color="#ffffff"/><stop offset="0.654" stop-color="#ffffe5"/><stop offset="0.663" stop-color="#ffffbd"/><stop offset="0.676" stop-color="#ffff80"/><stop offset="0.690" stop-color="#ffbd3d"/><stop offset="0.707" stop-color="#ff8000"/><stop offset="0.733" stop-color="#b83800"/><stop offset="0.765" stop-color="#800000"/><stop offset="0.819" stop-color="#4c0000"/><stop offset="0.872" stop-color="#330000"/><stop offset="0.905" stop-color="#290000"/><stop offset="0.952" stop-color="#1f0000"/><stop offset="1.000" stop-color="#180000"/></linearGradient><linearGradient id="h22" x1="0" y1="0" x2="0" y2="1"><stop offset="0.000" stop-color="#000000"/><stop offset="0.204" stop-color="#060000"/><stop offset="0.283" stop-color="#0f0000"/><stop offset="0.326" stop-color="#170000"/><stop offset="0.359" stop-color="#1f0000"/><stop offset="0.391" stop-color="#290000"/><stop offset="0.416" stop-color="#330000"/><stop offset="0.459" stop-color="#4c0000"/><stop offset="0.509" stop-color="#800000"/><stop offset="0.540" stop-color="#b83800"/><stop offset="0.567" stop-color="#ff8000"/><stop offset="0.584" stop-color="#ffbd3d"/><stop offset="0.600" stop-color="#ffff80"/><stop offset="0.613" stop-color="#ffffbd"/><stop offset="0.624" stop-color="#ffffe5"/><stop offset="0.636" stop-color="#ffffff"/><stop offset="0.642" stop-color="#ffffff"/><stop offset="0.650" stop-color="#ffffe5"/><stop offset="0.658" stop-color="#ffffbd"/><stop offset="0.671" stop-color="#ffff80"/><stop offset="0.685" stop-color="#ffbd3d"/><stop offset="0.700" stop-color="#ff8000"/><stop offset="0.726" stop-color="#b83800"/><stop offset="0.757" stop-color="#800000"/><stop offset="0.809" stop-color="#4c0000"/><stop offset="0.860" stop-color="#330000"/><stop offset="0.892" stop-color="#290000"/><stop offset="0.938" stop-color="#1f0000"/><stop offset="0.989" stop-color="#170000"/><stop offset="1.000" stop-color="#160000"/></linearGradient><linearGradient id="h23" x1="0" y1="0" x2="0" y2="1"><stop offset="0.000" stop-color="#000000"/><stop offset="0.144" stop-color="#060000"/><stop offset="0.232" stop-color="#0f0000"/><stop offset="0.281" stop-color="#170000"/><stop offset="0.318" stop-color="#1f0000"/><stop offset="0.355" stop-color="#290000"/><stop offset="0.383" stop-color="#330000"/><stop offset="0.431" stop-color="#4c0000"/><stop offset="0.487" stop-color="#800000"/><stop offset="0.522" stop-color="#b83800"/><stop offset="0.552" stop-color="#ff8000"/><stop offset="0.571" stop-color="#ffbd3d"/><stop offset="0.589" stop-color="#ffff80"/><stop offset="0.605" stop-color="#ffffbd"/><stop offset="0.617" stop-color="#ffffe5"/><stop offset="0.630" stop-color="#ffffff"/><stop offset="0.636" stop-color="#ffffff"/><stop offset="0.644" stop-color="#ffffe5"/><stop offset="0.653" stop-color="#ffffbd"/><stop offset="0.666" stop-color="#ffff80"/><stop offset="0.680" stop-color="#ffbd3d"/><stop offset="0.696" stop-color="#ff8000"/><stop offset="0.722" stop-color="#b83800"/><stop offset="0.755" stop-color="#800000"/><stop offset="0.809" stop-color="#4c0000"/><stop offset="0.861" stop-color="#330000"/><stop offset="0.894" stop-color="#290000"/><stop offset="0.941" stop-color="#1f0000"/><stop offset="0.994" stop-color="#170000"/><stop offset="1.000" stop-color="#160000"/></linearGradient><linearGradient id="h24" x1="0" y1="0" x2="0" y2="1"><stop offset="0.000" stop-color="#000000"/><stop offset="0.205" stop-color="#060000"/><stop offset="0.281" stop-color="#0f0000"/><stop offset="0.324" stop-color="#170000"/><stop offset="0.355" stop-color="#1f0000"/><stop offset="0.386" stop-color="#290000"/><stop offset="0.411" stop-color="#330000"/><stop offset="0.453" stop-color="#4c0000"/><stop offset="0.500" stop-color="#800000"/><stop offset="0.531" stop-color="#b83800"/><stop offset="0.557" stop-color="#ff8000"/><stop offset="0.573" stop-color="#ffbd3d"/><stop offset="0.588" stop-color="#ffff80"/><stop offset="0.602" stop-color="#ffffbd"/><stop offset="0.612" stop-color="#ffffe5"/><stop offset="0.624" stop-color="#ffffff"/><stop offset="0.631" stop-color="#ffffff"/><stop offset="0.638" stop-color="#ffffe5"/><stop offset="0.648" stop-color="#ffffbd"/><stop offset="0.661" stop-color="#ffff80"/><stop offset="0.677" stop-color="#ffbd3d"/><stop offset="0.694" stop-color="#ff8000"/><stop offset="0.721" stop-color="#b83800"/><stop offset="0.755" stop-color="#800000"/><stop offset="0.812" stop-color="#4c0000"/><stop offset="0.867" stop-color="#330000"/><stop offset="0.902" stop-color="#290000"/><stop offset="0.952" stop-color="#1f0000"/><stop offset="1.000" stop-color="#180000"/></linearGradient><linearGradient id="h25" x1="0" y1="0" x2="0" y2="1"><stop offset="0.000" stop-color="#000000"/><stop offset="0.284" stop-color="#060000"/><stop offset="0.345" stop-color="#0f0000"/><stop offset="0.378" stop-color="#170000"/><stop offset="0.403" stop-color="#1f0000"/><stop offset="0.428" stop-color="#290000"/><stop offset="0.448" stop-color="#330000"/><stop offset="0.481" stop-color="#4c0000"/><stop offset="0.519" stop-color="#800000"/><stop offset="0.544" stop-color="#b83800"/><stop offset="0.564" stop-color="#ff8000"/><stop offset="0.577" stop-color="#ffbd3d"/><stop offset="0.589" stop-color="#ffff80"/><stop offset="0.600" stop-color="#ffffbd"/><stop offset="0.608" stop-color="#ffffe5"/><stop offset="0.617" stop-color="#ffffff"/><stop offset="0.625" stop-color="#ffffff"/><stop offset="0.633" stop-color="#ffffe5"/><stop offset="0.643" stop-color="#ffffbd"/><stop offset="0.657" stop-color="#ffff80"/><stop offset="0.673" stop-color="#ffbd3d"/><stop offset="0.691" stop-color="#ff8000"/><stop offset="0.720" stop-color="#b83800"/><stop offset="0.755" stop-color="#800000"/><stop offset="0.815" stop-color="#4c0000"/><stop offset="0.873" stop-color="#330000"/><stop offset="0.909" stop-color="#290000"/><stop offset="0.961" stop-color="#1f0000"/><stop offset="1.000" stop-color="#190000"/></linearGradient><linearGradient id="h26" x1="0" y1="0" x2="0" y2="1"><stop offset="0.000" stop-color="#000000"/><stop offset="0.265" stop-color="#060000"/><stop offset="0.328" stop-color="#0f0000"/><stop offset="0.363" stop-color="#170000"/><stop offset="0.389" stop-color="#1f0000"/><stop offset="0.415" stop-color="#290000"/><stop offset="0.435" stop-color="#330000"/><stop offset="0.470" stop-color="#4c0000"/><stop offset="0.509" stop-color="#800000"/><stop offset="0.535" stop-color="#b83800"/><stop offset="0.556" stop-color="#ff8000"/><stop offset="0.570" stop-color="#ffbd3d"/><stop offset="0.582" stop-color="#ffff80"/><stop offset="0.593" stop-color="#ffffbd"/><stop offset="0.602" stop-color="#ffffe5"/><stop offset="0.611" stop-color="#ffffff"/><stop offset="0.619" stop-color="#ffffff"/><stop offset="0.627" stop-color="#ffffe5"/><stop offset="0.638" stop-color="#ffffbd"/><stop offset="0.652" stop-color="#ffff80"/><stop offset="0.669" stop-color="#ffbd3d"/><stop offset="0.687" stop-color="#ff8000"/><stop offset="0.717" stop-color="#b83800"/><stop offset="0.753" stop-color="#800000"/><stop offset="0.815" stop-color="#4c0000"/><stop offset="0.875" stop-color="#330000"/><stop offset="0.912" stop-color="#290000"/><stop offset="0.966" stop-color="#1f0000"/><stop offset="1.000" stop-color="#1a0000"/></linearGradient><linearGradient id="h27" x1="0" y1="0" x2="0" y2="1"><stop offset="0.000" stop-color="#000000"/><stop offset="0.246" stop-color="#060000"/><stop offset="0.312" stop-color="#0f0000"/><stop offset="0.348" stop-color="#170000"/><stop offset="0.375" stop-color="#1f0000"/><stop offset="0.402" stop-color="#290000"/><stop offset="0.423" stop-color="#330000"/><stop offset="0.458" stop-color="#4c0000"/><stop offset="0.499" stop-color="#800000"/><stop offset="0.526" stop-color="#b83800"/><stop offset="0.548" stop-color="#ff8000"/><stop offset="0.562" stop-color="#ffbd3d"/><stop offset="0.575" stop-color="#ffff80"/><stop offset="0.586" stop-color="#ffffbd"/><stop offset="0.595" stop-color="#ffffe5"/><stop offset="0.605" stop-color="#ffffff"/><stop offset="0.613" stop-color="#ffffff"/><stop offset="0.621" stop-color="#ffffe5"/><stop offset="0.631" stop-color="#ffffbd"/><stop offset="0.646" stop-color="#ffff80"/><stop offset="0.662" stop-color="#ffbd3d"/><stop offset="0.681" stop-color="#ff8000"/><stop offset="0.710" stop-color="#b83800"/><stop offset="0.747" stop-color="#800000"/><stop offset="0.809" stop-color="#4c0000"/><stop offset="0.869" stop-color="#330000"/><stop offset="0.906" stop-color="#290000"/><stop offset="0.960" stop-color="#1f0000"/><stop offset="1.000" stop-color="#190000"/></linearGradient><linearGradient id="h28" x1="0" y1="0" x2="0" y2="1"><stop offset="0.000" stop-color="#000000"/><stop offset="0.187" stop-color="#060000"/><stop offset="0.262" stop-color="#0f0000"/><stop offset="0.303" stop-color="#170000"/><stop offset="0.334" stop-color="#1f0000"/><stop offset="0.365" stop-color="#290000"/><stop offset="0.389" stop-color="#330000"/><stop offset="0.430" stop-color="#4c0000"/><stop offset="0.477" stop-color="#800000"/><stop offset="0.508" stop-color="#b83800"/><stop offset="0.533" stop-color="#ff8000"/><stop offset="0.549" stop-color="#ffbd3d"/><stop offset="0.564" stop-color="#ffff80"/><stop offset="0.577" stop-color="#ffffbd"/><stop offset="0.588" stop-color="#ffffe5"/><stop offset="0.599" stop-color="#ffffff"/><stop offset="0.606" stop-color="#ffffff"/><stop offset="0.614" stop-color="#ffffe5"/><stop offset="0.624" stop-color="#ffffbd"/><stop offset="0.637" stop-color="#ffff80"/><stop offset="0.653" stop-color="#ffbd3d"/><stop offset="0.671" stop-color="#ff8000"/><stop offset="0.699" stop-color="#b83800"/><stop offset="0.734" stop-color="#800000"/><stop offset="0.792" stop-color="#4c0000"/><stop offset="0.849" stop-color="#330000"/><stop offset="0.885" stop-color="#290000"/><stop offset="0.936" stop-color="#1f0000"/><stop offset="0.992" stop-color="#170000"/><stop offset="1.000" stop-color="#160000"/></linearGradient><linearGradient id="h29" x1="0" y1="0" x2="0" y2="1"><stop offset="0.000" stop-color="#000000"/><stop offset="0.175" stop-color="#060000"/><stop offset="0.251" stop-color="#0f0000"/><stop offset="0.293" stop-color="#170000"/><stop offset="0.325" stop-color="#1f0000"/><stop offset="0.356" stop-color="#290000"/><stop offset="0.380" stop-color="#330000"/><stop offset="0.422" stop-color="#4c0000"/><stop offset="0.470" stop-color="#800000"/><stop offset="0.500" stop-color="#b83800"/><stop offset="0.526" stop-color="#ff8000"/><stop offset="0.542" stop-color="#ffbd3d"/><stop offset="0.557" stop-color="#ffff80"/><stop offset="0.571" stop-color="#ffffbd"/><stop offset="0.581" stop-color="#ffffe5"/><stop offset="0.592" stop-color="#ffffff"/><stop offset="0.599" stop-color="#ffffff"/><stop offset="0.607" stop-color="#ffffe5"/><stop offset="0.617" stop-color="#ffffbd"/><stop offset="0.630" stop-color="#ffff80"/><stop offset="0.645" stop-color="#ffbd3d"/><stop offset="0.662" stop-color="#ff8000"/><stop offset="0.690" stop-color="#b83800"/><stop offset="0.724" stop-color="#800000"/><stop offset="0.781" stop-color="#4c0000"/><stop offset="0.837" stop-color="#330000"/><stop offset="0.872" stop-color="#290000"/><stop offset="0.922" stop-color="#1f0000"/><stop offset="0.977" stop-color="#170000"/><stop offset="1.000" stop-color="#150000"/></linearGradient><linearGradient id="h30" x1="0" y1="0" x2="0" y2="1"><stop offset="0.000" stop-color="#000000"/><stop offset="0.170" stop-color="#060000"/><stop offset="0.246" stop-color="#0f0000"/><stop offset="0.288" stop-color="#170000"/><stop offset="0.319" stop-color="#1f0000"/><stop offset="0.350" stop-color="#290000"/><stop offset="0.374" stop-color="#330000"/><stop offset="0.416" stop-color="#4c0000"/><stop offset="0.463" stop-color="#800000"/><stop offset="0.494" stop-color="#b83800"/><stop offset="0.519" stop-color="#ff8000"/><stop offset="0.536" stop-color="#ffbd3d"/><stop offset="0.551" stop-color="#ffff80"/><stop offset="0.564" stop-color="#ffffbd"/><stop offset="0.575" stop-color="#ffffe5"/><stop offset="0.586" stop-color="#ffffff"/><stop offset="0.593" stop-color="#ffffff"/><stop offset="0.601" stop-color="#ffffe5"/><stop offset="0.611" stop-color="#ffffbd"/><stop offset="0.626" stop-color="#ffff80"/><stop offset="0.642" stop-color="#ffbd3d"/><stop offset="0.660" stop-color="#ff8000"/><stop offset="0.689" stop-color="#b83800"/><stop offset="0.725" stop-color="#800000"/><stop offset="0.786" stop-color="#4c0000"/><stop offset="0.845" stop-color="#330000"/><stop offset="0.882" stop-color="#290000"/><stop offset="0.934" stop-color="#1f0000"/><stop offset="0.993" stop-color="#170000"/><stop offset="1.000" stop-color="#160000"/></linearGradient><linearGradient id="h31" x1="0" y1="0" x2="0" y2="1"><stop offset="0.000" stop-color="#000000"/><stop offset="0.153" stop-color="#060000"/><stop offset="0.231" stop-color="#0f0000"/><stop offset="0.274" stop-color="#170000"/><stop offset="0.306" stop-color="#1f0000"/><stop offset="0.338" stop-color="#290000"/><stop offset="0.362" stop-color="#330000"/><stop offset="0.405" stop-color="#4c0000"/><stop offset="0.454" stop-color="#800000"/><stop offset="0.485" stop-color="#b83800"/><stop offset="0.511" stop-color="#ff8000"/><stop offset="0.528" stop-color="#ffbd3d"/><stop offset="0.543" stop-color="#ffff80"/><stop offset="0.557" stop-color="#ffffbd"/><stop offset="0.568" stop-color="#ffffe5"/><stop offset="0.579" stop-color="#ffffff"/><stop offset="0.586" stop-color="#ffffff"/><stop offset="0.595" stop-color="#ffffe5"/><stop offset="0.606" stop-color="#ffffbd"/><stop offset="0.621" stop-color="#ffff80"/><stop offset="0.637" stop-color="#ffbd3d"/><stop offset="0.656" stop-color="#ff8000"/><stop offset="0.687" stop-color="#b83800"/><stop offset="0.724" stop-color="#800000"/><stop offset="0.787" stop-color="#4c0000"/><stop offset="0.848" stop-color="#330000"/><stop offset="0.887" stop-color="#290000"/><stop offset="0.942" stop-color="#1f0000"/><stop offset="1.000" stop-color="#170000"/></linearGradient><linearGradient id="h32" x1="0" y1="0" x2="0" y2="1"><stop offset="0.000" stop-color="#000000"/><stop offset="0.168" stop-color="#060000"/><stop offset="0.242" stop-color="#0f0000"/><stop offset="0.282" stop-color="#170000"/><stop offset="0.313" stop-color="#1f0000"/><stop offset="0.343" stop-color="#290000"/><stop offset="0.367" stop-color="#330000"/><stop offset="0.407" stop-color="#4c0000"/><stop offset="0.453" stop-color="#800000"/><stop offset="0.483" stop-color="#b83800"/><stop offset="0.508" stop-color="#ff8000"/><stop offset="0.524" stop-color="#ffbd3d"/><stop offset="0.538" stop-color="#ffff80"/><stop offset="0.551" stop-color="#ffffbd"/><stop offset="0.562" stop-color="#ffffe5"/><stop offset="0.572" stop-color="#ffffff"/><stop offset="0.579" stop-color="#ffffff"/><stop offset="0.588" stop-color="#ffffe5"/><stop offset="0.598" stop-color="#ffffbd"/><stop offset="0.612" stop-color="#ffff80"/><stop offset="0.628" stop-color="#ffbd3d"/><stop offset="0.646" stop-color="#ff8000"/><stop offset="0.675" stop-color="#b83800"/><stop offset="0.711" stop-color="#800000"/><stop offset="0.772" stop-color="#4c0000"/><stop offset="0.830" stop-color="#330000"/><stop offset="0.867" stop-color="#290000"/><stop offset="0.919" stop-color="#1f0000"/><stop offset="0.978" stop-color="#170000"/><stop offset="1.000" stop-color="#150000"/></linearGradient><linearGradient id="h33" x1="0" y1="0" x2="0" y2="1"><stop offset="0.000" stop-color="#000000"/><stop offset="0.175" stop-color="#060000"/><stop offset="0.246" stop-color="#0f0000"/><stop offset="0.286" stop-color="#170000"/><stop offset="0.315" stop-color="#1f0000"/><stop offset="0.344" stop-color="#290000"/><stop offset="0.367" stop-color="#330000"/><stop offset="0.406" stop-color="#4c0000"/><stop offset="0.451" stop-color="#800000"/><stop offset="0.479" stop-color="#b83800"/><stop offset="0.503" stop-color="#ff8000"/><stop offset="0.519" stop-color="#ffbd3d"/><stop offset="0.533" stop-color="#ffff80"/><stop offset="0.545" stop-color="#ffffbd"/><stop offset="0.555" stop-color="#ffffe5"/><stop offset="0.566" stop-color="#ffffff"/><stop offset="0.572" stop-color="#ffffff"/><stop offset="0.580" stop-color="#ffffe5"/><stop offset="0.590" stop-color="#ffffbd"/><stop offset="0.603" stop-color="#ffff80"/><stop offset="0.618" stop-color="#ffbd3d"/><stop offset="0.635" stop-color="#ff8000"/><stop offset="0.663" stop-color="#b83800"/><stop offset="0.696" stop-color="#800000"/><stop offset="0.753" stop-color="#4c0000"/><stop offset="0.808" stop-color="#330000"/><stop offset="0.842" stop-color="#290000"/><stop offset="0.892" stop-color="#1f0000"/><stop offset="0.947" stop-color="#170000"/><stop offset="1.000" stop-color="#120000"/></linearGradient><linearGradient id="h34" x1="0" y1="0" x2="0" y2="1"><stop offset="0.000" stop-color="#000000"/><stop offset="0.192" stop-color="#060000"/><stop offset="0.259" stop-color="#0f0000"/><stop offset="0.296" stop-color="#170000"/><stop offset="0.324" stop-color="#1f0000"/><stop offset="0.351" stop-color="#290000"/><stop offset="0.372" stop-color="#330000"/><stop offset="0.409" stop-color="#4c0000"/><stop offset="0.451" stop-color="#800000"/><stop offset="0.478" stop-color="#b83800"/><stop offset="0.501" stop-color="#ff8000"/><stop offset="0.515" stop-color="#ffbd3d"/><stop offset="0.528" stop-color="#ffff80"/><stop offset="0.540" stop-color="#ffffbd"/><stop offset="0.549" stop-color="#ffffe5"/><stop offset="0.559" stop-color="#ffffff"/><stop offset="0.566" stop-color="#ffffff"/><stop offset="0.574" stop-color="#ffffe5"/><stop offset="0.584" stop-color="#ffffbd"/><stop offset="0.597" stop-color="#ffff80"/><stop offset="0.613" stop-color="#ffbd3d"/><stop offset="0.630" stop-color="#ff8000"/><stop offset="0.658" stop-color="#b83800"/><stop offset="0.693" stop-color="#800000"/><stop offset="0.751" stop-color="#4c0000"/><stop offset="0.807" stop-color="#330000"/><stop offset="0.843" stop-color="#290000"/><stop offset="0.893" stop-color="#1f0000"/><stop offset="0.950" stop-color="#170000"/><stop offset="1.000" stop-color="#120000"/></linearGradient><linearGradient id="h35" x1="0" y1="0" x2="0" y2="1"><stop offset="0.000" stop-color="#000000"/><stop offset="0.190" stop-color="#060000"/><stop offset="0.256" stop-color="#0f0000"/><stop offset="0.292" stop-color="#170000"/><stop offset="0.320" stop-color="#1f0000"/><stop offset="0.347" stop-color="#290000"/><stop offset="0.368" stop-color="#330000"/><stop offset="0.404" stop-color="#4c0000"/><stop offset="0.446" stop-color="#800000"/><stop offset="0.472" stop-color="#b83800"/><stop offset="0.495" stop-color="#ff8000"/><stop offset="0.509" stop-color="#ffbd3d"/><stop offset="0.522" stop-color="#ffff80"/><stop offset="0.534" stop-color="#ffffbd"/><stop offset="0.543" stop-color="#ffffe5"/><stop offset="0.552" stop-color="#ffffff"/><stop offset="0.559" stop-color="#ffffff"/><stop offset="0.568" stop-color="#ffffe5"/><stop offset="0.578" stop-color="#ffffbd"/><stop offset="0.591" stop-color="#ffff80"/><stop offset="0.607" stop-color="#ffbd3d"/><stop offset="0.625" stop-color="#ff8000"/><stop offset="0.653" stop-color="#b83800"/><stop offset="0.689" stop-color="#800000"/><stop offset="0.748" stop-color="#4c0000"/><stop offset="0.805" stop-color="#330000"/><stop offset="0.841" stop-color="#290000"/><stop offset="0.893" stop-color="#1f0000"/><stop offset="0.950" stop-color="#170000"/><stop offset="1.000" stop-color="#120000"/></linearGradient><linearGradient id="h36" x1="0" y1="0" x2="0" y2="1"><stop offset="0.000" stop-color="#000000"/><stop offset="0.135" stop-color="#060000"/><stop offset="0.210" stop-color="#0f0000"/><stop offset="0.252" stop-color="#170000"/><stop offset="0.282" stop-color="#1f0000"/><stop offset="0.313" stop-color="#290000"/><stop offset="0.337" stop-color="#330000"/><stop offset="0.378" stop-color="#4c0000"/><stop offset="0.425" stop-color="#800000"/><stop offset="0.455" stop-color="#b83800"/><stop offset="0.480" stop-color="#ff8000"/><stop offset="0.497" stop-color="#ffbd3d"/><stop offset="0.511" stop-color="#ffff80"/><stop offset="0.525" stop-color="#ffffbd"/><stop offset="0.535" stop-color="#ffffe5"/><stop offset="0.546" stop-color="#ffffff"/><stop offset="0.553" stop-color="#ffffff"/><stop offset="0.561" stop-color="#ffffe5"/><stop offset="0.570" stop-color="#ffffbd"/><stop offset="0.584" stop-color="#ffff80"/><stop offset="0.599" stop-color="#ffbd3d"/><stop offset="0.616" stop-color="#ff8000"/><stop offset="0.644" stop-color="#b83800"/><stop offset="0.678" stop-color="#800000"/><stop offset="0.736" stop-color="#4c0000"/><stop offset="0.791" stop-color="#330000"/><stop offset="0.826" stop-color="#290000"/><stop offset="0.876" stop-color="#1f0000"/><stop offset="0.932" stop-color="#170000"/><stop offset="1.000" stop-color="#110000"/></linearGradient><linearGradient id="h37" x1="0" y1="0" x2="0" y2="1"><stop offset="0.000" stop-color="#030000"/><stop offset="0.047" stop-color="#060000"/><stop offset="0.137" stop-color="#0f0000"/><stop offset="0.187" stop-color="#170000"/><stop offset="0.224" stop-color="#1f0000"/><stop offset="0.261" stop-color="#290000"/><stop offset="0.289" stop-color="#330000"/><stop offset="0.338" stop-color="#4c0000"/><stop offset="0.395" stop-color="#800000"/><stop offset="0.431" stop-color="#b83800"/><stop offset="0.461" stop-color="#ff8000"/><stop offset="0.480" stop-color="#ffbd3d"/><stop offset="0.498" stop-color="#ffff80"/><stop offset="0.514" stop-color="#ffffbd"/><stop offset="0.526" stop-color="#ffffe5"/><stop offset="0.539" stop-color="#ffffff"/><stop offset="0.546" stop-color="#ffffff"/><stop offset="0.555" stop-color="#ffffe5"/><stop offset="0.565" stop-color="#ffffbd"/><stop offset="0.579" stop-color="#ffff80"/><stop offset="0.595" stop-color="#ffbd3d"/><stop offset="0.613" stop-color="#ff8000"/><stop offset="0.641" stop-color="#b83800"/><stop offset="0.677" stop-color="#800000"/><stop offset="0.737" stop-color="#4c0000"/><stop offset="0.795" stop-color="#330000"/><stop offset="0.831" stop-color="#290000"/><stop offset="0.883" stop-color="#1f0000"/><stop offset="0.941" stop-color="#170000"/><stop offset="1.000" stop-color="#120000"/></linearGradient><linearGradient id="h38" x1="0" y1="0" x2="0" y2="1"><stop offset="0.000" stop-color="#050000"/><stop offset="0.021" stop-color="#060000"/><stop offset="0.114" stop-color="#0f0000"/><stop offset="0.166" stop-color="#170000"/><stop offset="0.204" stop-color="#1f0000"/><stop offset="0.243" stop-color="#290000"/><stop offset="0.272" stop-color="#330000"/><stop offset="0.323" stop-color="#4c0000"/><stop offset="0.382" stop-color="#800000"/><stop offset="0.420" stop-color="#b83800"/><stop offset="0.451" stop-color="#ff8000"/><stop offset="0.471" stop-color="#ffbd3d"/><stop offset="0.490" stop-color="#ffff80"/><stop offset="0.506" stop-color="#ffffbd"/><stop offset="0.519" stop-color="#ffffe5"/><stop offset="0.533" stop-color="#ffffff"/><stop offset="0.540" stop-color="#ffffff"/><stop offset="0.549" stop-color="#ffffe5"/><stop offset="0.560" stop-color="#ffffbd"/><stop offset="0.574" stop-color="#ffff80"/><stop offset="0.591" stop-color="#ffbd3d"/><stop offset="0.610" stop-color="#ff8000"/><stop offset="0.641" stop-color="#b83800"/><stop offset="0.679" stop-color="#800000"/><stop offset="0.742" stop-color="#4c0000"/><stop offset="0.804" stop-color="#330000"/><stop offset="0.842" stop-color="#290000"/><stop offset="0.897" stop-color="#1f0000"/><stop offset="0.959" stop-color="#170000"/><stop offset="1.000" stop-color="#130000"/></linearGradient><linearGradient id="h39" x1="0" y1="0" x2="0" y2="1"><stop offset="0.000" stop-color="#020000"/><stop offset="0.056" stop-color="#060000"/><stop offset="0.141" stop-color="#0f0000"/><stop offset="0.189" stop-color="#170000"/><stop offset="0.224" stop-color="#1f0000"/><stop offset="0.260" stop-color="#290000"/><stop offset="0.287" stop-color="#330000"/><stop offset="0.334" stop-color="#4c0000"/><stop offset="0.388" stop-color="#800000"/><stop offset="0.422" stop-color="#b83800"/><stop offset="0.451" stop-color="#ff8000"/><stop offset="0.469" stop-color="#ffbd3d"/><stop offset="0.487" stop-color="#ffff80"/><stop offset="0.502" stop-color="#ffffbd"/><stop offset="0.514" stop-color="#ffffe5"/><stop offset="0.526" stop-color="#ffffff"/><stop offset="0.533" stop-color="#ffffff"/><stop offset="0.541" stop-color="#ffffe5"/><stop offset="0.552" stop-color="#ffffbd"/><stop offset="0.566" stop-color="#ffff80"/><stop offset="0.582" stop-color="#ffbd3d"/><stop offset="0.600" stop-color="#ff8000"/><stop offset="0.629" stop-color="#b83800"/><stop offset="0.665" stop-color="#800000"/><stop offset="0.725" stop-color="#4c0000"/><stop offset="0.783" stop-color="#330000"/><stop offset="0.820" stop-color="#290000"/><stop offset="0.872" stop-color="#1f0000"/><stop offset="0.931" stop-color="#170000"/><stop offset="1.000" stop-color="#110000"/></linearGradient><linearGradient id="h40" x1="0" y1="0" x2="0" y2="1"><stop offset="0.000" stop-color="#020000"/><stop offset="0.060" stop-color="#060000"/><stop offset="0.144" stop-color="#0f0000"/><stop offset="0.190" stop-color="#170000"/><stop offset="0.225" stop-color="#1f0000"/><stop offset="0.259" stop-color="#290000"/><stop offset="0.286" stop-color="#330000"/><stop offset="0.332" stop-color="#4c0000"/><stop offset="0.384" stop-color="#800000"/><stop offset="0.418" stop-color="#b83800"/><stop offset="0.446" stop-color="#ff8000"/><stop offset="0.464" stop-color="#ffbd3d"/><stop offset="0.481" stop-color="#ffff80"/><stop offset="0.496" stop-color="#ffffbd"/><stop offset="0.507" stop-color="#ffffe5"/><stop offset="0.519" stop-color="#ffffff"/><stop offset="0.526" stop-color="#ffffff"/><stop offset="0.534" stop-color="#ffffe5"/><stop offset="0.544" stop-color="#ffffbd"/><stop offset="0.558" stop-color="#ffff80"/><stop offset="0.573" stop-color="#ffbd3d"/><stop offset="0.591" stop-color="#ff8000"/><stop offset="0.619" stop-color="#b83800"/><stop offset="0.653" stop-color="#800000"/><stop offset="0.711" stop-color="#4c0000"/><stop offset="0.768" stop-color="#330000"/><stop offset="0.803" stop-color="#290000"/><stop offset="0.853" stop-color="#1f0000"/><stop offset="0.910" stop-color="#170000"/><stop offset="0.998" stop-color="#0f0000"/><stop offset="1.000" stop-color="#0f0000"/></linearGradient><linearGradient id="h41" x1="0" y1="0" x2="0" y2="1"><stop offset="0.000" stop-color="#020000"/><stop offset="0.056" stop-color="#060000"/><stop offset="0.140" stop-color="#0f0000"/><stop offset="0.186" stop-color="#170000"/><stop offset="0.220" stop-color="#1f0000"/><stop offset="0.254" stop-color="#290000"/><stop offset="0.281" stop-color="#330000"/><stop offset="0.326" stop-color="#4c0000"/><stop offset="0.379" stop-color="#800000"/><stop offset="0.412" stop-color="#b83800"/><stop offset="0.440" stop-color="#ff8000"/><stop offset="0.458" stop-color="#ffbd3d"/><stop offset="0.475" stop-color="#ffff80"/><stop offset="0.489" stop-color="#ffffbd"/><stop offset="0.501" stop-color="#ffffe5"/><stop offset="0.513" stop-color="#ffffff"/><stop offset="0.520" stop-color="#ffffff"/><stop offset="0.528" stop-color="#ffffe5"/><stop offset="0.539" stop-color="#ffffbd"/><stop offset="0.553" stop-color="#ffff80"/><stop offset="0.569" stop-color="#ffbd3d"/><stop offset="0.587" stop-color="#ff8000"/><stop offset="0.617" stop-color="#b83800"/><stop offset="0.653" stop-color="#800000"/><stop offset="0.714" stop-color="#4c0000"/><stop offset="0.773" stop-color="#330000"/><stop offset="0.810" stop-color="#290000"/><stop offset="0.863" stop-color="#1f0000"/><stop offset="0.922" stop-color="#170000"/><stop offset="1.000" stop-color="#100000"/></linearGradient><linearGradient id="h42" x1="0" y1="0" x2="0" y2="1"><stop offset="0.000" stop-color="#010000"/><stop offset="0.064" stop-color="#060000"/><stop offset="0.145" stop-color="#0f0000"/><stop offset="0.189" stop-color="#170000"/><stop offset="0.223" stop-color="#1f0000"/><stop offset="0.256" stop-color="#290000"/><stop offset="0.281" stop-color="#330000"/><stop offset="0.326" stop-color="#4c0000"/><stop offset="0.376" stop-color="#800000"/><stop offset="0.409" stop-color="#b83800"/><stop offset="0.436" stop-color="#ff8000"/><stop offset="0.453" stop-color="#ffbd3d"/><stop offset="0.469" stop-color="#ffff80"/><stop offset="0.484" stop-color="#ffffbd"/><stop offset="0.495" stop-color="#ffffe5"/><stop offset="0.506" stop-color="#ffffff"/><stop offset="0.513" stop-color="#ffffff"/><stop offset="0.522" stop-color="#ffffe5"/><stop offset="0.532" stop-color="#ffffbd"/><stop offset="0.546" stop-color="#ffff80"/><stop offset="0.563" stop-color="#ffbd3d"/><stop offset="0.581" stop-color="#ff8000"/><stop offset="0.610" stop-color="#b83800"/><stop offset="0.647" stop-color="#800000"/><stop offset="0.708" stop-color="#4c0000"/><stop offset="0.767" stop-color="#330000"/><stop offset="0.804" stop-color="#290000"/><stop offset="0.857" stop-color="#1f0000"/><stop offset="0.916" stop-color="#170000"/><stop offset="1.000" stop-color="#100000"/></linearGradient><linearGradient id="h43" x1="0" y1="0" x2="0" y2="1"><stop offset="0.000" stop-color="#000000"/><stop offset="0.104" stop-color="#060000"/><stop offset="0.176" stop-color="#0f0000"/><stop offset="0.216" stop-color="#170000"/><stop offset="0.245" stop-color="#1f0000"/><stop offset="0.275" stop-color="#290000"/><stop offset="0.298" stop-color="#330000"/><stop offset="0.338" stop-color="#4c0000"/><stop offset="0.383" stop-color="#800000"/><stop offset="0.412" stop-color="#b83800"/><stop offset="0.437" stop-color="#ff8000"/><stop offset="0.452" stop-color="#ffbd3d"/><stop offset="0.467" stop-color="#ffff80"/><stop offset="0.479" stop-color="#ffffbd"/><stop offset="0.489" stop-color="#ffffe5"/><stop offset="0.500" stop-color="#ffffff"/><stop offset="0.507" stop-color="#ffffff"/><stop offset="0.515" stop-color="#ffffe5"/><stop offset="0.526" stop-color="#ffffbd"/><stop offset="0.540" stop-color="#ffff80"/><stop offset="0.556" stop-color="#ffbd3d"/><stop offset="0.574" stop-color="#ff8000"/><stop offset="0.603" stop-color="#b83800"/><stop offset="0.640" stop-color="#800000"/><stop offset="0.701" stop-color="#4c0000"/><stop offset="0.759" stop-color="#330000"/><stop offset="0.796" stop-color="#290000"/><stop offset="0.849" stop-color="#1f0000"/><stop offset="0.908" stop-color="#170000"/><stop offset="1.000" stop-color="#0f0000"/></linearGradient><linearGradient id="h44" x1="0" y1="0" x2="0" y2="1"><stop offset="0.000" stop-color="#000000"/><stop offset="0.150" stop-color="#060000"/><stop offset="0.213" stop-color="#0f0000"/><stop offset="0.247" stop-color="#170000"/><stop offset="0.273" stop-color="#1f0000"/><stop offset="0.299" stop-color="#290000"/><stop offset="0.319" stop-color="#330000"/><stop offset="0.353" stop-color="#4c0000"/><stop offset="0.392" stop-color="#800000"/><stop offset="0.417" stop-color="#b83800"/><stop offset="0.438" stop-color="#ff8000"/><stop offset="0.452" stop-color="#ffbd3d"/><stop offset="0.464" stop-color="#ffff80"/><stop offset="0.476" stop-color="#ffffbd"/><stop offset="0.484" stop-color="#ffffe5"/><stop offset="0.493" stop-color="#ffffff"/><stop offset="0.500" stop-color="#ffffff"/><stop offset="0.509" stop-color="#ffffe5"/><stop offset="0.520" stop-color="#ffffbd"/><stop offset="0.534" stop-color="#ffff80"/><stop offset="0.551" stop-color="#ffbd3d"/><stop offset="0.570" stop-color="#ff8000"/><stop offset="0.600" stop-color="#b83800"/><stop offset="0.637" stop-color="#800000"/><stop offset="0.699" stop-color="#4c0000"/><stop offset="0.760" stop-color="#330000"/><stop offset="0.797" stop-color="#290000"/><stop offset="0.852" stop-color="#1f0000"/><stop offset="0.912" stop-color="#170000"/><stop offset="1.000" stop-color="#100000"/></linearGradient><linearGradient id="h45" x1="0" y1="0" x2="0" y2="1"><stop offset="0.000" stop-color="#000000"/><stop offset="0.128" stop-color="#060000"/><stop offset="0.194" stop-color="#0f0000"/><stop offset="0.230" stop-color="#170000"/><stop offset="0.256" stop-color="#1f0000"/><stop offset="0.284" stop-color="#290000"/><stop offset="0.304" stop-color="#330000"/><stop offset="0.340" stop-color="#4c0000"/><stop offset="0.381" stop-color="#800000"/><stop offset="0.407" stop-color="#b83800"/><stop offset="0.429" stop-color="#ff8000"/><stop offset="0.444" stop-color="#ffbd3d"/><stop offset="0.457" stop-color="#ffff80"/><stop offset="0.468" stop-color="#ffffbd"/><stop offset="0.477" stop-color="#ffffe5"/><stop offset="0.487" stop-color="#ffffff"/><stop offset="0.494" stop-color="#ffffff"/><stop offset="0.502" stop-color="#ffffe5"/><stop offset="0.513" stop-color="#ffffbd"/><stop offset="0.528" stop-color="#ffff80"/><stop offset="0.544" stop-color="#ffbd3d"/><stop offset="0.563" stop-color="#ff8000"/><stop offset="0.593" stop-color="#b83800"/><stop offset="0.630" stop-color="#800000"/><stop offset="0.693" stop-color="#4c0000"/><stop offset="0.753" stop-color="#330000"/><stop offset="0.791" stop-color="#290000"/><stop offset="0.845" stop-color="#1f0000"/><stop offset="0.906" stop-color="#170000"/><stop offset="1.000" stop-color="#0f0000"/></linearGradient><linearGradient id="h46" x1="0" y1="0" x2="0" y2="1"><stop offset="0.000" stop-color="#040000"/><stop offset="0.026" stop-color="#060000"/><stop offset="0.109" stop-color="#0f0000"/><stop offset="0.155" stop-color="#170000"/><stop offset="0.189" stop-color="#1f0000"/><stop offset="0.223" stop-color="#290000"/><stop offset="0.249" stop-color="#330000"/><stop offset="0.295" stop-color="#4c0000"/><stop offset="0.347" stop-color="#800000"/><stop offset="0.380" stop-color="#b83800"/><stop offset="0.408" stop-color="#ff8000"/><stop offset="0.426" stop-color="#ffbd3d"/><stop offset="0.442" stop-color="#ffff80"/><stop offset="0.457" stop-color="#ffffbd"/><stop offset="0.468" stop-color="#ffffe5"/><stop offset="0.480" stop-color="#ffffff"/><stop offset="0.487" stop-color="#ffffff"/><stop offset="0.496" stop-color="#ffffe5"/><stop offset="0.506" stop-color="#ffffbd"/><stop offset="0.521" stop-color="#ffff80"/><stop offset="0.538" stop-color="#ffbd3d"/><stop offset="0.556" stop-color="#ff8000"/><stop offset="0.586" stop-color="#b83800"/><stop offset="0.624" stop-color="#800000"/><stop offset="0.686" stop-color="#4c0000"/><stop offset="0.746" stop-color="#330000"/><stop offset="0.784" stop-color="#290000"/><stop offset="0.838" stop-color="#1f0000"/><stop offset="0.899" stop-color="#170000"/><stop offset="0.994" stop-color="#0f0000"/><stop offset="1.000" stop-color="#0f0000"/></linearGradient><linearGradient id="h47" x1="0" y1="0" x2="0" y2="1"><stop offset="0.000" stop-color="#0a0000"/><stop offset="0.053" stop-color="#0f0000"/><stop offset="0.105" stop-color="#170000"/><stop offset="0.144" stop-color="#1f0000"/><stop offset="0.183" stop-color="#290000"/><stop offset="0.212" stop-color="#330000"/><stop offset="0.264" stop-color="#4c0000"/><stop offset="0.323" stop-color="#800000"/><stop offset="0.360" stop-color="#b83800"/><stop offset="0.392" stop-color="#ff8000"/><stop offset="0.412" stop-color="#ffbd3d"/><stop offset="0.431" stop-color="#ffff80"/><stop offset="0.447" stop-color="#ffffbd"/><stop offset="0.461" stop-color="#ffffe5"/><stop offset="0.474" stop-color="#ffffff"/><stop offset="0.481" stop-color="#ffffff"/><stop offset="0.490" stop-color="#ffffe5"/><stop offset="0.500" stop-color="#ffffbd"/><stop offset="0.515" stop-color="#ffff80"/><stop offset="0.532" stop-color="#ffbd3d"/><stop offset="0.551" stop-color="#ff8000"/><stop offset="0.581" stop-color="#b83800"/><stop offset="0.618" stop-color="#800000"/><stop offset="0.681" stop-color="#4c0000"/><stop offset="0.742" stop-color="#330000"/><stop offset="0.780" stop-color="#290000"/><stop offset="0.834" stop-color="#1f0000"/><stop offset="0.895" stop-color="#170000"/><stop offset="0.991" stop-color="#0f0000"/><stop offset="1.000" stop-color="#0f0000"/></linearGradient><linearGradient id="h48" x1="0" y1="0" x2="0" y2="1"><stop offset="0.000" stop-color="#060000"/><stop offset="0.085" stop-color="#0f0000"/><stop offset="0.132" stop-color="#170000"/><stop offset="0.167" stop-color="#1f0000"/><stop offset="0.202" stop-color="#290000"/><stop offset="0.229" stop-color="#330000"/><stop offset="0.276" stop-color="#4c0000"/><stop offset="0.330" stop-color="#800000"/><stop offset="0.364" stop-color="#b83800"/><stop offset="0.393" stop-color="#ff8000"/><stop offset="0.411" stop-color="#ffbd3d"/><stop offset="0.429" stop-color="#ffff80"/><stop offset="0.444" stop-color="#ffffbd"/><stop offset="0.456" stop-color="#ffffe5"/><stop offset="0.468" stop-color="#ffffff"/><stop offset="0.474" stop-color="#ffffff"/><stop offset="0.483" stop-color="#ffffe5"/><stop offset="0.493" stop-color="#ffffbd"/><stop offset="0.507" stop-color="#ffff80"/><stop offset="0.523" stop-color="#ffbd3d"/><stop offset="0.541" stop-color="#ff8000"/><stop offset="0.570" stop-color="#b83800"/><stop offset="0.606" stop-color="#800000"/><stop offset="0.667" stop-color="#4c0000"/><stop offset="0.725" stop-color="#330000"/><stop offset="0.761" stop-color="#290000"/><stop offset="0.814" stop-color="#1f0000"/><stop offset="0.872" stop-color="#170000"/><stop offset="0.964" stop-color="#0f0000"/><stop offset="1.000" stop-color="#0d0000"/></linearGradient><linearGradient id="h49" x1="0" y1="0" x2="0" y2="1"><stop offset="0.000" stop-color="#050000"/><stop offset="0.012" stop-color="#060000"/><stop offset="0.094" stop-color="#0f0000"/><stop offset="0.139" stop-color="#170000"/><stop offset="0.173" stop-color="#1f0000"/><stop offset="0.207" stop-color="#290000"/><stop offset="0.233" stop-color="#330000"/><stop offset="0.278" stop-color="#4c0000"/><stop offset="0.329" stop-color="#800000"/><stop offset="0.362" stop-color="#b83800"/><stop offset="0.390" stop-color="#ff8000"/><stop offset="0.408" stop-color="#ffbd3d"/><stop offset="0.424" stop-color="#ffff80"/><stop offset="0.438" stop-color="#ffffbd"/><stop offset="0.450" stop-color="#ffffe5"/><stop offset="0.461" stop-color="#ffffff"/><stop offset="0.468" stop-color="#ffffff"/><stop offset="0.476" stop-color="#ffffe5"/><stop offset="0.486" stop-color="#ffffbd"/><stop offset="0.499" stop-color="#ffff80"/><stop offset="0.514" stop-color="#ffbd3d"/><stop offset="0.531" stop-color="#ff8000"/><stop offset="0.559" stop-color="#b83800"/><stop offset="0.593" stop-color="#800000"/><stop offset="0.649" stop-color="#4c0000"/><stop offset="0.705" stop-color="#330000"/><stop offset="0.739" stop-color="#290000"/><stop offset="0.789" stop-color="#1f0000"/><stop offset="0.844" stop-color="#170000"/><stop offset="0.931" stop-color="#0f0000"/><stop offset="1.000" stop-color="#0b0000"/></linearGradient><linearGradient id="h50" x1="0" y1="0" x2="0" y2="1"><stop offset="0.000" stop-color="#090000"/><stop offset="0.058" stop-color="#0f0000"/><stop offset="0.107" stop-color="#170000"/><stop offset="0.143" stop-color="#1f0000"/><stop offset="0.180" stop-color="#290000"/><stop offset="0.208" stop-color="#330000"/><stop offset="0.257" stop-color="#4c0000"/><stop offset="0.312" stop-color="#800000"/><stop offset="0.348" stop-color="#b83800"/><stop offset="0.378" stop-color="#ff8000"/><stop offset="0.397" stop-color="#ffbd3d"/><stop offset="0.415" stop-color="#ffff80"/><stop offset="0.430" stop-color="#ffffbd"/><stop offset="0.443" stop-color="#ffffe5"/><stop offset="0.455" stop-color="#ffffff"/><stop offset="0.461" stop-color="#ffffff"/><stop offset="0.469" stop-color="#ffffe5"/><stop offset="0.479" stop-color="#ffffbd"/><stop offset="0.492" stop-color="#ffff80"/><stop offset="0.507" stop-color="#ffbd3d"/><stop offset="0.524" stop-color="#ff8000"/><stop offset="0.551" stop-color="#b83800"/><stop offset="0.584" stop-color="#800000"/><stop offset="0.640" stop-color="#4c0000"/><stop offset="0.694" stop-color="#330000"/><stop offset="0.728" stop-color="#290000"/><stop offset="0.777" stop-color="#1f0000"/><stop offset="0.831" stop-color="#170000"/><stop offset="0.917" stop-color="#0f0000"/><stop offset="1.000" stop-color="#0b0000"/></linearGradient><linearGradient id="h51" x1="0" y1="0" x2="0" y2="1"><stop offset="0.000" stop-color="#080000"/><stop offset="0.066" stop-color="#0f0000"/><stop offset="0.113" stop-color="#170000"/><stop offset="0.148" stop-color="#1f0000"/><stop offset="0.184" stop-color="#290000"/><stop offset="0.211" stop-color="#330000"/><stop offset="0.258" stop-color="#4c0000"/><stop offset="0.311" stop-color="#800000"/><stop offset="0.346" stop-color="#b83800"/><stop offset="0.374" stop-color="#ff8000"/><stop offset="0.393" stop-color="#ffbd3d"/><stop offset="0.410" stop-color="#ffff80"/><stop offset="0.425" stop-color="#ffffbd"/><stop offset="0.437" stop-color="#ffffe5"/><stop offset="0.449" stop-color="#ffffff"/><stop offset="0.455" stop-color="#ffffff"/><stop offset="0.463" stop-color="#ffffe5"/><stop offset="0.473" stop-color="#ffffbd"/><stop offset="0.486" stop-color="#ffff80"/><stop offset="0.502" stop-color="#ffbd3d"/><stop offset="0.519" stop-color="#ff8000"/><stop offset="0.546" stop-color="#b83800"/><stop offset="0.580" stop-color="#800000"/><stop offset="0.637" stop-color="#4c0000"/><stop offset="0.692" stop-color="#330000"/><stop offset="0.726" stop-color="#290000"/><stop offset="0.775" stop-color="#1f0000"/><stop offset="0.830" stop-color="#170000"/><stop offset="0.917" stop-color="#0f0000"/><stop offset="1.000" stop-color="#0b0000"/></linearGradient><linearGradient id="h52" x1="0" y1="0" x2="0" y2="1"><stop offset="0.000" stop-color="#060000"/><stop offset="0.003" stop-color="#060000"/><stop offset="0.083" stop-color="#0f0000"/><stop offset="0.128" stop-color="#170000"/><stop offset="0.161" stop-color="#1f0000"/><stop offset="0.194" stop-color="#290000"/><stop offset="0.219" stop-color="#330000"/><stop offset="0.263" stop-color="#4c0000"/><stop offset="0.314" stop-color="#800000"/><stop offset="0.346" stop-color="#b83800"/><stop offset="0.373" stop-color="#ff8000"/><stop offset="0.390" stop-color="#ffbd3d"/><stop offset="0.406" stop-color="#ffff80"/><stop offset="0.420" stop-color="#ffffbd"/><stop offset="0.432" stop-color="#ffffe5"/><stop offset="0.443" stop-color="#ffffff"/><stop offset="0.449" stop-color="#ffffff"/><stop offset="0.457" stop-color="#ffffe5"/><stop offset="0.467" stop-color="#ffffbd"/><stop offset="0.480" stop-color="#ffff80"/><stop offset="0.495" stop-color="#ffbd3d"/><stop offset="0.512" stop-color="#ff8000"/><stop offset="0.540" stop-color="#b83800"/><stop offset="0.573" stop-color="#800000"/><stop offset="0.630" stop-color="#4c0000"/><stop offset="0.685" stop-color="#330000"/><stop offset="0.719" stop-color="#290000"/><stop offset="0.769" stop-color="#1f0000"/><stop offset="0.823" stop-color="#170000"/><stop offset="0.910" stop-color="#0f0000"/><stop offset="1.000" stop-color="#0a0000"/></linearGradient><linearGradient id="h53" x1="0" y1="0" x2="0" y2="1"><stop offset="0.000" stop-color="#060000"/><stop offset="0.004" stop-color="#060000"/><stop offset="0.083" stop-color="#0f0000"/><stop offset="0.127" stop-color="#170000"/><stop offset="0.160" stop-color="#1f0000"/><stop offset="0.193" stop-color="#290000"/><stop offset="0.218" stop-color="#330000"/><stop offset="0.261" stop-color="#4c0000"/><stop offset="0.311" stop-color="#800000"/><stop offset="0.343" stop-color="#b83800"/><stop offset="0.370" stop-color="#ff8000"/><stop offset="0.387" stop-color="#ffbd3d"/><stop offset="0.403" stop-color="#ffff80"/><stop offset="0.417" stop-color="#ffffbd"/><stop offset="0.428" stop-color="#ffffe5"/><stop offset="0.439" stop-color="#ffffff"/><stop offset="0.445" stop-color="#ffffff"/><stop offset="0.452" stop-color="#ffffe5"/><stop offset="0.461" stop-color="#ffffbd"/><stop offset="0.474" stop-color="#ffff80"/><stop offset="0.488" stop-color="#ffbd3d"/><stop offset="0.504" stop-color="#ff8000"/><stop offset="0.529" stop-color="#b83800"/><stop offset="0.561" stop-color="#800000"/><stop offset="0.614" stop-color="#4c0000"/><stop offset="0.665" stop-color="#330000"/><stop offset="0.697" stop-color="#290000"/><stop offset="0.743" stop-color="#1f0000"/><stop offset="0.794" stop-color="#170000"/><stop offset="0.875" stop-color="#0f0000"/><stop offset="1.000" stop-color="#090000"/></linearGradient><linearGradient id="h54" x1="0" y1="0" x2="0" y2="1"><stop offset="0.000" stop-color="#050000"/><stop offset="0.013" stop-color="#060000"/><stop offset="0.090" stop-color="#0f0000"/><stop offset="0.133" stop-color="#170000"/><stop offset="0.164" stop-color="#1f0000"/><stop offset="0.196" stop-color="#290000"/><stop offset="0.221" stop-color="#330000"/><stop offset="0.263" stop-color="#4c0000"/><stop offset="0.311" stop-color="#800000"/><stop offset="0.342" stop-color="#b83800"/><stop offset="0.368" stop-color="#ff8000"/><stop offset="0.385" stop-color="#ffbd3d"/><stop offset="0.400" stop-color="#ffff80"/><stop offset="0.414" stop-color="#ffffbd"/><stop offset="0.425" stop-color="#ffffe5"/><stop offset="0.435" stop-color="#ffffff"/><stop offset="0.441" stop-color="#ffffff"/><stop offset="0.448" stop-color="#ffffe5"/><stop offset="0.457" stop-color="#ffffbd"/><stop offset="0.469" stop-color="#ffff80"/><stop offset="0.483" stop-color="#ffbd3d"/><stop offset="0.499" stop-color="#ff8000"/><stop offset="0.523" stop-color="#b83800"/><stop offset="0.554" stop-color="#800000"/><stop offset="0.606" stop-color="#4c0000"/><stop offset="0.655" stop-color="#330000"/><stop offset="0.687" stop-color="#290000"/><stop offset="0.732" stop-color="#1f0000"/><stop offset="0.781" stop-color="#170000"/><stop offset="0.860" stop-color="#0f0000"/><stop offset="1.000" stop-color="#080000"/></linearGradient><linearGradient id="h55" x1="0" y1="0" x2="0" y2="1"><stop offset="0.000" stop-color="#030000"/><stop offset="0.039" stop-color="#060000"/><stop offset="0.111" stop-color="#0f0000"/><stop offset="0.150" stop-color="#170000"/><stop offset="0.180" stop-color="#1f0000"/><stop offset="0.209" stop-color="#290000"/><stop offset="0.232" stop-color="#330000"/><stop offset="0.271" stop-color="#4c0000"/><stop offset="0.316" stop-color="#800000"/><stop offset="0.345" stop-color="#b83800"/><stop offset="0.369" stop-color="#ff8000"/><stop offset="0.385" stop-color="#ffbd3d"/><stop offset="0.399" stop-color="#ffff80"/><stop offset="0.412" stop-color="#ffffbd"/><stop offset="0.422" stop-color="#ffffe5"/><stop offset="0.432" stop-color="#ffffff"/><stop offset="0.437" stop-color="#ffffff"/><stop offset="0.445" stop-color="#ffffe5"/><stop offset="0.454" stop-color="#ffffbd"/><stop offset="0.467" stop-color="#ffff80"/><stop offset="0.481" stop-color="#ffbd3d"/><stop offset="0.498" stop-color="#ff8000"/><stop offset="0.523" stop-color="#b83800"/><stop offset="0.555" stop-color="#800000"/><stop offset="0.609" stop-color="#4c0000"/><stop offset="0.661" stop-color="#330000"/><stop offset="0.694" stop-color="#290000"/><stop offset="0.740" stop-color="#1f0000"/><stop offset="0.792" stop-color="#170000"/><stop offset="0.874" stop-color="#0f0000"/><stop offset="1.000" stop-color="#090000"/></linearGradient><linearGradient id="h56" x1="0" y1="0" x2="0" y2="1"><stop offset="0.000" stop-color="#020000"/><stop offset="0.044" stop-color="#060000"/><stop offset="0.114" stop-color="#0f0000"/><stop offset="0.153" stop-color="#170000"/><stop offset="0.182" stop-color="#1f0000"/><stop offset="0.211" stop-color="#290000"/><stop offset="0.233" stop-color="#330000"/><stop offset="0.271" stop-color="#4c0000"/><stop offset="0.315" stop-color="#800000"/><stop offset="0.343" stop-color="#b83800"/><stop offset="0.367" stop-color="#ff8000"/><stop offset="0.382" stop-color="#ffbd3d"/><stop offset="0.396" stop-color="#ffff80"/><stop offset="0.409" stop-color="#ffffbd"/><stop offset="0.419" stop-color="#ffffe5"/><stop offset="0.428" stop-color="#ffffff"/><stop offset="0.434" stop-color="#ffffff"/><stop offset="0.441" stop-color="#ffffe5"/><stop offset="0.450" stop-color="#ffffbd"/><stop offset="0.462" stop-color="#ffff80"/><stop offset="0.476" stop-color="#ffbd3d"/><stop offset="0.491" stop-color="#ff8000"/><stop offset="0.516" stop-color="#b83800"/><stop offset="0.546" stop-color="#800000"/><stop offset="0.598" stop-color="#4c0000"/><stop offset="0.648" stop-color="#330000"/><stop offset="0.679" stop-color="#290000"/><stop offset="0.724" stop-color="#1f0000"/><stop offset="0.773" stop-color="#170000"/><stop offset="0.852" stop-color="#0f0000"/><stop offset="1.000" stop-color="#080000"/></linearGradient><linearGradient id="h57" x1="0" y1="0" x2="0" y2="1"><stop offset="0.000" stop-color="#050000"/><stop offset="0.008" stop-color="#060000"/><stop offset="0.084" stop-color="#0f0000"/><stop offset="0.126" stop-color="#170000"/><stop offset="0.157" stop-color="#1f0000"/><stop offset="0.189" stop-color="#290000"/><stop offset="0.213" stop-color="#330000"/><stop offset="0.255" stop-color="#4c0000"/><stop offset="0.302" stop-color="#800000"/><stop offset="0.333" stop-color="#b83800"/><stop offset="0.358" stop-color="#ff8000"/><stop offset="0.375" stop-color="#ffbd3d"/><stop offset="0.390" stop-color="#ffff80"/><stop offset="0.403" stop-color="#ffffbd"/><stop offset="0.414" stop-color="#ffffe5"/><stop offset="0.424" stop-color="#ffffff"/><stop offset="0.430" stop-color="#ffffff"/><stop offset="0.437" stop-color="#ffffe5"/><stop offset="0.446" stop-color="#ffffbd"/><stop offset="0.458" stop-color="#ffff80"/><stop offset="0.471" stop-color="#ffbd3d"/><stop offset="0.487" stop-color="#ff8000"/><stop offset="0.511" stop-color="#b83800"/><stop offset="0.541" stop-color="#800000"/><stop offset="0.592" stop-color="#4c0000"/><stop offset="0.641" stop-color="#330000"/><stop offset="0.672" stop-color="#290000"/><stop offset="0.716" stop-color="#1f0000"/><stop offset="0.766" stop-color="#170000"/><stop offset="0.843" stop-color="#0f0000"/><stop offset="1.000" stop-color="#070000"/></linearGradient><linearGradient id="h58" x1="0" y1="0" x2="0" y2="1"><stop offset="0.000" stop-color="#080000"/><stop offset="0.056" stop-color="#0f0000"/><stop offset="0.101" stop-color="#170000"/><stop offset="0.135" stop-color="#1f0000"/><stop offset="0.168" stop-color="#290000"/><stop offset="0.194" stop-color="#330000"/><stop offset="0.239" stop-color="#4c0000"/><stop offset="0.290" stop-color="#800000"/><stop offset="0.322" stop-color="#b83800"/><stop offset="0.350" stop-color="#ff8000"/><stop offset="0.367" stop-color="#ffbd3d"/><stop offset="0.384" stop-color="#ffff80"/><stop offset="0.398" stop-color="#ffffbd"/><stop offset="0.410" stop-color="#ffffe5"/><stop offset="0.421" stop-color="#ffffff"/><stop offset="0.427" stop-color="#ffffff"/><stop offset="0.435" stop-color="#ffffe5"/><stop offset="0.444" stop-color="#ffffbd"/><stop offset="0.457" stop-color="#ffff80"/><stop offset="0.471" stop-color="#ffbd3d"/><stop offset="0.488" stop-color="#ff8000"/><stop offset="0.514" stop-color="#b83800"/><stop offset="0.547" stop-color="#800000"/><stop offset="0.602" stop-color="#4c0000"/><stop offset="0.654" stop-color="#330000"/><stop offset="0.688" stop-color="#290000"/><stop offset="0.735" stop-color="#1f0000"/><stop offset="0.788" stop-color="#170000"/><stop offset="0.872" stop-color="#0f0000"/><stop offset="1.000" stop-color="#090000"/></linearGradient><linearGradient id="h59" x1="0" y1="0" x2="0" y2="1"><stop offset="0.000" stop-color="#090000"/><stop offset="0.048" stop-color="#0f0000"/><stop offset="0.094" stop-color="#170000"/><stop offset="0.127" stop-color="#1f0000"/><stop offset="0.161" stop-color="#290000"/><stop offset="0.187" stop-color="#330000"/><stop offset="0.233" stop-color="#4c0000"/><stop offset="0.284" stop-color="#800000"/><stop offset="0.317" stop-color="#b83800"/><stop offset="0.345" stop-color="#ff8000"/><stop offset="0.363" stop-color="#ffbd3d"/><stop offset="0.379" stop-color="#ffff80"/><stop offset="0.394" stop-color="#ffffbd"/><stop offset="0.406" stop-color="#ffffe5"/><stop offset="0.417" stop-color="#ffffff"/><stop offset="0.423" stop-color="#ffffff"/><stop offset="0.431" stop-color="#ffffe5"/><stop offset="0.441" stop-color="#ffffbd"/><stop offset="0.454" stop-color="#ffff80"/><stop offset="0.469" stop-color="#ffbd3d"/><stop offset="0.486" stop-color="#ff8000"/><stop offset="0.513" stop-color="#b83800"/><stop offset="0.547" stop-color="#800000"/><stop offset="0.603" stop-color="#4c0000"/><stop offset="0.658" stop-color="#330000"/><stop offset="0.692" stop-color="#290000"/><stop offset="0.741" stop-color="#1f0000"/><stop offset="0.796" stop-color="#170000"/><stop offset="0.882" stop-color="#0f0000"/><stop offset="1.000" stop-color="#090000"/></linearGradient><linearGradient id="h60" x1="0" y1="0" x2="0" y2="1"><stop offset="0.000" stop-color="#050000"/><stop offset="0.014" stop-color="#060000"/><stop offset="0.087" stop-color="#0f0000"/><stop offset="0.127" stop-color="#170000"/><stop offset="0.157" stop-color="#1f0000"/><stop offset="0.187" stop-color="#290000"/><stop offset="0.210" stop-color="#330000"/><stop offset="0.250" stop-color="#4c0000"/><stop offset="0.296" stop-color="#800000"/><stop offset="0.325" stop-color="#b83800"/><stop offset="0.350" stop-color="#ff8000"/><stop offset="0.366" stop-color="#ffbd3d"/><stop offset="0.380" stop-color="#ffff80"/><stop offset="0.393" stop-color="#ffffbd"/><stop offset="0.403" stop-color="#ffffe5"/><stop offset="0.413" stop-color="#ffffff"/><stop offset="0.419" stop-color="#ffffff"/><stop offset="0.427" stop-color="#ffffe5"/><stop offset="0.437" stop-color="#ffffbd"/><stop offset="0.450" stop-color="#ffff80"/><stop offset="0.466" stop-color="#ffbd3d"/><stop offset="0.483" stop-color="#ff8000"/><stop offset="0.510" stop-color="#b83800"/><stop offset="0.544" stop-color="#800000"/><stop offset="0.601" stop-color="#4c0000"/><stop offset="0.655" stop-color="#330000"/><stop offset="0.690" stop-color="#290000"/><stop offset="0.739" stop-color="#1f0000"/><stop offset="0.794" stop-color="#170000"/><stop offset="0.881" stop-color="#0f0000"/><stop offset="1.000" stop-color="#090000"/></linearGradient><linearGradient id="h61" x1="0" y1="0" x2="0" y2="1"><stop offset="0.000" stop-color="#010000"/><stop offset="0.054" stop-color="#060000"/><stop offset="0.119" stop-color="#0f0000"/><stop offset="0.155" stop-color="#170000"/><stop offset="0.181" stop-color="#1f0000"/><stop offset="0.208" stop-color="#290000"/><stop offset="0.229" stop-color="#330000"/><stop offset="0.264" stop-color="#4c0000"/><stop offset="0.305" stop-color="#800000"/><stop offset="0.331" stop-color="#b83800"/><stop offset="0.353" stop-color="#ff8000"/><stop offset="0.367" stop-color="#ffbd3d"/><stop offset="0.380" stop-color="#ffff80"/><stop offset="0.392" stop-color="#ffffbd"/><stop offset="0.401" stop-color="#ffffe5"/><stop offset="0.410" stop-color="#ffffff"/><stop offset="0.415" stop-color="#ffffff"/><stop offset="0.423" stop-color="#ffffe5"/><stop offset="0.433" stop-color="#ffffbd"/><stop offset="0.445" stop-color="#ffff80"/><stop offset="0.460" stop-color="#ffbd3d"/><stop offset="0.476" stop-color="#ff8000"/><stop offset="0.503" stop-color="#b83800"/><stop offset="0.535" stop-color="#800000"/><stop offset="0.590" stop-color="#4c0000"/><stop offset="0.643" stop-color="#330000"/><stop offset="0.676" stop-color="#290000"/><stop offset="0.723" stop-color="#1f0000"/><stop offset="0.776" stop-color="#170000"/><stop offset="0.859" stop-color="#0f0000"/><stop offset="1.000" stop-color="#080000"/></linearGradient><linearGradient id="h62" x1="0" y1="0" x2="0" y2="1"><stop offset="0.000" stop-color="#070000"/><stop offset="0.068" stop-color="#0f0000"/><stop offset="0.110" stop-color="#170000"/><stop offset="0.141" stop-color="#1f0000"/><stop offset="0.172" stop-color="#290000"/><stop offset="0.196" stop-color="#330000"/><stop offset="0.237" stop-color="#4c0000"/><stop offset="0.284" stop-color="#800000"/><stop offset="0.315" stop-color="#b83800"/><stop offset="0.340" stop-color="#ff8000"/><stop offset="0.356" stop-color="#ffbd3d"/><stop offset="0.371" stop-color="#ffff80"/><stop offset="0.385" stop-color="#ffffbd"/><stop offset="0.396" stop-color="#ffffe5"/><stop offset="0.406" stop-color="#ffffff"/><stop offset="0.411" stop-color="#ffffff"/><stop offset="0.419" stop-color="#ffffe5"/><stop offset="0.427" stop-color="#ffffbd"/><stop offset="0.439" stop-color="#ffff80"/><stop offset="0.453" stop-color="#ffbd3d"/><stop offset="0.469" stop-color="#ff8000"/><stop offset="0.493" stop-color="#b83800"/><stop offset="0.524" stop-color="#800000"/><stop offset="0.575" stop-color="#4c0000"/><stop offset="0.625" stop-color="#330000"/><stop offset="0.656" stop-color="#290000"/><stop offset="0.700" stop-color="#1f0000"/><stop offset="0.750" stop-color="#170000"/><stop offset="0.828" stop-color="#0f0000"/><stop offset="1.000" stop-color="#070000"/></linearGradient><linearGradient id="h63" x1="0" y1="0" x2="0" y2="1"><stop offset="0.000" stop-color="#0c0000"/><stop offset="0.024" stop-color="#0f0000"/><stop offset="0.071" stop-color="#170000"/><stop offset="0.105" stop-color="#1f0000"/><stop offset="0.140" stop-color="#290000"/><stop offset="0.167" stop-color="#330000"/><stop offset="0.213" stop-color="#4c0000"/><stop offset="0.266" stop-color="#800000"/><stop offset="0.300" stop-color="#b83800"/><stop offset="0.328" stop-color="#ff8000"/><stop offset="0.347" stop-color="#ffbd3d"/><stop offset="0.364" stop-color="#ffff80"/><stop offset="0.379" stop-color="#ffffbd"/><stop offset="0.391" stop-color="#ffffe5"/><stop offset="0.402" stop-color="#ffffff"/><stop offset="0.407" stop-color="#ffffff"/><stop offset="0.415" stop-color="#ffffe5"/><stop offset="0.423" stop-color="#ffffbd"/><stop offset="0.435" stop-color="#ffff80"/><stop offset="0.449" stop-color="#ffbd3d"/><stop offset="0.464" stop-color="#ff8000"/><stop offset="0.489" stop-color="#b83800"/><stop offset="0.519" stop-color="#800000"/><stop offset="0.570" stop-color="#4c0000"/><stop offset="0.620" stop-color="#330000"/><stop offset="0.651" stop-color="#290000"/><stop offset="0.695" stop-color="#1f0000"/><stop offset="0.744" stop-color="#170000"/><stop offset="0.822" stop-color="#0f0000"/><stop offset="1.000" stop-color="#070000"/></linearGradient><linearGradient id="h64" x1="0" y1="0" x2="0" y2="1"><stop offset="0.000" stop-color="#080000"/><stop offset="0.057" stop-color="#0f0000"/><stop offset="0.099" stop-color="#170000"/><stop offset="0.130" stop-color="#1f0000"/><stop offset="0.162" stop-color="#290000"/><stop offset="0.186" stop-color="#330000"/><stop offset="0.228" stop-color="#4c0000"/><stop offset="0.275" stop-color="#800000"/><stop offset="0.306" stop-color="#b83800"/><stop offset="0.332" stop-color="#ff8000"/><stop offset="0.348" stop-color="#ffbd3d"/><stop offset="0.363" stop-color="#ffff80"/><stop offset="0.377" stop-color="#ffffbd"/><stop offset="0.388" stop-color="#ffffe5"/><stop offset="0.398" stop-color="#ffffff"/><stop offset="0.404" stop-color="#ffffff"/><stop offset="0.411" stop-color="#ffffe5"/><stop offset="0.420" stop-color="#ffffbd"/><stop offset="0.433" stop-color="#ffff80"/><stop offset="0.447" stop-color="#ffbd3d"/><stop offset="0.463" stop-color="#ff8000"/><stop offset="0.489" stop-color="#b83800"/><stop offset="0.520" stop-color="#800000"/><stop offset="0.573" stop-color="#4c0000"/><stop offset="0.624" stop-color="#330000"/><stop offset="0.657" stop-color="#290000"/><stop offset="0.703" stop-color="#1f0000"/><stop offset="0.754" stop-color="#170000"/><stop offset="0.835" stop-color="#0f0000"/><stop offset="1.000" stop-color="#070000"/></linearGradient><linearGradient id="h65" x1="0" y1="0" x2="0" y2="1"><stop offset="0.000" stop-color="#040000"/><stop offset="0.027" stop-color="#060000"/><stop offset="0.093" stop-color="#0f0000"/><stop offset="0.130" stop-color="#170000"/><stop offset="0.158" stop-color="#1f0000"/><stop offset="0.185" stop-color="#290000"/><stop offset="0.207" stop-color="#330000"/><stop offset="0.243" stop-color="#4c0000"/><stop offset="0.285" stop-color="#800000"/><stop offset="0.312" stop-color="#b83800"/><stop offset="0.334" stop-color="#ff8000"/><stop offset="0.349" stop-color="#ffbd3d"/><stop offset="0.362" stop-color="#ffff80"/><stop offset="0.374" stop-color="#ffffbd"/><stop offset="0.384" stop-color="#ffffe5"/><stop offset="0.393" stop-color="#ffffff"/><stop offset="0.398" stop-color="#ffffff"/><stop offset="0.406" stop-color="#ffffe5"/><stop offset="0.415" stop-color="#ffffbd"/><stop offset="0.428" stop-color="#ffff80"/><stop offset="0.442" stop-color="#ffbd3d"/><stop offset="0.458" stop-color="#ff8000"/><stop offset="0.484" stop-color="#b83800"/><stop offset="0.516" stop-color="#800000"/><stop offset="0.570" stop-color="#4c0000"/><stop offset="0.622" stop-color="#330000"/><stop offset="0.655" stop-color="#290000"/><stop offset="0.701" stop-color="#1f0000"/><stop offset="0.753" stop-color="#170000"/><stop offset="0.835" stop-color="#0f0000"/><stop offset="1.000" stop-color="#070000"/></linearGradient><linearGradient id="h66" x1="0" y1="0" x2="0" y2="1"><stop offset="0.000" stop-color="#030000"/><stop offset="0.036" stop-color="#060000"/><stop offset="0.100" stop-color="#0f0000"/><stop offset="0.135" stop-color="#170000"/><stop offset="0.162" stop-color="#1f0000"/><stop offset="0.188" stop-color="#290000"/><stop offset="0.208" stop-color="#330000"/><stop offset="0.244" stop-color="#4c0000"/><stop offset="0.284" stop-color="#800000"/><stop offset="0.309" stop-color="#b83800"/><stop offset="0.331" stop-color="#ff8000"/><stop offset="0.345" stop-color="#ffbd3d"/><stop offset="0.358" stop-color="#ffff80"/><stop offset="0.369" stop-color="#ffffbd"/><stop offset="0.378" stop-color="#ffffe5"/><stop offset="0.387" stop-color="#ffffff"/><stop offset="0.392" stop-color="#ffffff"/><stop offset="0.400" stop-color="#ffffe5"/><stop offset="0.409" stop-color="#ffffbd"/><stop offset="0.422" stop-color="#ffff80"/><stop offset="0.436" stop-color="#ffbd3d"/><stop offset="0.452" stop-color="#ff8000"/><stop offset="0.477" stop-color="#b83800"/><stop offset="0.509" stop-color="#800000"/><stop offset="0.562" stop-color="#4c0000"/><stop offset="0.614" stop-color="#330000"/><stop offset="0.646" stop-color="#290000"/><stop offset="0.692" stop-color="#1f0000"/><stop offset="0.744" stop-color="#170000"/><stop offset="0.825" stop-color="#0f0000"/><stop offset="1.000" stop-color="#070000"/></linearGradient><linearGradient id="h67" x1="0" y1="0" x2="0" y2="1"><stop offset="0.000" stop-color="#040000"/><stop offset="0.020" stop-color="#060000"/><stop offset="0.086" stop-color="#0f0000"/><stop offset="0.122" stop-color="#170000"/><stop offset="0.149" stop-color="#1f0000"/><stop offset="0.177" stop-color="#290000"/><stop offset="0.197" stop-color="#330000"/><stop offset="0.234" stop-color="#4c0000"/><stop offset="0.275" stop-color="#800000"/><stop offset="0.301" stop-color="#b83800"/><stop offset="0.324" stop-color="#ff8000"/><stop offset="0.338" stop-color="#ffbd3d"/><stop offset="0.351" stop-color="#ffff80"/><stop offset="0.363" stop-color="#ffffbd"/><stop offset="0.372" stop-color="#ffffe5"/><stop offset="0.381" stop-color="#ffffff"/><stop offset="0.386" stop-color="#ffffff"/><stop offset="0.394" stop-color="#ffffe5"/><stop offset="0.403" stop-color="#ffffbd"/><stop offset="0.415" stop-color="#ffff80"/><stop offset="0.429" stop-color="#ffbd3d"/><stop offset="0.445" stop-color="#ff8000"/><stop offset="0.470" stop-color="#b83800"/><stop offset="0.501" stop-color="#800000"/><stop offset="0.553" stop-color="#4c0000"/><stop offset="0.603" stop-color="#330000"/><stop offset="0.635" stop-color="#290000"/><stop offset="0.680" stop-color="#1f0000"/><stop offset="0.730" stop-color="#170000"/><stop offset="0.810" stop-color="#0f0000"/><stop offset="1.000" stop-color="#060000"/></linearGradient><linearGradient id="h68" x1="0" y1="0" x2="0" y2="1"><stop offset="0.000" stop-color="#060000"/><stop offset="0.004" stop-color="#060000"/><stop offset="0.072" stop-color="#0f0000"/><stop offset="0.109" stop-color="#170000"/><stop offset="0.137" stop-color="#1f0000"/><stop offset="0.165" stop-color="#290000"/><stop offset="0.186" stop-color="#330000"/><stop offset="0.223" stop-color="#4c0000"/><stop offset="0.266" stop-color="#800000"/><stop offset="0.293" stop-color="#b83800"/><stop offset="0.316" stop-color="#ff8000"/><stop offset="0.331" stop-color="#ffbd3d"/><stop offset="0.344" stop-color="#ffff80"/><stop offset="0.356" stop-color="#ffffbd"/><stop offset="0.366" stop-color="#ffffe5"/><stop offset="0.375" stop-color="#ffffff"/><stop offset="0.380" stop-color="#ffffff"/><stop offset="0.388" stop-color="#ffffe5"/><stop offset="0.397" stop-color="#ffffbd"/><stop offset="0.409" stop-color="#ffff80"/><stop offset="0.422" stop-color="#ffbd3d"/><stop offset="0.438" stop-color="#ff8000"/><stop offset="0.463" stop-color="#b83800"/><stop offset="0.493" stop-color="#800000"/><stop offset="0.544" stop-color="#4c0000"/><stop offset="0.594" stop-color="#330000"/><stop offset="0.625" stop-color="#290000"/><stop offset="0.670" stop-color="#1f0000"/><stop offset="0.720" stop-color="#170000"/><stop offset="0.798" stop-color="#0f0000"/><stop offset="0.999" stop-color="#060000"/><stop offset="1.000" stop-color="#060000"/></linearGradient><linearGradient id="h69" x1="0" y1="0" x2="0" y2="1"><stop offset="0.000" stop-color="#090000"/><stop offset="0.046" stop-color="#0f0000"/><stop offset="0.086" stop-color="#170000"/><stop offset="0.116" stop-color="#1f0000"/><stop offset="0.145" stop-color="#290000"/><stop offset="0.168" stop-color="#330000"/><stop offset="0.208" stop-color="#4c0000"/><stop offset="0.253" stop-color="#800000"/><stop offset="0.282" stop-color="#b83800"/><stop offset="0.306" stop-color="#ff8000"/><stop offset="0.322" stop-color="#ffbd3d"/><stop offset="0.336" stop-color="#ffff80"/><stop offset="0.349" stop-color="#ffffbd"/><stop offset="0.360" stop-color="#ffffe5"/><stop offset="0.369" stop-color="#ffffff"/><stop offset="0.374" stop-color="#ffffff"/><stop offset="0.382" stop-color="#ffffe5"/><stop offset="0.391" stop-color="#ffffbd"/><stop offset="0.403" stop-color="#ffff80"/><stop offset="0.416" stop-color="#ffbd3d"/><stop offset="0.432" stop-color="#ff8000"/><stop offset="0.456" stop-color="#b83800"/><stop offset="0.487" stop-color="#800000"/><stop offset="0.538" stop-color="#4c0000"/><stop offset="0.588" stop-color="#330000"/><stop offset="0.619" stop-color="#290000"/><stop offset="0.664" stop-color="#1f0000"/><stop offset="0.713" stop-color="#170000"/><stop offset="0.791" stop-color="#0f0000"/><stop offset="0.992" stop-color="#060000"/><stop offset="1.000" stop-color="#060000"/></linearGradient><linearGradient id="h70" x1="0" y1="0" x2="0" y2="1"><stop offset="0.000" stop-color="#0e0000"/><stop offset="0.008" stop-color="#0f0000"/><stop offset="0.052" stop-color="#170000"/><stop offset="0.085" stop-color="#1f0000"/><stop offset="0.118" stop-color="#290000"/><stop offset="0.143" stop-color="#330000"/><stop offset="0.186" stop-color="#4c0000"/><stop offset="0.236" stop-color="#800000"/><stop offset="0.268" stop-color="#b83800"/><stop offset="0.294" stop-color="#ff8000"/><stop offset="0.311" stop-color="#ffbd3d"/><stop offset="0.327" stop-color="#ffff80"/><stop offset="0.341" stop-color="#ffffbd"/><stop offset="0.353" stop-color="#ffffe5"/><stop offset="0.363" stop-color="#ffffff"/><stop offset="0.368" stop-color="#ffffff"/><stop offset="0.376" stop-color="#ffffe5"/><stop offset="0.384" stop-color="#ffffbd"/><stop offset="0.396" stop-color="#ffff80"/><stop offset="0.410" stop-color="#ffbd3d"/><stop offset="0.425" stop-color="#ff8000"/><stop offset="0.449" stop-color="#b83800"/><stop offset="0.479" stop-color="#800000"/><stop offset="0.530" stop-color="#4c0000"/><stop offset="0.579" stop-color="#330000"/><stop offset="0.609" stop-color="#290000"/><stop offset="0.653" stop-color="#1f0000"/><stop offset="0.702" stop-color="#170000"/><stop offset="0.779" stop-color="#0f0000"/><stop offset="0.976" stop-color="#060000"/><stop offset="1.000" stop-color="#050000"/></linearGradient><linearGradient id="h71" x1="0" y1="0" x2="0" y2="1"><stop offset="0.000" stop-color="#0e0000"/><stop offset="0.012" stop-color="#0f0000"/><stop offset="0.055" stop-color="#170000"/><stop offset="0.086" stop-color="#1f0000"/><stop offset="0.119" stop-color="#290000"/><stop offset="0.143" stop-color="#330000"/><stop offset="0.186" stop-color="#4c0000"/><stop offset="0.234" stop-color="#800000"/><stop offset="0.265" stop-color="#b83800"/><stop offset="0.292" stop-color="#ff8000"/><stop offset="0.308" stop-color="#ffbd3d"/><stop offset="0.324" stop-color="#ffff80"/><stop offset="0.338" stop-color="#ffffbd"/><stop offset="0.349" stop-color="#ffffe5"/><stop offset="0.359" stop-color="#ffffff"/><stop offset="0.364" stop-color="#ffffff"/><stop offset="0.372" stop-color="#ffffe5"/><stop offset="0.381" stop-color="#ffffbd"/><stop offset="0.394" stop-color="#ffff80"/><stop offset="0.408" stop-color="#ffbd3d"/><stop offset="0.424" stop-color="#ff8000"/><stop offset="0.450" stop-color="#b83800"/><stop offset="0.482" stop-color="#800000"/><stop offset="0.535" stop-color="#4c0000"/><stop offset="0.586" stop-color="#330000"/><stop offset="0.619" stop-color="#290000"/><stop offset="0.665" stop-color="#1f0000"/><stop offset="0.717" stop-color="#170000"/><stop offset="0.798" stop-color="#0f0000"/><stop offset="1.000" stop-color="#060000"/></linearGradient><linearGradient id="h72" x1="0" y1="0" x2="0" y2="1"><stop offset="0.000" stop-color="#0e0000"/><stop offset="0.006" stop-color="#0f0000"/><stop offset="0.049" stop-color="#170000"/><stop offset="0.081" stop-color="#1f0000"/><stop offset="0.113" stop-color="#290000"/><stop offset="0.138" stop-color="#330000"/><stop offset="0.181" stop-color="#4c0000"/><stop offset="0.230" stop-color="#800000"/><stop offset="0.261" stop-color="#b83800"/><stop offset="0.287" stop-color="#ff8000"/><stop offset="0.304" stop-color="#ffbd3d"/><stop offset="0.320" stop-color="#ffff80"/><stop offset="0.334" stop-color="#ffffbd"/><stop offset="0.345" stop-color="#ffffe5"/><stop offset="0.355" stop-color="#ffffff"/><stop offset="0.361" stop-color="#ffffff"/><stop offset="0.370" stop-color="#ffffe5"/><stop offset="0.380" stop-color="#ffffbd"/><stop offset="0.393" stop-color="#ffff80"/><stop offset="0.409" stop-color="#ffbd3d"/><stop offset="0.426" stop-color="#ff8000"/><stop offset="0.454" stop-color="#b83800"/><stop offset="0.489" stop-color="#800000"/><stop offset="0.547" stop-color="#4c0000"/><stop offset="0.603" stop-color="#330000"/><stop offset="0.638" stop-color="#290000"/><stop offset="0.688" stop-color="#1f0000"/><stop offset="0.744" stop-color="#170000"/><stop offset="0.833" stop-color="#0f0000"/><stop offset="1.000" stop-color="#080000"/></linearGradient><linearGradient id="h73" x1="0" y1="0" x2="0" y2="1"><stop offset="0.000" stop-color="#140000"/><stop offset="0.014" stop-color="#170000"/><stop offset="0.050" stop-color="#1f0000"/><stop offset="0.085" stop-color="#290000"/><stop offset="0.112" stop-color="#330000"/><stop offset="0.160" stop-color="#4c0000"/><stop offset="0.213" stop-color="#800000"/><stop offset="0.248" stop-color="#b83800"/><stop offset="0.277" stop-color="#ff8000"/><stop offset="0.295" stop-color="#ffbd3d"/><stop offset="0.313" stop-color="#ffff80"/><stop offset="0.328" stop-color="#ffffbd"/><stop offset="0.340" stop-color="#ffffe5"/><stop offset="0.352" stop-color="#ffffff"/><stop offset="0.357" stop-color="#ffffff"/><stop offset="0.367" stop-color="#ffffe5"/><stop offset="0.377" stop-color="#ffffbd"/><stop offset="0.391" stop-color="#ffff80"/><stop offset="0.408" stop-color="#ffbd3d"/><stop offset="0.426" stop-color="#ff8000"/><stop offset="0.455" stop-color="#b83800"/><stop offset="0.491" stop-color="#800000"/><stop offset="0.552" stop-color="#4c0000"/><stop offset="0.610" stop-color="#330000"/><stop offset="0.647" stop-color="#290000"/><stop offset="0.700" stop-color="#1f0000"/><stop offset="0.759" stop-color="#170000"/><stop offset="0.851" stop-color="#0f0000"/><stop offset="1.000" stop-color="#090000"/></linearGradient><linearGradient id="h74" x1="0" y1="0" x2="0" y2="1"><stop offset="0.000" stop-color="#140000"/><stop offset="0.015" stop-color="#170000"/><stop offset="0.050" stop-color="#1f0000"/><stop offset="0.085" stop-color="#290000"/><stop offset="0.112" stop-color="#330000"/><stop offset="0.158" stop-color="#4c0000"/><stop offset="0.212" stop-color="#800000"/><stop offset="0.246" stop-color="#b83800"/><stop offset="0.274" stop-color="#ff8000"/><stop offset="0.293" stop-color="#ffbd3d"/><stop offset="0.309" stop-color="#ffff80"/><stop offset="0.325" stop-color="#ffffbd"/><stop offset="0.337" stop-color="#ffffe5"/><stop offset="0.348" stop-color="#ffffff"/><stop offset="0.353" stop-color="#ffffff"/><stop offset="0.362" stop-color="#ffffe5"/><stop offset="0.372" stop-color="#ffffbd"/><stop offset="0.386" stop-color="#ffff80"/><stop offset="0.402" stop-color="#ffbd3d"/><stop offset="0.419" stop-color="#ff8000"/><stop offset="0.447" stop-color="#b83800"/><stop offset="0.482" stop-color="#800000"/><stop offset="0.540" stop-color="#4c0000"/><stop offset="0.596" stop-color="#330000"/><stop offset="0.631" stop-color="#290000"/><stop offset="0.682" stop-color="#1f0000"/><stop offset="0.738" stop-color="#170000"/><stop offset="0.827" stop-color="#0f0000"/><stop offset="1.000" stop-color="#080000"/></linearGradient><linearGradient id="h75" x1="0" y1="0" x2="0" y2="1"><stop offset="0.000" stop-color="#0f0000"/><stop offset="0.042" stop-color="#170000"/><stop offset="0.074" stop-color="#1f0000"/><stop offset="0.106" stop-color="#290000"/><stop offset="0.130" stop-color="#330000"/><stop offset="0.172" stop-color="#4c0000"/><stop offset="0.220" stop-color="#800000"/><stop offset="0.251" stop-color="#b83800"/><stop offset="0.277" stop-color="#ff8000"/><stop offset="0.294" stop-color="#ffbd3d"/><stop offset="0.309" stop-color="#ffff80"/><stop offset="0.323" stop-color="#ffffbd"/><stop offset="0.334" stop-color="#ffffe5"/><stop offset="0.344" stop-color="#ffffff"/><stop offset="0.349" stop-color="#ffffff"/><stop offset="0.357" stop-color="#ffffe5"/><stop offset="0.366" stop-color="#ffffbd"/><stop offset="0.379" stop-color="#ffff80"/><stop offset="0.393" stop-color="#ffbd3d"/><stop offset="0.409" stop-color="#ff8000"/><stop offset="0.435" stop-color="#b83800"/><stop offset="0.467" stop-color="#800000"/><stop offset="0.520" stop-color="#4c0000"/><stop offset="0.571" stop-color="#330000"/><stop offset="0.603" stop-color="#290000"/><stop offset="0.650" stop-color="#1f0000"/><stop offset="0.701" stop-color="#170000"/><stop offset="0.782" stop-color="#0f0000"/><stop offset="0.990" stop-color="#060000"/><stop offset="1.000" stop-color="#060000"/></linearGradient><linearGradient id="h76" x1="0" y1="0" x2="0" y2="1"><stop offset="0.000" stop-color="#0f0000"/><stop offset="0.002" stop-color="#0f0000"/><stop offset="0.044" stop-color="#170000"/><stop offset="0.075" stop-color="#1f0000"/><stop offset="0.106" stop-color="#290000"/><stop offset="0.130" stop-color="#330000"/><stop offset="0.172" stop-color="#4c0000"/><stop offset="0.220" stop-color="#800000"/><stop offset="0.250" stop-color="#b83800"/><stop offset="0.276" stop-color="#ff8000"/><stop offset="0.292" stop-color="#ffbd3d"/><stop offset="0.307" stop-color="#ffff80"/><stop offset="0.321" stop-color="#ffffbd"/><stop offset="0.332" stop-color="#ffffe5"/><stop offset="0.342" stop-color="#ffffff"/><stop offset="0.347" stop-color="#ffffff"/><stop offset="0.355" stop-color="#ffffe5"/><stop offset="0.365" stop-color="#ffffbd"/><stop offset="0.378" stop-color="#ffff80"/><stop offset="0.393" stop-color="#ffbd3d"/><stop offset="0.409" stop-color="#ff8000"/><stop offset="0.436" stop-color="#b83800"/><stop offset="0.469" stop-color="#800000"/><stop offset="0.524" stop-color="#4c0000"/><stop offset="0.577" stop-color="#330000"/><stop offset="0.611" stop-color="#290000"/><stop offset="0.659" stop-color="#1f0000"/><stop offset="0.712" stop-color="#170000"/><stop offset="0.796" stop-color="#0f0000"/><stop offset="1.000" stop-color="#060000"/></linearGradient><linearGradient id="h77" x1="0" y1="0" x2="0" y2="1"><stop offset="0.000" stop-color="#100000"/><stop offset="0.039" stop-color="#170000"/><stop offset="0.071" stop-color="#1f0000"/><stop offset="0.102" stop-color="#290000"/><stop offset="0.127" stop-color="#330000"/><stop offset="0.169" stop-color="#4c0000"/><stop offset="0.217" stop-color="#800000"/><stop offset="0.248" stop-color="#b83800"/><stop offset="0.273" stop-color="#ff8000"/><stop offset="0.290" stop-color="#ffbd3d"/><stop offset="0.305" stop-color="#ffff80"/><stop offset="0.319" stop-color="#ffffbd"/><stop offset="0.330" stop-color="#ffffe5"/><stop offset="0.340" stop-color="#ffffff"/><stop offset="0.345" stop-color="#ffffff"/><stop offset="0.354" stop-color="#ffffe5"/><stop offset="0.365" stop-color="#ffffbd"/><stop offset="0.378" stop-color="#ffff80"/><stop offset="0.394" stop-color="#ffbd3d"/><stop offset="0.412" stop-color="#ff8000"/><stop offset="0.440" stop-color="#b83800"/><stop offset="0.475" stop-color="#800000"/><stop offset="0.534" stop-color="#4c0000"/><stop offset="0.590" stop-color="#330000"/><stop offset="0.626" stop-color="#290000"/><stop offset="0.677" stop-color="#1f0000"/><stop offset="0.734" stop-color="#170000"/><stop offset="0.823" stop-color="#0f0000"/><stop offset="1.000" stop-color="#080000"/></linearGradient><linearGradient id="h78" x1="0" y1="0" x2="0" y2="1"><stop offset="0.000" stop-color="#0a0000"/><stop offset="0.032" stop-color="#0f0000"/><stop offset="0.070" stop-color="#170000"/><stop offset="0.098" stop-color="#1f0000"/><stop offset="0.126" stop-color="#290000"/><stop offset="0.148" stop-color="#330000"/><stop offset="0.185" stop-color="#4c0000"/><stop offset="0.228" stop-color="#800000"/><stop offset="0.256" stop-color="#b83800"/><stop offset="0.279" stop-color="#ff8000"/><stop offset="0.294" stop-color="#ffbd3d"/><stop offset="0.307" stop-color="#ffff80"/><stop offset="0.319" stop-color="#ffffbd"/><stop offset="0.329" stop-color="#ffffe5"/><stop offset="0.338" stop-color="#ffffff"/><stop offset="0.343" stop-color="#ffffff"/><stop offset="0.352" stop-color="#ffffe5"/><stop offset="0.362" stop-color="#ffffbd"/><stop offset="0.375" stop-color="#ffff80"/><stop offset="0.390" stop-color="#ffbd3d"/><stop offset="0.407" stop-color="#ff8000"/><stop offset="0.433" stop-color="#b83800"/><stop offset="0.467" stop-color="#800000"/><stop offset="0.523" stop-color="#4c0000"/><stop offset="0.577" stop-color="#330000"/><stop offset="0.611" stop-color="#290000"/><stop offset="0.659" stop-color="#1f0000"/><stop offset="0.713" stop-color="#170000"/><stop offset="0.799" stop-color="#0f0000"/><stop offset="1.000" stop-color="#070000"/></linearGradient><linearGradient id="h79" x1="0" y1="0" x2="0" y2="1"><stop offset="0.000" stop-color="#080000"/><stop offset="0.051" stop-color="#0f0000"/><stop offset="0.086" stop-color="#170000"/><stop offset="0.113" stop-color="#1f0000"/><stop offset="0.139" stop-color="#290000"/><stop offset="0.159" stop-color="#330000"/><stop offset="0.194" stop-color="#4c0000"/><stop offset="0.234" stop-color="#800000"/><stop offset="0.260" stop-color="#b83800"/><stop offset="0.281" stop-color="#ff8000"/><stop offset="0.295" stop-color="#ffbd3d"/><stop offset="0.307" stop-color="#ffff80"/><stop offset="0.319" stop-color="#ffffbd"/><stop offset="0.328" stop-color="#ffffe5"/><stop offset="0.336" stop-color="#ffffff"/><stop offset="0.341" stop-color="#ffffff"/><stop offset="0.349" stop-color="#ffffe5"/><stop offset="0.358" stop-color="#ffffbd"/><stop offset="0.370" stop-color="#ffff80"/><stop offset="0.384" stop-color="#ffbd3d"/><stop offset="0.400" stop-color="#ff8000"/><stop offset="0.425" stop-color="#b83800"/><stop offset="0.456" stop-color="#800000"/><stop offset="0.508" stop-color="#4c0000"/><stop offset="0.559" stop-color="#330000"/><stop offset="0.591" stop-color="#290000"/><stop offset="0.636" stop-color="#1f0000"/><stop offset="0.686" stop-color="#170000"/><stop offset="0.766" stop-color="#0f0000"/><stop offset="0.970" stop-color="#060000"/><stop offset="1.000" stop-color="#050000"/></linearGradient><linearGradient id="h80" x1="0" y1="0" x2="0" y2="1"><stop offset="0.000" stop-color="#0c0000"/><stop offset="0.021" stop-color="#0f0000"/><stop offset="0.059" stop-color="#170000"/><stop offset="0.088" stop-color="#1f0000"/><stop offset="0.117" stop-color="#290000"/><stop offset="0.139" stop-color="#330000"/><stop offset="0.178" stop-color="#4c0000"/><stop offset="0.222" stop-color="#800000"/><stop offset="0.250" stop-color="#b83800"/><stop offset="0.274" stop-color="#ff8000"/><stop offset="0.289" stop-color="#ffbd3d"/><stop offset="0.303" stop-color="#ffff80"/><stop offset="0.315" stop-color="#ffffbd"/><stop offset="0.325" stop-color="#ffffe5"/><stop offset="0.335" stop-color="#ffffff"/><stop offset="0.339" stop-color="#ffffff"/><stop offset="0.347" stop-color="#ffffe5"/><stop offset="0.356" stop-color="#ffffbd"/><stop offset="0.369" stop-color="#ffff80"/><stop offset="0.383" stop-color="#ffbd3d"/><stop offset="0.398" stop-color="#ff8000"/><stop offset="0.424" stop-color="#b83800"/><stop offset="0.455" stop-color="#800000"/><stop offset="0.507" stop-color="#4c0000"/><stop offset="0.558" stop-color="#330000"/><stop offset="0.589" stop-color="#290000"/><stop offset="0.635" stop-color="#1f0000"/><stop offset="0.686" stop-color="#170000"/><stop offset="0.765" stop-color="#0f0000"/><stop offset="0.970" stop-color="#060000"/><stop offset="1.000" stop-color="#050000"/></linearGradient><linearGradient id="cb" x1="0" y1="0" x2="0" y2="1"><stop offset="0.00" stop-color="#ffffff"/><stop offset="0.25" stop-color="#ffff80"/><stop offset="0.50" stop-color="#ff8000"/><stop offset="0.75" stop-color="#800000"/><stop offset="1.00" stop-color="#000000"/></linearGradient><filter id="hb" x="-2%" y="-2%" width="104%" height="104%"><feGaussianBlur stdDeviation="1.6 0.4"/></filter><clipPath id="hc"><rect x="112.4" y="351.3" width="324" height="267.1"/></clipPath></defs>
<rect x="112.4" y="351.3" width="324" height="267.1" fill="#000"/>
<g clip-path="url(#hc)"><g filter="url(#hb)"><rect x="112.1" y="351.3" width="4.6" height="267.1" fill="url(#h0)"/><rect x="116.1" y="351.3" width="4.6" height="267.1" fill="url(#h1)"/><rect x="120.1" y="351.3" width="4.6" height="267.1" fill="url(#h2)"/><rect x="124.1" y="351.3" width="4.6" height="267.1" fill="url(#h3)"/><rect x="128.1" y="351.3" width="4.6" height="267.1" fill="url(#h4)"/><rect x="132.1" y="351.3" width="4.6" height="267.1" fill="url(#h5)"/><rect x="136.1" y="351.3" width="4.6" height="267.1" fill="url(#h6)"/><rect x="140.1" y="351.3" width="4.6" height="267.1" fill="url(#h7)"/><rect x="144.1" y="351.3" width="4.6" height="267.1" fill="url(#h8)"/><rect x="148.1" y="351.3" width="4.6" height="267.1" fill="url(#h9)"/><rect x="152.1" y="351.3" width="4.6" height="267.1" fill="url(#h10)"/><rect x="156.1" y="351.3" width="4.6" height="267.1" fill="url(#h11)"/><rect x="160.1" y="351.3" width="4.6" height="267.1" fill="url(#h12)"/><rect x="164.1" y="351.3" width="4.6" height="267.1" fill="url(#h13)"/><rect x="168.1" y="351.3" width="4.6" height="267.1" fill="url(#h14)"/><rect x="172.1" y="351.3" width="4.6" height="267.1" fill="url(#h15)"/><rect x="176.1" y="351.3" width="4.6" height="267.1" fill="url(#h16)"/><rect x="180.1" y="351.3" width="4.6" height="267.1" fill="url(#h17)"/><rect x="184.1" y="351.3" width="4.6" height="267.1" fill="url(#h18)"/><rect x="188.1" y="351.3" width="4.6" height="267.1" fill="url(#h19)"/><rect x="192.1" y="351.3" width="4.6" height="267.1" fill="url(#h20)"/><rect x="196.1" y="351.3" width="4.6" height="267.1" fill="url(#h21)"/><rect x="200.1" y="351.3" width="4.6" height="267.1" fill="url(#h22)"/><rect x="204.1" y="351.3" width="4.6" height="267.1" fill="url(#h23)"/><rect x="208.1" y="351.3" width="4.6" height="267.1" fill="url(#h24)"/><rect x="212.1" y="351.3" width="4.6" height="267.1" fill="url(#h25)"/><rect x="216.1" y="351.3" width="4.6" height="267.1" fill="url(#h26)"/><rect x="220.1" y="351.3" width="4.6" height="267.1" fill="url(#h27)"/><rect x="224.1" y="351.3" width="4.6" height="267.1" fill="url(#h28)"/><rect x="228.1" y="351.3" width="4.6" height="267.1" fill="url(#h29)"/><rect x="232.1" y="351.3" width="4.6" height="267.1" fill="url(#h30)"/><rect x="236.1" y="351.3" width="4.6" height="267.1" fill="url(#h31)"/><rect x="240.1" y="351.3" width="4.6" height="267.1" fill="url(#h32)"/><rect x="244.1" y="351.3" width="4.6" height="267.1" fill="url(#h33)"/><rect x="248.1" y="351.3" width="4.6" height="267.1" fill="url(#h34)"/><rect x="252.1" y="351.3" width="4.6" height="267.1" fill="url(#h35)"/><rect x="256.1" y="351.3" width="4.6" height="267.1" fill="url(#h36)"/><rect x="260.1" y="351.3" width="4.6" height="267.1" fill="url(#h37)"/><rect x="264.1" y="351.3" width="4.6" height="267.1" fill="url(#h38)"/><rect x="268.1" y="351.3" width="4.6" height="267.1" fill="url(#h39)"/><rect x="272.1" y="351.3" width="4.6" height="267.1" fill="url(#h40)"/><rect x="276.1" y="351.3" width="4.6" height="267.1" fill="url(#h41)"/><rect x="280.1" y="351.3" width="4.6" height="267.1" fill="url(#h42)"/><rect x="284.1" y="351.3" width="4.6" height="267.1" fill="url(#h43)"/><rect x="288.1" y="351.3" width="4.6" height="267.1" fill="url(#h44)"/><rect x="292.1" y="351.3" width="4.6" height="267.1" fill="url(#h45)"/><rect x="296.1" y="351.3" width="4.6" height="267.1" fill="url(#h46)"/><rect x="300.1" y="351.3" width="4.6" height="267.1" fill="url(#h47)"/><rect x="304.1" y="351.3" width="4.6" height="267.1" fill="url(#h48)"/><rect x="308.1" y="351.3" width="4.6" height="267.1" fill="url(#h49)"/><rect x="312.1" y="351.3" width="4.6" height="267.1" fill="url(#h50)"/><rect x="316.1" y="351.3" width="4.6" height="267.1" fill="url(#h51)"/><rect x="320.1" y="351.3" width="4.6" height="267.1" fill="url(#h52)"/><rect x="324.1" y="351.3" width="4.6" height="267.1" fill="url(#h53)"/><rect x="328.1" y="351.3" width="4.6" height="267.1" fill="url(#h54)"/><rect x="332.1" y="351.3" width="4.6" height="267.1" fill="url(#h55)"/><rect x="336.1" y="351.3" width="4.6" height="267.1" fill="url(#h56)"/><rect x="340.1" y="351.3" width="4.6" height="267.1" fill="url(#h57)"/><rect x="344.1" y="351.3" width="4.6" height="267.1" fill="url(#h58)"/><rect x="348.1" y="351.3" width="4.6" height="267.1" fill="url(#h59)"/><rect x="352.1" y="351.3" width="4.6" height="267.1" fill="url(#h60)"/><rect x="356.1" y="351.3" width="4.6" height="267.1" fill="url(#h61)"/><rect x="360.1" y="351.3" width="4.6" height="267.1" fill="url(#h62)"/><rect x="364.1" y="351.3" width="4.6" height="267.1" fill="url(#h63)"/><rect x="368.1" y="351.3" width="4.6" height="267.1" fill="url(#h64)"/><rect x="372.1" y="351.3" width="4.6" height="267.1" fill="url(#h65)"/><rect x="376.1" y="351.3" width="4.6" height="267.1" fill="url(#h66)"/><rect x="380.1" y="351.3" width="4.6" height="267.1" fill="url(#h67)"/><rect x="384.1" y="351.3" width="4.6" height="267.1" fill="url(#h68)"/><rect x="388.1" y="351.3" width="4.6" height="267.1" fill="url(#h69)"/><rect x="392.1" y="351.3" width="4.6" height="267.1" fill="url(#h70)"/><rect x="396.1" y="351.3" width="4.6" height="267.1" fill="url(#h71)"/><rect x="400.1" y="351.3" width="4.6" height="267.1" fill="url(#h72)"/><rect x="404.1" y="351.3" width="4.6" height="267.1" fill="url(#h73)"/><rect x="408.1" y="351.3" width="4.6" height="267.1" fill="url(#h74)"/><rect x="412.1" y="351.3" width="4.6" height="267.1" fill="url(#h75)"/><rect x="416.1" y="351.3" width="4.6" height="267.1" fill="url(#h76)"/><rect x="420.1" y="351.3" width="4.6" height="267.1" fill="url(#h77)"/><rect x="424.1" y="351.3" width="4.6" height="267.1" fill="url(#h78)"/><rect x="428.1" y="351.3" width="4.6" height="267.1" fill="url(#h79)"/><rect x="432.1" y="351.3" width="4.6" height="267.1" fill="url(#h80)"/></g></g>
<path d="M136.3 541.3 L412 440.2" stroke="#2a2ab8" stroke-width="2.3" stroke-dasharray="7.8 4.4" fill="none"/>
<g fill="#fff" fill-opacity="0.55" stroke="#8a8ad2" stroke-width="1.1"><circle cx="153.1" cy="532.9" r="3.1"/><circle cx="177.4" cy="527.5" r="3.1"/><circle cx="201.6" cy="522.2" r="3.1"/><circle cx="225.8" cy="511.5" r="3.1"/><circle cx="250" cy="500.8" r="3.1"/><circle cx="274.2" cy="490.1" r="3.1"/><circle cx="298.4" cy="479.5" r="3.1"/><circle cx="322.6" cy="468.8" r="3.1"/><circle cx="346.8" cy="463.4" r="3.1"/><circle cx="371" cy="458.1" r="3.1"/><circle cx="395.2" cy="447.4" r="3.1"/></g>
<g font-family="DejaVu Sans, Liberation Sans, sans-serif" font-size="15.5" fill="#f3dede" text-anchor="middle"><text x="322.3" y="548.2">S = 57.61 Hz/Oe</text><text x="322.3" y="565.3">R² = 0.983</text></g>
<g stroke="#1a1a1a" stroke-width="1.2"><path d="M112.8 618.4 v4.8"/><path d="M193.5 618.4 v4.8"/><path d="M274.2 618.4 v4.8"/><path d="M354.9 618.4 v4.8"/><path d="M435.6 618.4 v4.8"/><path d="M112.4 351.3 h-4.8"/><path d="M112.4 404.7 h-4.8"/><path d="M112.4 458.1 h-4.8"/><path d="M112.4 511.6 h-4.8"/><path d="M112.4 565 h-4.8"/><path d="M112.4 618.4 h-4.8"/></g>
<g font-family="DejaVu Sans, Liberation Sans, sans-serif" font-size="15.6" fill="#1a1a1a" text-anchor="end">
<text x="104.6" y="357">6.7368</text>
<text x="104.6" y="410.4">6.7367</text>
<text x="104.6" y="463.8">6.7366</text>
<text x="104.6" y="517.3">6.7365</text>
<text x="104.6" y="570.7">6.7364</text>
<text x="104.6" y="624.1">6.7363</text>
</g>
<g font-family="DejaVu Sans, Liberation Sans, sans-serif" font-size="15.6" fill="#1a1a1a" text-anchor="middle">
<text x="112.8" y="638.6">−2</text>
<text x="193.5" y="638.6">−1</text>
<text x="274.2" y="638.6">0</text>
<text x="354.9" y="638.6">1</text>
<text x="435.6" y="638.6">2</text>
</g>
<text x="274" y="660.6" font-family="DejaVu Sans, Liberation Sans, sans-serif" font-size="19.4" fill="#1a1a1a" text-anchor="middle"><tspan font-style="italic">H</tspan> (kOe)</text>
<text transform="translate(44.2 482) rotate(-90)" font-family="DejaVu Sans, Liberation Sans, sans-serif" font-size="19.6" fill="#1a1a1a" text-anchor="middle"><tspan font-style="italic">f</tspan> (GHz)</text>
<rect x="456.2" y="351.3" width="14.2" height="267.3" fill="url(#cb)" stroke="#8c8c8c" stroke-width="1"/>
<text transform="translate(487.6 485.8) rotate(-90)" font-family="DejaVu Sans, Liberation Sans, sans-serif" font-size="16" fill="#1a1a1a" text-anchor="middle">|S11|² (arb. units)</text>
<text x="13.7" y="357" font-family="Liberation Sans, sans-serif" font-weight="bold" font-size="21.8" fill="#111" textLength="29.8" lengthAdjust="spacing">(b)</text>
<!-- part_c -->
<text x="496.2" y="116.8" font-family="Liberation Sans, sans-serif" font-weight="bold" font-size="30.2" fill="#111">(c)</text>
<rect x="520" y="131.7" width="550.8" height="385" fill="#fff" stroke="#3c3c3c" stroke-width="1.1"/>
<path d="M544.4 139.4 H1046 A18.2 18.2 0 0 0 1064.2 157.6 V491.1 A18.2 18.2 0 0 0 1046 509.3 H544.4 A18.2 18.2 0 0 0 526.2 491.1 V157.6 A18.2 18.2 0 0 0 544.4 139.4Z" fill="none" stroke="#8a2036" stroke-width="2.2"/>
<path d="M549.7 146 H1040.7 A24.4 24.4 0 0 0 1058.3 163.1 V485.6 A24.4 24.4 0 0 0 1040.7 502.6 H549.7 A24.4 24.4 0 0 0 533 485.9 V162.8 A24.4 24.4 0 0 0 549.7 146Z" fill="none" stroke="#ab959b" stroke-width="0.9"/>
<g transform="translate(655 160) scale(0.10451)">
<path d="M507 38 A338 338 0 1 0 449 595" fill="none" stroke="#111" stroke-width="33"/>
<path d="M199 72 A243 243 0 0 0 80 418" fill="none" stroke="#111" stroke-width="13"/>
<path d="M440 106 A243 243 0 0 1 528 246" fill="none" stroke="#111" stroke-width="12"/>
<path d="M170 205 A150 150 0 0 0 150 300 M205 215 A120 120 0 0 0 190 280" fill="none" stroke="#111" stroke-width="8"/>
<path d="M125 190 L240 176 L240 188 Z M150 212 L240 198 L240 208Z" fill="#111"/>
<path d="M205 345 V285 h32 V205 h14 V130 h-10 V52 h14 V30 h30 V12 l12 -14 l12 14 V30 h32 V52 h12 V130 h-10 V205 h-4 V300 l-40 45 Z" fill="#222"/>
<path d="M252 210 h58 v118 h-58z" fill="#b9b9b9"/>
<path d="M270 232 V330 M292 232 V330" stroke="#222" stroke-width="9" fill="none"/>
<path d="M262 66 V122 M282 66 V122 M302 66 V122 M322 66 V122 M270 140 V198 M296 140 V198 M320 140 V198" stroke="#8d8d8d" stroke-width="5" fill="none"/>
<path d="M366 80 C420 50 510 46 566 76 C590 90 602 106 604 124 C580 104 548 100 520 108 C546 116 566 130 574 150 C540 140 500 144 470 162 C440 180 420 200 404 226 L382 190 Z" fill="#9c2338"/>
<path d="M384 118 C430 92 480 86 524 92 M392 150 C430 126 462 120 494 124" stroke="#fff" stroke-width="7" fill="none"/>
<path d="M45 495 L125 432 L122 396 L270 352 L330 322 L418 300 C418 262 472 262 472 294 L540 284 L574 240 L560 190 L534 142 L626 134 L612 180 L610 214 L620 204 L690 204 L692 266 L702 290 C732 320 736 380 706 420 L746 470 L792 470 L852 592 L562 592 L542 566 L490 606 L380 612 L290 600 L130 560 Z" fill="#9c2338"/>
<circle cx="655" cy="355" r="58" fill="none" stroke="#fff" stroke-width="7"/>
<circle cx="655" cy="355" r="30" fill="none" stroke="#fff" stroke-width="12"/>
<path d="M268 408 L596 304 M286 470 L560 398" stroke="#fff" stroke-width="8" fill="none"/>
<path d="M470 350 L520 452 M500 340 L548 436" stroke="#fff" stroke-width="7" fill="none"/>
<path d="M140 410 L256 376 M152 440 V545 M186 428 V552 M150 490 h40" stroke="#fff" stroke-width="8" fill="none"/>
<path d="M634 220 h42 v32 h-42z" fill="none" stroke="#fff" stroke-width="7"/>
<path d="M548 158 L612 152" stroke="#fff" stroke-width="6"/>
<path d="M300 520 q16 -28 32 0 t32 0 t32 0 t32 0 M296 556 q18 22 36 0 t36 0 t36 0" stroke="#fff" stroke-width="8" fill="none"/>
<circle cx="470" cy="505" r="24" fill="none" stroke="#fff" stroke-width="8"/>
<circle cx="572" cy="548" r="17" fill="none" stroke="#fff" stroke-width="8"/>
<path d="M600 488 L790 488" stroke="#fff" stroke-width="5"/>
<path d="M610 500 L820 500 M610 520 L820 520 M610 540 L820 540 M610 560 L820 560" stroke="#fff" stroke-width="9" stroke-dasharray="5 9" stroke-opacity="0.85"/>
</g>
<text x="746.3" y="165" font-family="Liberation Sans, sans-serif" font-weight="bold" font-size="16.6" fill="#111" stroke="#111" stroke-width="0.4" textLength="35.6" lengthAdjust="spacingAndGlyphs">IEEE</text>
<text x="746.2" y="207.3" font-family="Liberation Sans, sans-serif" font-weight="bold" font-size="55" fill="#9c2338" stroke="#9c2338" stroke-width="1.5" stroke-linejoin="round" textLength="80.6" lengthAdjust="spacingAndGlyphs">IUS</text>
<text x="832.8" y="207.3" font-family="Liberation Sans, sans-serif" font-weight="bold" font-size="55" fill="#9c2338" stroke="#9c2338" stroke-width="1.5" stroke-linejoin="round" textLength="115.6" lengthAdjust="spacingAndGlyphs">2025</text>
<text x="746.3" y="220.4" font-family="Liberation Sans, sans-serif" font-size="11.6" fill="#4d3238" stroke="#4d3238" stroke-width="0.3" textLength="196.5" lengthAdjust="spacingAndGlyphs">International Ultrasonics Symposium</text>
<text x="746.3" y="231" font-family="Liberation Sans, sans-serif" font-weight="bold" font-size="8.6" fill="#222" textLength="196.5" lengthAdjust="spacingAndGlyphs">September 15 - 18, 2025 <tspan fill="#9c2338">||</tspan> Utrecht, Netherlands</text>
<text x="798.2" y="274.4" font-family="Liberation Serif, serif" font-size="27.4" fill="#1c1c1c" text-anchor="middle" textLength="318.5" lengthAdjust="spacingAndGlyphs">Best Student Poster Award</text>
<text x="797" y="295.6" font-family="Liberation Serif, serif" font-size="8.8" fill="#555" text-anchor="middle" textLength="124" lengthAdjust="spacing">IS PRESENTED TO</text>
<text x="797.6" y="321.6" font-family="Liberation Serif, serif" font-size="14.4" fill="#333" text-anchor="middle" textLength="362" lengthAdjust="spacingAndGlyphs">Chuang Man, Hongsheng Zheng, Zhiqiang Mu, Yumeng Yang</text>
<text x="790.3" y="346.7" font-family="Liberation Serif, serif" font-size="8.8" fill="#555" text-anchor="middle" textLength="182.5" lengthAdjust="spacing">FOR THE POSTER ENTITLED</text>
<text x="794.8" y="371.6" font-family="Liberation Serif, serif" font-weight="bold" font-size="12.4" fill="#1c1c1c" text-anchor="middle" textLength="373.5" lengthAdjust="spacingAndGlyphs">High-Frequency Bulk Acoustic Wave Resonator with Ferromagnetic</text>
<text x="795.3" y="386.4" font-family="Liberation Serif, serif" font-weight="bold" font-size="12.4" fill="#1c1c1c" text-anchor="middle" textLength="205.5" lengthAdjust="spacingAndGlyphs">Electrodes for Magnetic Field Sensing</text>
<text x="798" y="414.3" font-family="Liberation Serif, serif" font-size="8.4" fill="#3a3a3a" text-anchor="middle" textLength="321" lengthAdjust="spacingAndGlyphs">PRESENTED AT THE 2025 IEEE INTERNATIONAL ULTRASONICS SYMPOSIUM</text>
<text x="798" y="425.9" font-family="Liberation Serif, serif" font-size="6.9" fill="#333" text-anchor="middle" textLength="199" lengthAdjust="spacingAndGlyphs">SEPTEMBER 15-18, 2025 | UTRECHT, NETHERLANDS</text>
<g transform="translate(562.4 470)"><path d="M0 -15.8 Q7 -6.5 16.4 0 Q7 6.5 0 15.8 Q-7 6.5 -16.4 0 Q-7 -6.5 0 -15.8Z" fill="#111"/><path d="M0 -11.6 L11.8 0 L0 11.6 L-11.8 0Z" fill="none" stroke="#eee" stroke-width="1"/><path d="M0 -6.6 V8.2" stroke="#fff" stroke-width="1.6" fill="none"/><path d="M-1.5 -4.6 L0 -8 L1.5 -4.6Z" fill="#fff"/><path d="M-2.2 -2.6 A4.4 3 0 1 0 -2.2 3.2 M2.2 3.2 A4.4 3 0 1 0 2.2 -2.6" stroke="#fff" stroke-width="1.3" fill="none"/></g>
<text x="580.9" y="481.7" font-family="Liberation Sans, sans-serif" font-weight="bold" font-size="32.8" fill="#111" stroke="#111" stroke-width="1.1" textLength="74.4" lengthAdjust="spacingAndGlyphs">IEEE</text>
<g fill="none" stroke="#7d7d7d" stroke-width="0.65" stroke-linecap="round"><path d="M700 472.5 C712 465 726 455 742 448.5 C752 444.5 762 442 768.5 441.5 C760 445 748 449.5 738 454 C729 458 721 461.5 716 464.5"/><path d="M716 458.5 C719 453 726 449.8 731 451.5 C727 453.5 722 456.5 718 459.5 C724 458 733 455 741 453.5 C736 456 729 458.5 722 461 M733 452 C741 450 750 448 757 447.5 M743 455 C751 452 760 449.5 768 448"/></g>
<g fill="none" stroke="#8a9cb8" stroke-width="0.8" stroke-linecap="round"><path d="M872.5 472.5 C884 462 898 451 910 444 C916 440 922 436 926 432.5 C918 438 908 444 899 448.5 C893 451.5 888 454.5 884.5 457"/><path d="M884 446 C880 442 875 447 874 455 C873 462 878 465 883 460 C886 456 886 449 882 448 C878 448 876 453 878 456 C880 458 884 456 884 452"/></g>
<g font-family="DejaVu Sans, Liberation Sans, sans-serif" font-size="6.9" fill="#828282" text-anchor="middle">
<text x="735.8" y="486" textLength="56.5" lengthAdjust="spacing">Chris de Korte</text>
<text x="736.2" y="496" textLength="112.5" lengthAdjust="spacing">IEEE IUS 2025 General Chair</text>
<text x="897" y="486" textLength="71" lengthAdjust="spacing">Ton van der Steen</text>
<text x="896.3" y="496" textLength="152.5" lengthAdjust="spacing">IEEE IUS 2025 Technical Program Chair</text>
</g>
<g>
<clipPath id="uc"><circle cx="1011.2" cy="459.4" r="20.4"/></clipPath>
<circle cx="1011.2" cy="459.4" r="20.6" fill="#fff" stroke="#1a699d" stroke-width="2"/>
<g clip-path="url(#uc)"><path d="M1011.2 461.4 L981.3 458.8 M1011.2 461.4 L982.2 453.6 M1011.2 461.4 L984 448.7 M1011.2 461.4 L986.6 444.2 M1011.2 461.4 L990 440.2 M1011.2 461.4 L994 436.8 M1011.2 461.4 L998.5 434.2 M1011.2 461.4 L1003.4 432.4 M1011.2 461.4 L1008.6 431.5 M1011.2 461.4 L1013.8 431.5 M1011.2 461.4 L1019 432.4 M1011.2 461.4 L1023.9 434.2 M1011.2 461.4 L1028.4 436.8 M1011.2 461.4 L1032.4 440.2 M1011.2 461.4 L1035.8 444.2 M1011.2 461.4 L1038.4 448.7 M1011.2 461.4 L1040.2 453.6 M1011.2 461.4 L1041.1 458.8" stroke="#b9d8ec" stroke-width="0.8" fill="none"/><rect x="988.2" y="464.4" width="46" height="20" fill="#3585bd"/><path d="M987.2 468 q2.4 -1.9 4.8 0 t4.8 0 q2.4 -1.9 4.8 0 t4.8 0 q2.4 -1.9 4.8 0 t4.8 0 q2.4 -1.9 4.8 0 t4.8 0 q2.4 -1.9 4.8 0 t4.8 0 " stroke="#d6eaf7" stroke-width="1" fill="none"/><path d="M987.2 471.1 q2.4 -1.9 4.8 0 t4.8 0 q2.4 -1.9 4.8 0 t4.8 0 q2.4 -1.9 4.8 0 t4.8 0 q2.4 -1.9 4.8 0 t4.8 0 q2.4 -1.9 4.8 0 t4.8 0 " stroke="#d6eaf7" stroke-width="1" fill="none"/><path d="M987.2 474.2 q2.4 -1.9 4.8 0 t4.8 0 q2.4 -1.9 4.8 0 t4.8 0 q2.4 -1.9 4.8 0 t4.8 0 q2.4 -1.9 4.8 0 t4.8 0 q2.4 -1.9 4.8 0 t4.8 0 " stroke="#d6eaf7" stroke-width="1" fill="none"/><path d="M987.2 477.3 q2.4 -1.9 4.8 0 t4.8 0 q2.4 -1.9 4.8 0 t4.8 0 q2.4 -1.9 4.8 0 t4.8 0 q2.4 -1.9 4.8 0 t4.8 0 q2.4 -1.9 4.8 0 t4.8 0 " stroke="#d6eaf7" stroke-width="1" fill="none"/><path d="M987.2 480.4 q2.4 -1.9 4.8 0 t4.8 0 q2.4 -1.9 4.8 0 t4.8 0 q2.4 -1.9 4.8 0 t4.8 0 q2.4 -1.9 4.8 0 t4.8 0 q2.4 -1.9 4.8 0 t4.8 0 " stroke="#d6eaf7" stroke-width="1" fill="none"/><rect x="988.2" y="452.4" width="46" height="13" fill="#1a699d"/></g>
<text x="1011.2" y="463.8" font-family="Liberation Sans, sans-serif" font-weight="bold" font-size="13.4" fill="#fff" text-anchor="middle" textLength="33" lengthAdjust="spacingAndGlyphs">UFFC</text>
<g font-family="Liberation Sans, sans-serif" font-weight="bold" font-size="4.1" fill="#1d5a9c" text-anchor="middle"><text x="1011.3" y="489" textLength="65" lengthAdjust="spacingAndGlyphs">IEEE Ultrasonics, Ferroelectrics,</text><text x="1011" y="494.4" textLength="62" lengthAdjust="spacingAndGlyphs">and Frequency Control Society</text></g>
</g>
</svg>
</body></html>
